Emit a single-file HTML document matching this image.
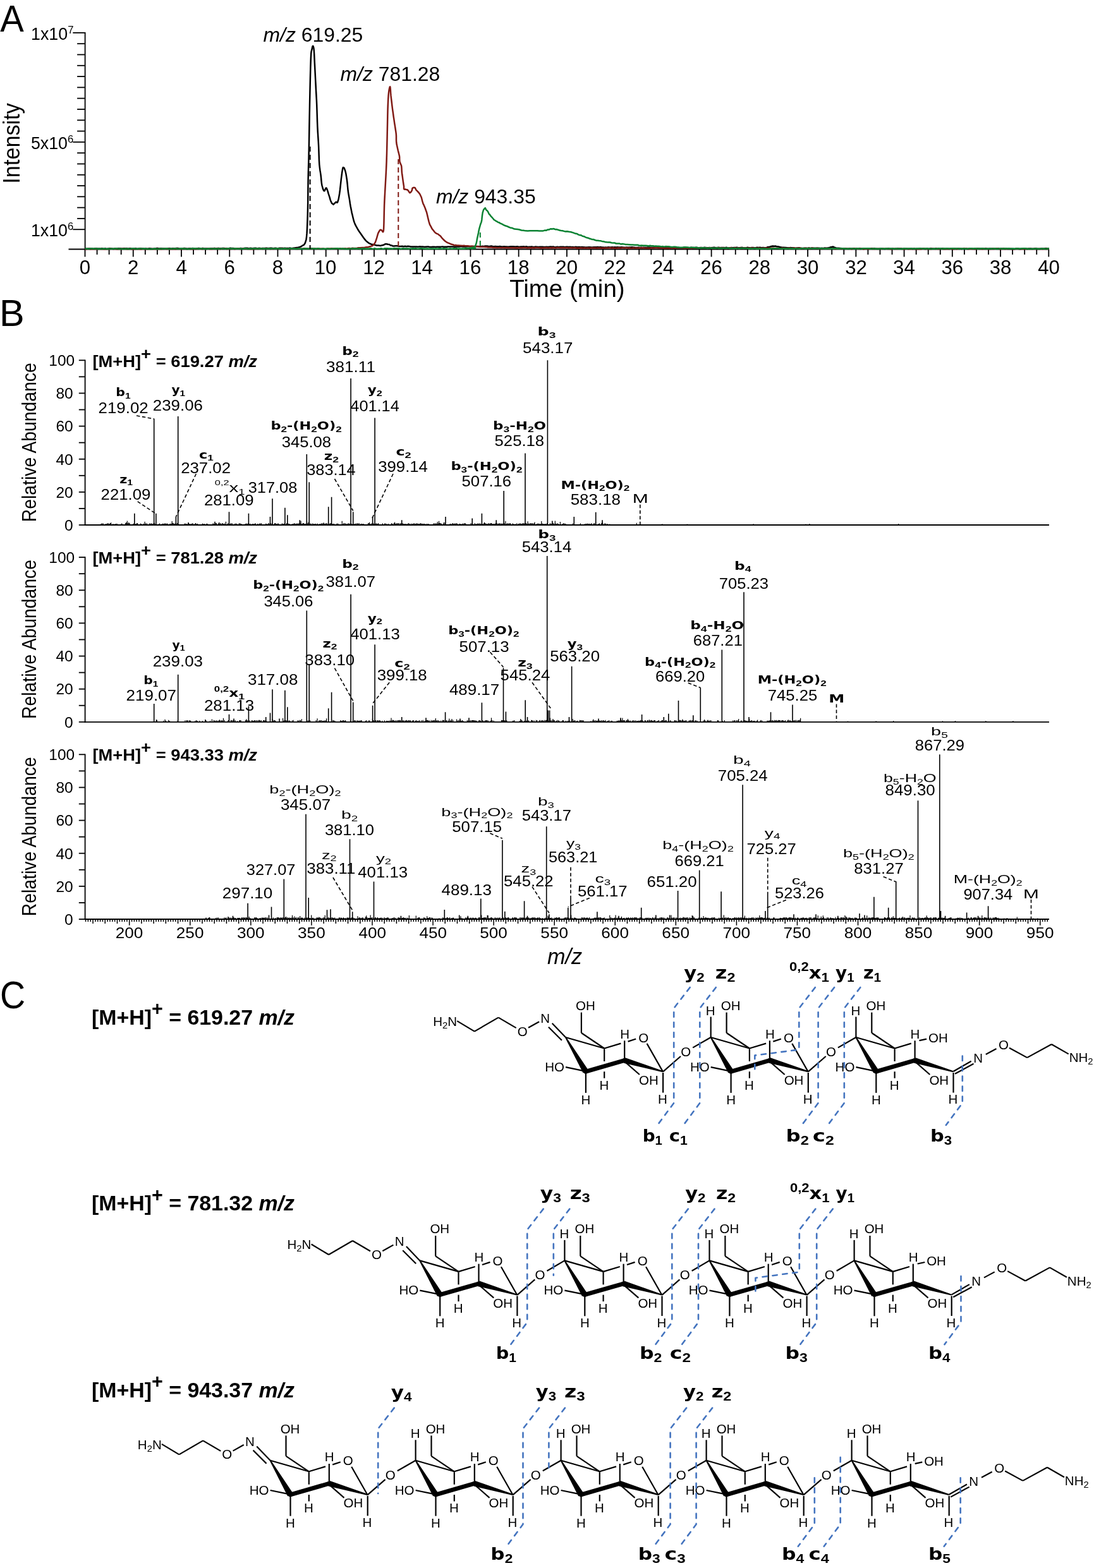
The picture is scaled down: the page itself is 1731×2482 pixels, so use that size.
<!DOCTYPE html>
<html><head><meta charset="utf-8"><title>Figure</title>
<style>html,body{margin:0;padding:0;background:#fff;overflow:hidden;} svg{display:block;} text{white-space:pre;}</style>
</head><body>
<svg width="1731" height="2482" viewBox="0 0 1731 2482">
<rect width="1731" height="2482" fill="#fff"/>
<text transform="translate(0.30,50.20) scale(0.9468,1.0000)" x="0" y="0" fill="#000"><tspan font-family="'Liberation Sans', sans-serif" font-size="59.40">A</tspan></text>
<line x1="134.60" y1="51.00" x2="134.60" y2="395.40" stroke="#000" stroke-width="1.8" />
<line x1="108.50" y1="394.50" x2="1660.00" y2="394.50" stroke="#000" stroke-width="1.8" />
<line x1="115.30" y1="51.90" x2="134.60" y2="51.90" stroke="#000" stroke-width="1.8" />
<line x1="122.10" y1="69.19" x2="134.60" y2="69.19" stroke="#000" stroke-width="1.8" />
<line x1="122.10" y1="86.49" x2="134.60" y2="86.49" stroke="#000" stroke-width="1.8" />
<line x1="122.10" y1="103.78" x2="134.60" y2="103.78" stroke="#000" stroke-width="1.8" />
<line x1="122.10" y1="121.08" x2="134.60" y2="121.08" stroke="#000" stroke-width="1.8" />
<line x1="122.10" y1="138.38" x2="134.60" y2="138.38" stroke="#000" stroke-width="1.8" />
<line x1="122.10" y1="155.67" x2="134.60" y2="155.67" stroke="#000" stroke-width="1.8" />
<line x1="122.10" y1="172.97" x2="134.60" y2="172.97" stroke="#000" stroke-width="1.8" />
<line x1="122.10" y1="190.26" x2="134.60" y2="190.26" stroke="#000" stroke-width="1.8" />
<line x1="122.10" y1="207.56" x2="134.60" y2="207.56" stroke="#000" stroke-width="1.8" />
<line x1="115.30" y1="224.85" x2="134.60" y2="224.85" stroke="#000" stroke-width="1.8" />
<line x1="122.10" y1="242.15" x2="134.60" y2="242.15" stroke="#000" stroke-width="1.8" />
<line x1="122.10" y1="259.44" x2="134.60" y2="259.44" stroke="#000" stroke-width="1.8" />
<line x1="122.10" y1="276.74" x2="134.60" y2="276.74" stroke="#000" stroke-width="1.8" />
<line x1="122.10" y1="294.03" x2="134.60" y2="294.03" stroke="#000" stroke-width="1.8" />
<line x1="122.10" y1="311.32" x2="134.60" y2="311.32" stroke="#000" stroke-width="1.8" />
<line x1="122.10" y1="328.62" x2="134.60" y2="328.62" stroke="#000" stroke-width="1.8" />
<line x1="122.10" y1="345.92" x2="134.60" y2="345.92" stroke="#000" stroke-width="1.8" />
<line x1="115.30" y1="363.21" x2="134.60" y2="363.21" stroke="#000" stroke-width="1.8" />
<text x="49.05" y="63.10" fill="#000"><tspan font-family="'Liberation Sans', sans-serif" font-size="26.80">1x10</tspan><tspan font-family="'Liberation Sans', sans-serif" font-size="16.70" dy="-10.51">7</tspan></text>
<text x="48.89" y="236.20" fill="#000"><tspan font-family="'Liberation Sans', sans-serif" font-size="26.80">5x10</tspan><tspan font-family="'Liberation Sans', sans-serif" font-size="16.70" dy="-10.51">6</tspan></text>
<text x="48.89" y="374.40" fill="#000"><tspan font-family="'Liberation Sans', sans-serif" font-size="26.80">1x10</tspan><tspan font-family="'Liberation Sans', sans-serif" font-size="16.70" dy="-10.51">6</tspan></text>
<line x1="134.50" y1="394.50" x2="134.50" y2="406.50" stroke="#000" stroke-width="1.8" />
<line x1="153.56" y1="394.50" x2="153.56" y2="403.00" stroke="#000" stroke-width="1.8" />
<line x1="172.62" y1="394.50" x2="172.62" y2="403.00" stroke="#000" stroke-width="1.8" />
<line x1="191.68" y1="394.50" x2="191.68" y2="403.00" stroke="#000" stroke-width="1.8" />
<line x1="210.74" y1="394.50" x2="210.74" y2="406.50" stroke="#000" stroke-width="1.8" />
<line x1="229.80" y1="394.50" x2="229.80" y2="403.00" stroke="#000" stroke-width="1.8" />
<line x1="248.86" y1="394.50" x2="248.86" y2="403.00" stroke="#000" stroke-width="1.8" />
<line x1="267.92" y1="394.50" x2="267.92" y2="403.00" stroke="#000" stroke-width="1.8" />
<line x1="286.98" y1="394.50" x2="286.98" y2="406.50" stroke="#000" stroke-width="1.8" />
<line x1="306.04" y1="394.50" x2="306.04" y2="403.00" stroke="#000" stroke-width="1.8" />
<line x1="325.10" y1="394.50" x2="325.10" y2="403.00" stroke="#000" stroke-width="1.8" />
<line x1="344.16" y1="394.50" x2="344.16" y2="403.00" stroke="#000" stroke-width="1.8" />
<line x1="363.22" y1="394.50" x2="363.22" y2="406.50" stroke="#000" stroke-width="1.8" />
<line x1="382.28" y1="394.50" x2="382.28" y2="403.00" stroke="#000" stroke-width="1.8" />
<line x1="401.34" y1="394.50" x2="401.34" y2="403.00" stroke="#000" stroke-width="1.8" />
<line x1="420.40" y1="394.50" x2="420.40" y2="403.00" stroke="#000" stroke-width="1.8" />
<line x1="439.46" y1="394.50" x2="439.46" y2="406.50" stroke="#000" stroke-width="1.8" />
<line x1="458.52" y1="394.50" x2="458.52" y2="403.00" stroke="#000" stroke-width="1.8" />
<line x1="477.58" y1="394.50" x2="477.58" y2="403.00" stroke="#000" stroke-width="1.8" />
<line x1="496.64" y1="394.50" x2="496.64" y2="403.00" stroke="#000" stroke-width="1.8" />
<line x1="515.70" y1="394.50" x2="515.70" y2="406.50" stroke="#000" stroke-width="1.8" />
<line x1="534.76" y1="394.50" x2="534.76" y2="403.00" stroke="#000" stroke-width="1.8" />
<line x1="553.82" y1="394.50" x2="553.82" y2="403.00" stroke="#000" stroke-width="1.8" />
<line x1="572.88" y1="394.50" x2="572.88" y2="403.00" stroke="#000" stroke-width="1.8" />
<line x1="591.94" y1="394.50" x2="591.94" y2="406.50" stroke="#000" stroke-width="1.8" />
<line x1="611.00" y1="394.50" x2="611.00" y2="403.00" stroke="#000" stroke-width="1.8" />
<line x1="630.06" y1="394.50" x2="630.06" y2="403.00" stroke="#000" stroke-width="1.8" />
<line x1="649.12" y1="394.50" x2="649.12" y2="403.00" stroke="#000" stroke-width="1.8" />
<line x1="668.18" y1="394.50" x2="668.18" y2="406.50" stroke="#000" stroke-width="1.8" />
<line x1="687.24" y1="394.50" x2="687.24" y2="403.00" stroke="#000" stroke-width="1.8" />
<line x1="706.30" y1="394.50" x2="706.30" y2="403.00" stroke="#000" stroke-width="1.8" />
<line x1="725.36" y1="394.50" x2="725.36" y2="403.00" stroke="#000" stroke-width="1.8" />
<line x1="744.42" y1="394.50" x2="744.42" y2="406.50" stroke="#000" stroke-width="1.8" />
<line x1="763.48" y1="394.50" x2="763.48" y2="403.00" stroke="#000" stroke-width="1.8" />
<line x1="782.54" y1="394.50" x2="782.54" y2="403.00" stroke="#000" stroke-width="1.8" />
<line x1="801.60" y1="394.50" x2="801.60" y2="403.00" stroke="#000" stroke-width="1.8" />
<line x1="820.66" y1="394.50" x2="820.66" y2="406.50" stroke="#000" stroke-width="1.8" />
<line x1="839.72" y1="394.50" x2="839.72" y2="403.00" stroke="#000" stroke-width="1.8" />
<line x1="858.78" y1="394.50" x2="858.78" y2="403.00" stroke="#000" stroke-width="1.8" />
<line x1="877.84" y1="394.50" x2="877.84" y2="403.00" stroke="#000" stroke-width="1.8" />
<line x1="896.90" y1="394.50" x2="896.90" y2="406.50" stroke="#000" stroke-width="1.8" />
<line x1="915.96" y1="394.50" x2="915.96" y2="403.00" stroke="#000" stroke-width="1.8" />
<line x1="935.02" y1="394.50" x2="935.02" y2="403.00" stroke="#000" stroke-width="1.8" />
<line x1="954.08" y1="394.50" x2="954.08" y2="403.00" stroke="#000" stroke-width="1.8" />
<line x1="973.14" y1="394.50" x2="973.14" y2="406.50" stroke="#000" stroke-width="1.8" />
<line x1="992.20" y1="394.50" x2="992.20" y2="403.00" stroke="#000" stroke-width="1.8" />
<line x1="1011.26" y1="394.50" x2="1011.26" y2="403.00" stroke="#000" stroke-width="1.8" />
<line x1="1030.32" y1="394.50" x2="1030.32" y2="403.00" stroke="#000" stroke-width="1.8" />
<line x1="1049.38" y1="394.50" x2="1049.38" y2="406.50" stroke="#000" stroke-width="1.8" />
<line x1="1068.44" y1="394.50" x2="1068.44" y2="403.00" stroke="#000" stroke-width="1.8" />
<line x1="1087.50" y1="394.50" x2="1087.50" y2="403.00" stroke="#000" stroke-width="1.8" />
<line x1="1106.56" y1="394.50" x2="1106.56" y2="403.00" stroke="#000" stroke-width="1.8" />
<line x1="1125.62" y1="394.50" x2="1125.62" y2="406.50" stroke="#000" stroke-width="1.8" />
<line x1="1144.68" y1="394.50" x2="1144.68" y2="403.00" stroke="#000" stroke-width="1.8" />
<line x1="1163.74" y1="394.50" x2="1163.74" y2="403.00" stroke="#000" stroke-width="1.8" />
<line x1="1182.80" y1="394.50" x2="1182.80" y2="403.00" stroke="#000" stroke-width="1.8" />
<line x1="1201.86" y1="394.50" x2="1201.86" y2="406.50" stroke="#000" stroke-width="1.8" />
<line x1="1220.92" y1="394.50" x2="1220.92" y2="403.00" stroke="#000" stroke-width="1.8" />
<line x1="1239.98" y1="394.50" x2="1239.98" y2="403.00" stroke="#000" stroke-width="1.8" />
<line x1="1259.04" y1="394.50" x2="1259.04" y2="403.00" stroke="#000" stroke-width="1.8" />
<line x1="1278.10" y1="394.50" x2="1278.10" y2="406.50" stroke="#000" stroke-width="1.8" />
<line x1="1297.16" y1="394.50" x2="1297.16" y2="403.00" stroke="#000" stroke-width="1.8" />
<line x1="1316.22" y1="394.50" x2="1316.22" y2="403.00" stroke="#000" stroke-width="1.8" />
<line x1="1335.28" y1="394.50" x2="1335.28" y2="403.00" stroke="#000" stroke-width="1.8" />
<line x1="1354.34" y1="394.50" x2="1354.34" y2="406.50" stroke="#000" stroke-width="1.8" />
<line x1="1373.40" y1="394.50" x2="1373.40" y2="403.00" stroke="#000" stroke-width="1.8" />
<line x1="1392.46" y1="394.50" x2="1392.46" y2="403.00" stroke="#000" stroke-width="1.8" />
<line x1="1411.52" y1="394.50" x2="1411.52" y2="403.00" stroke="#000" stroke-width="1.8" />
<line x1="1430.58" y1="394.50" x2="1430.58" y2="406.50" stroke="#000" stroke-width="1.8" />
<line x1="1449.64" y1="394.50" x2="1449.64" y2="403.00" stroke="#000" stroke-width="1.8" />
<line x1="1468.70" y1="394.50" x2="1468.70" y2="403.00" stroke="#000" stroke-width="1.8" />
<line x1="1487.76" y1="394.50" x2="1487.76" y2="403.00" stroke="#000" stroke-width="1.8" />
<line x1="1506.82" y1="394.50" x2="1506.82" y2="406.50" stroke="#000" stroke-width="1.8" />
<line x1="1525.88" y1="394.50" x2="1525.88" y2="403.00" stroke="#000" stroke-width="1.8" />
<line x1="1544.94" y1="394.50" x2="1544.94" y2="403.00" stroke="#000" stroke-width="1.8" />
<line x1="1564.00" y1="394.50" x2="1564.00" y2="403.00" stroke="#000" stroke-width="1.8" />
<line x1="1583.06" y1="394.50" x2="1583.06" y2="406.50" stroke="#000" stroke-width="1.8" />
<line x1="1602.12" y1="394.50" x2="1602.12" y2="403.00" stroke="#000" stroke-width="1.8" />
<line x1="1621.18" y1="394.50" x2="1621.18" y2="403.00" stroke="#000" stroke-width="1.8" />
<line x1="1640.24" y1="394.50" x2="1640.24" y2="403.00" stroke="#000" stroke-width="1.8" />
<line x1="1659.30" y1="394.50" x2="1659.30" y2="406.50" stroke="#000" stroke-width="1.8" />
<text x="125.76" y="434.00" fill="#000"><tspan font-family="'Liberation Sans', sans-serif" font-size="31.20">0</tspan></text>
<text x="202.08" y="434.00" fill="#000"><tspan font-family="'Liberation Sans', sans-serif" font-size="31.20">2</tspan></text>
<text x="278.48" y="434.00" fill="#000"><tspan font-family="'Liberation Sans', sans-serif" font-size="31.20">4</tspan></text>
<text x="354.41" y="434.00" fill="#000"><tspan font-family="'Liberation Sans', sans-serif" font-size="31.20">6</tspan></text>
<text x="430.72" y="434.00" fill="#000"><tspan font-family="'Liberation Sans', sans-serif" font-size="31.20">8</tspan></text>
<text x="497.76" y="434.00" fill="#000"><tspan font-family="'Liberation Sans', sans-serif" font-size="31.20">10</tspan></text>
<text x="574.23" y="434.00" fill="#000"><tspan font-family="'Liberation Sans', sans-serif" font-size="31.20">12</tspan></text>
<text x="650.16" y="434.00" fill="#000"><tspan font-family="'Liberation Sans', sans-serif" font-size="31.20">14</tspan></text>
<text x="726.56" y="434.00" fill="#000"><tspan font-family="'Liberation Sans', sans-serif" font-size="31.20">16</tspan></text>
<text x="802.80" y="434.00" fill="#000"><tspan font-family="'Liberation Sans', sans-serif" font-size="31.20">18</tspan></text>
<text x="879.35" y="434.00" fill="#000"><tspan font-family="'Liberation Sans', sans-serif" font-size="31.20">20</tspan></text>
<text x="955.82" y="434.00" fill="#000"><tspan font-family="'Liberation Sans', sans-serif" font-size="31.20">22</tspan></text>
<text x="1031.75" y="434.00" fill="#000"><tspan font-family="'Liberation Sans', sans-serif" font-size="31.20">24</tspan></text>
<text x="1108.15" y="434.00" fill="#000"><tspan font-family="'Liberation Sans', sans-serif" font-size="31.20">26</tspan></text>
<text x="1184.39" y="434.00" fill="#000"><tspan font-family="'Liberation Sans', sans-serif" font-size="31.20">28</tspan></text>
<text x="1260.71" y="434.00" fill="#000"><tspan font-family="'Liberation Sans', sans-serif" font-size="31.20">30</tspan></text>
<text x="1337.18" y="434.00" fill="#000"><tspan font-family="'Liberation Sans', sans-serif" font-size="31.20">32</tspan></text>
<text x="1413.11" y="434.00" fill="#000"><tspan font-family="'Liberation Sans', sans-serif" font-size="31.20">34</tspan></text>
<text x="1489.50" y="434.00" fill="#000"><tspan font-family="'Liberation Sans', sans-serif" font-size="31.20">36</tspan></text>
<text x="1565.74" y="434.00" fill="#000"><tspan font-family="'Liberation Sans', sans-serif" font-size="31.20">38</tspan></text>
<text x="1642.22" y="434.00" fill="#000"><tspan font-family="'Liberation Sans', sans-serif" font-size="31.20">40</tspan></text>
<text x="806.13" y="469.70" fill="#000"><tspan font-family="'Liberation Sans', sans-serif" font-size="38.50">Time (min)</tspan></text>
<text transform="translate(31.00,287.60) rotate(-90) scale(0.9409,1.0000)" x="-3.28" y="0" fill="#000"><tspan font-family="'Liberation Sans', sans-serif" font-size="36.40">Intensity</tspan></text>
<path d="M134.60,393.34 L136.62,393.84 L138.64,393.78 L140.66,393.42 L142.68,393.58 L144.71,393.55 L146.73,393.68 L148.75,393.78 L150.77,393.29 L152.79,393.24 L154.81,393.80 L156.83,393.51 L158.85,393.74 L160.87,393.20 L162.89,393.51 L164.92,393.70 L166.99,393.35 L169.07,393.85 L171.15,393.82 L173.23,393.20 L175.30,393.20 L177.38,393.55 L179.46,393.83 L181.54,393.43 L183.62,393.31 L185.69,393.45 L187.77,393.18 L189.85,393.31 L191.93,393.45 L194.01,393.49 L196.08,393.30 L198.16,393.30 L200.24,393.29 L202.32,393.45 L204.39,393.33 L206.47,393.14 L208.55,393.71 L210.55,393.50 L212.55,393.56 L214.55,393.24 L216.55,393.80 L218.55,393.70 L220.55,393.18 L222.55,393.33 L224.55,393.59 L226.55,393.58 L228.55,393.74 L230.55,393.37 L232.55,393.66 L234.56,393.54 L236.56,393.28 L238.56,393.48 L240.56,393.68 L242.56,393.65 L244.56,393.41 L246.56,393.46 L248.56,393.07 L250.56,393.21 L252.56,393.60 L254.56,393.33 L256.56,393.15 L258.63,393.41 L260.70,393.52 L262.77,393.49 L264.83,393.28 L266.90,393.32 L268.97,393.36 L271.04,393.55 L273.11,393.37 L275.18,393.27 L277.25,393.34 L279.31,393.01 L281.38,393.02 L283.45,393.47 L285.52,393.67 L287.59,393.39 L289.66,393.25 L291.73,393.08 L293.79,393.31 L295.86,393.65 L297.93,393.49 L300.00,393.33 L302.08,393.55 L304.15,393.11 L306.23,393.30 L308.31,393.60 L310.38,393.34 L312.46,393.25 L314.54,393.11 L316.61,393.30 L318.69,393.59 L320.77,392.92 L322.84,393.46 L324.92,393.48 L327.00,393.52 L329.07,393.42 L331.15,393.46 L333.23,393.26 L335.30,393.28 L337.38,393.18 L339.46,392.92 L341.52,393.49 L343.59,393.27 L345.66,393.01 L347.72,393.22 L349.79,393.20 L351.85,393.11 L353.92,393.10 L355.99,393.23 L358.05,393.29 L360.12,393.28 L362.18,393.17 L364.25,392.86 L366.32,393.00 L368.38,392.96 L370.45,393.24 L372.51,393.43 L374.58,393.38 L376.65,393.38 L378.71,393.39 L380.77,392.99 L382.82,393.40 L384.87,393.28 L386.92,392.86 L388.98,392.81 L391.03,392.80 L393.08,393.32 L395.14,392.96 L397.19,392.86 L399.24,393.21 L401.29,393.01 L403.35,392.82 L405.40,392.87 L407.45,393.13 L409.51,392.87 L411.56,392.94 L413.61,393.24 L415.64,393.06 L417.67,392.96 L419.70,393.06 L421.73,392.73 L423.76,392.98 L425.79,393.00 L427.82,392.83 L429.85,392.76 L431.88,393.31 L433.91,393.03 L435.94,392.81 L437.97,393.08 L440.00,393.22 L442.13,392.65 L444.27,392.63 L446.40,392.70 L448.54,393.09 L450.67,392.68 L452.80,393.05 L454.94,393.01 L457.04,392.88 L459.15,392.61 L461.25,393.10 L463.44,392.81 L466.00,392.41 L469.34,391.96 L471.31,391.97 L472.63,391.45 L474.00,391.15 L475.48,390.48 L476.75,390.15 L477.89,389.09 L479.00,388.46 L480.11,388.15 L481.16,387.28 L482.13,385.72 L483.00,384.25 L483.75,381.65 L484.41,379.56 L484.98,375.76 L485.50,369.94 L485.97,361.67 L486.37,351.35 L486.71,340.81 L487.00,329.08 L487.20,318.55 L487.32,307.17 L487.43,295.23 L487.60,283.27 L487.86,272.64 L488.16,261.88 L488.49,250.08 L488.80,236.51 L489.09,220.48 L489.36,202.72 L489.66,184.07 L490.00,166.02 L490.41,146.41 L490.87,125.70 L491.34,106.84 L491.80,93.02 L492.23,84.72 L492.65,81.21 L493.07,79.55 L493.50,78.26 L493.95,76.03 L494.41,73.74 L494.87,72.88 L495.30,72.78 L495.70,73.69 L496.07,74.64 L496.44,76.43 L496.80,79.80 L497.15,85.28 L497.48,91.97 L497.82,99.50 L498.20,106.89 L498.64,115.81 L499.11,125.05 L499.58,134.18 L500.00,142.74 L500.34,148.65 L500.64,154.31 L500.91,159.18 L501.20,165.67 L501.49,174.32 L501.77,182.98 L502.06,192.69 L502.40,201.27 L502.80,209.20 L503.25,216.18 L503.70,223.28 L504.10,230.45 L504.41,238.48 L504.66,246.11 L504.93,253.80 L505.30,260.27 L505.81,265.03 L506.41,269.71 L507.03,273.35 L507.60,277.28 L508.05,281.45 L508.43,286.07 L508.84,289.83 L509.40,293.23 L510.15,295.99 L511.04,299.04 L511.98,301.39 L512.90,302.31 L513.78,301.86 L514.66,299.66 L515.56,297.67 L516.50,297.44 L517.50,299.68 L518.56,302.58 L519.61,306.44 L520.60,309.37 L521.52,312.14 L522.39,315.42 L523.24,318.11 L524.10,319.66 L524.97,321.66 L525.84,322.35 L526.72,323.01 L527.60,323.77 L528.51,322.71 L529.44,321.79 L530.35,321.13 L531.20,319.94 L531.97,319.79 L532.69,320.36 L533.38,320.65 L534.10,320.17 L534.83,317.77 L535.56,315.63 L536.31,311.62 L537.10,307.33 L537.97,300.69 L538.89,292.11 L539.80,283.96 L540.60,277.58 L541.24,272.66 L541.78,269.46 L542.30,266.50 L542.90,264.96 L543.60,265.28 L544.36,265.56 L545.14,267.36 L545.90,269.36 L546.66,272.01 L547.42,275.29 L548.15,279.78 L548.80,283.83 L549.32,288.09 L549.74,292.08 L550.14,296.74 L550.60,301.28 L551.15,305.37 L551.75,308.66 L552.35,312.16 L552.90,315.41 L553.36,318.19 L553.77,321.25 L554.19,323.90 L554.70,326.82 L555.31,329.87 L555.99,333.27 L556.73,337.06 L557.50,339.96 L558.29,343.44 L559.11,346.82 L560.00,350.30 L561.00,352.92 L562.05,355.39 L563.16,357.60 L564.43,359.80 L566.00,362.74 L568.00,365.99 L570.34,369.19 L572.76,372.78 L575.00,376.03 L576.98,378.62 L578.84,380.87 L580.66,382.54 L582.50,383.96 L584.27,385.28 L585.97,385.93 L587.81,386.82 L590.00,387.00 L592.74,387.58 L595.86,388.49 L599.06,388.60 L602.00,389.00 L604.62,388.31 L607.08,387.69 L609.43,386.34 L611.70,386.20 L613.93,386.74 L616.08,387.00 L618.12,388.48 L620.00,388.57 L621.24,389.30 L622.02,389.61 L623.29,389.59 L626.00,389.37 L628.30,389.31 L630.59,389.69 L633.55,390.06 L636.50,389.71 L638.72,390.19 L640.94,389.72 L643.16,390.32 L645.44,389.76 L647.72,390.02 L650.00,390.48 L652.28,390.47 L654.56,390.60 L656.84,390.61 L659.23,390.61 L661.61,390.63 L664.00,390.33 L666.55,390.56 L669.10,390.42 L671.66,390.86 L673.74,390.85 L675.83,390.58 L677.91,390.47 L680.00,391.12 L682.27,391.02 L684.53,390.84 L686.80,390.84 L689.06,391.07 L691.48,390.78 L693.91,390.73 L696.33,390.68 L698.75,390.62 L700.81,390.44 L702.88,390.86 L704.94,390.68 L707.00,390.78 L709.06,390.40 L711.25,390.59 L713.44,390.41 L715.62,390.38 L717.81,390.45 L720.00,390.83 L722.04,390.50 L724.09,390.47 L726.13,390.58 L728.18,390.29 L730.22,390.10 L732.27,390.43 L734.49,390.37 L736.72,390.43 L738.95,390.24 L741.17,390.37 L743.40,390.36 L745.62,389.97 L747.80,390.11 L749.97,390.06 L752.15,389.85 L754.32,389.94 L756.50,390.00 L758.67,390.21 L760.94,390.19 L763.20,389.72 L765.47,389.95 L767.73,389.51 L770.00,389.50 L772.42,389.82 L774.84,390.08 L777.27,389.59 L779.57,390.08 L781.88,390.22 L783.93,389.88 L785.99,390.21 L788.05,390.37 L790.44,390.07 L792.83,390.34 L795.22,390.40 L797.61,390.33 L800.00,390.55 L802.01,390.59 L804.02,390.65 L806.02,390.40 L808.03,390.14 L810.04,390.21 L812.05,390.20 L814.05,390.46 L816.06,390.61 L818.07,390.13 L820.08,390.59 L822.21,390.63 L824.34,390.39 L826.46,390.52 L828.59,390.29 L830.72,390.70 L832.85,390.23 L834.98,390.91 L837.11,390.80 L839.24,390.69 L841.37,390.45 L843.50,390.92 L845.62,390.97 L847.76,390.41 L849.89,390.87 L852.03,390.93 L854.16,390.81 L856.29,390.85 L858.43,390.69 L860.56,391.04 L862.69,391.09 L864.83,390.69 L866.96,391.00 L869.09,390.75 L871.23,390.58 L873.36,390.71 L875.41,390.58 L877.46,391.14 L879.51,391.19 L881.56,390.61 L883.61,390.96 L885.66,390.84 L887.70,390.65 L889.75,390.79 L891.80,390.77 L893.85,391.13 L895.90,390.63 L897.95,390.77 L900.00,390.96 L902.08,390.68 L904.17,391.12 L906.25,391.11 L908.33,391.29 L910.42,390.86 L912.50,390.93 L914.58,391.12 L916.67,390.95 L918.75,391.18 L920.83,390.96 L922.92,391.28 L925.00,391.37 L927.08,391.39 L929.17,391.52 L931.25,391.23 L933.33,391.21 L935.42,391.48 L937.50,391.43 L939.58,391.30 L941.67,391.18 L943.75,391.13 L945.83,391.02 L947.92,391.52 L950.00,391.05 L952.08,391.50 L954.17,391.38 L956.25,391.68 L958.33,391.55 L960.42,391.71 L962.50,391.14 L964.58,391.41 L966.67,391.47 L968.75,391.30 L970.83,391.44 L972.92,391.35 L975.00,391.49 L977.08,391.13 L979.17,391.45 L981.25,391.46 L983.33,391.37 L985.42,391.45 L987.50,391.73 L989.58,391.67 L991.67,391.55 L993.75,391.67 L995.83,391.49 L997.92,391.38 L1000.00,391.25 L1002.08,391.45 L1004.17,391.69 L1006.25,391.90 L1008.33,391.87 L1010.42,391.66 L1012.50,392.00 L1014.58,391.65 L1016.67,391.92 L1018.75,391.63 L1020.83,391.87 L1022.92,392.05 L1025.00,391.59 L1027.08,391.50 L1029.17,391.83 L1031.25,391.77 L1033.33,391.66 L1035.42,391.42 L1037.50,391.70 L1039.58,391.74 L1041.67,391.73 L1043.75,392.06 L1045.83,391.88 L1047.92,391.99 L1050.00,392.12 L1052.08,392.02 L1054.17,391.85 L1056.25,392.03 L1058.33,391.97 L1060.42,391.98 L1062.50,391.98 L1064.58,391.83 L1066.67,391.99 L1068.75,392.00 L1070.83,392.22 L1072.92,392.12 L1075.00,392.18 L1077.08,392.13 L1079.17,392.16 L1081.25,392.02 L1083.33,391.85 L1085.42,391.80 L1087.50,392.11 L1089.58,392.23 L1091.67,392.01 L1093.75,391.74 L1095.83,392.22 L1097.92,391.98 L1100.00,391.98 L1102.08,391.69 L1104.15,392.01 L1106.23,392.18 L1108.31,391.96 L1110.38,391.92 L1112.46,392.13 L1114.53,391.69 L1116.61,392.03 L1118.69,392.34 L1120.76,392.17 L1122.84,391.97 L1124.92,392.18 L1126.99,392.12 L1129.02,391.85 L1131.04,391.85 L1133.06,392.32 L1135.08,391.89 L1137.11,391.76 L1139.13,392.29 L1141.15,392.08 L1143.18,391.97 L1145.20,392.07 L1147.22,392.23 L1149.24,391.84 L1151.27,392.18 L1153.29,392.22 L1155.31,392.30 L1157.45,391.91 L1159.59,392.15 L1161.73,391.89 L1163.87,392.11 L1166.01,391.84 L1168.14,392.27 L1170.28,392.33 L1172.42,391.95 L1174.56,391.87 L1176.70,392.39 L1178.84,392.21 L1180.98,392.31 L1183.09,391.73 L1185.20,392.33 L1187.32,392.13 L1189.43,391.91 L1191.55,391.98 L1193.66,392.20 L1195.77,392.21 L1197.89,391.79 L1200.00,392.09 L1202.46,391.74 L1204.92,392.27 L1207.38,391.87 L1209.84,392.17 L1213.12,391.87 L1213.59,391.56 L1215.00,391.03 L1217.85,390.78 L1220.31,389.94 L1222.62,389.45 L1225.00,389.65 L1227.38,389.60 L1229.69,390.34 L1232.15,390.55 L1235.00,391.35 L1237.46,391.71 L1239.69,391.75 L1243.32,391.89 L1245.55,392.17 L1247.77,392.32 L1250.00,392.12 L1252.39,392.22 L1254.79,392.18 L1257.18,392.60 L1259.58,392.85 L1261.97,392.42 L1264.22,392.32 L1266.48,392.82 L1268.73,392.92 L1270.99,393.05 L1273.24,392.84 L1275.50,392.67 L1277.75,393.05 L1279.99,392.56 L1282.22,392.97 L1284.46,392.57 L1286.70,392.79 L1288.93,392.87 L1291.17,392.80 L1293.41,392.67 L1295.72,392.69 L1298.04,393.09 L1300.36,392.81 L1302.68,392.88 L1305.00,392.60 L1307.93,392.72 L1310.87,392.21 L1313.31,391.65 L1314.35,391.19 L1316.00,390.95 L1318.36,390.56 L1320.50,391.73 L1322.89,392.50 L1326.00,392.67 L1329.27,393.01 L1332.69,393.34 L1335.10,393.63 L1337.51,393.33 L1340.01,393.70 L1342.50,393.65 L1345.00,393.26 L1347.14,393.81 L1349.28,393.21 L1351.41,393.32 L1353.42,393.69 L1355.43,393.28 L1357.44,393.51 L1359.70,393.34 L1361.96,393.57 L1364.21,393.83 L1366.47,393.88 L1368.73,393.27 L1370.99,393.29 L1373.06,393.83 L1375.14,393.28 L1377.21,393.44 L1379.28,393.33 L1381.35,393.31 L1383.42,393.27 L1385.50,393.69 L1387.57,393.77 L1389.64,393.73 L1391.71,393.84 L1393.78,393.71 L1395.86,393.52 L1397.93,393.69 L1400.00,393.93 L1402.02,393.70 L1404.05,393.42 L1406.07,393.29 L1408.10,393.91 L1410.12,393.66 L1412.15,393.50 L1414.17,393.68 L1416.19,393.64 L1418.22,393.62 L1420.24,393.30 L1422.27,393.50 L1424.29,393.54 L1426.32,393.39 L1428.34,393.87 L1430.36,393.55 L1432.39,393.72 L1434.41,393.75 L1436.44,393.77 L1438.46,393.76 L1440.49,393.78 L1442.51,393.43 L1444.53,393.94 L1446.56,393.36 L1448.58,393.90 L1450.61,393.85 L1452.63,393.85 L1454.66,393.29 L1456.68,393.32 L1458.70,393.83 L1460.72,393.59 L1462.74,393.52 L1464.76,393.95 L1466.78,393.29 L1468.80,393.63 L1470.82,393.57 L1472.84,393.35 L1474.86,393.53 L1476.88,393.75 L1478.90,393.87 L1480.92,393.27 L1482.94,393.62 L1484.96,393.32 L1486.98,393.82 L1489.00,393.32 L1491.02,393.28 L1493.04,393.53 L1495.06,393.77 L1497.08,393.48 L1499.10,393.35 L1501.12,393.81 L1503.14,393.82 L1505.16,393.86 L1507.18,393.47 L1509.20,393.55 L1511.22,393.43 L1513.24,393.65 L1515.26,393.49 L1517.28,393.49 L1519.30,393.80 L1521.32,393.93 L1523.34,393.67 L1525.36,393.33 L1527.38,393.71 L1529.40,393.57 L1531.42,393.95 L1533.44,393.76 L1535.47,393.84 L1537.49,393.75 L1539.52,393.63 L1541.55,393.88 L1543.58,393.84 L1545.61,393.46 L1547.63,393.37 L1549.66,393.51 L1551.69,393.62 L1553.72,393.32 L1555.75,393.50 L1557.77,393.66 L1559.80,393.29 L1561.83,393.83 L1563.86,393.71 L1565.89,393.47 L1567.91,393.46 L1569.94,393.50 L1571.97,393.48 L1574.00,393.78 L1576.03,393.60 L1578.06,393.62 L1580.08,393.36 L1582.11,393.89 L1584.14,393.48 L1586.17,393.48 L1588.20,393.30 L1590.22,393.94 L1592.25,393.59 L1594.28,393.89 L1596.31,393.90 L1598.34,393.93 L1600.36,393.82 L1602.39,393.90 L1604.42,393.90 L1606.45,393.81 L1608.48,393.35 L1610.54,393.62 L1612.60,393.66 L1614.66,393.95 L1616.72,393.80 L1618.78,393.74 L1620.84,393.77 L1622.90,393.50 L1624.96,393.91 L1627.03,393.70 L1629.09,393.53 L1631.15,393.58 L1633.21,393.94 L1635.27,393.62 L1637.33,393.37 L1639.39,393.35 L1641.45,393.73 L1643.51,393.64 L1645.57,393.89 L1647.63,393.38 L1649.70,393.54 L1651.76,393.76 L1653.82,393.29 L1655.88,393.32 L1657.94,393.63 L1660.00,393.60" fill="none" stroke="#000" stroke-width="2.5" stroke-linejoin="round" />
<path d="M134.60,394.52 L136.63,394.51 L138.65,393.89 L140.68,393.90 L142.70,394.43 L144.73,394.36 L146.75,394.31 L148.78,394.05 L150.80,394.26 L152.83,394.26 L154.85,394.24 L156.88,393.94 L158.90,394.13 L160.93,394.10 L162.95,394.33 L164.98,394.52 L167.00,394.48 L169.03,394.20 L171.05,394.13 L173.08,394.00 L175.10,393.84 L177.13,393.83 L179.15,394.13 L181.18,394.03 L183.20,394.07 L185.23,394.43 L187.26,394.17 L189.30,394.19 L191.34,393.96 L193.37,393.81 L195.41,394.02 L197.45,393.88 L199.49,394.14 L201.52,394.48 L203.56,394.26 L205.60,393.91 L207.63,394.41 L209.67,394.34 L211.71,394.29 L213.74,394.41 L215.78,394.31 L217.82,394.32 L219.85,394.02 L221.89,394.45 L223.93,394.44 L225.96,393.87 L228.00,394.29 L230.04,394.26 L232.07,394.08 L234.11,394.13 L236.15,394.10 L238.18,394.40 L240.22,394.10 L242.26,394.33 L244.29,393.99 L246.33,394.36 L248.37,394.37 L250.40,394.06 L252.44,394.13 L254.48,394.38 L256.51,394.24 L258.55,394.07 L260.59,393.88 L262.64,393.95 L264.68,394.21 L266.73,393.84 L268.77,394.36 L270.82,393.91 L272.86,394.35 L274.91,393.93 L276.95,394.38 L279.00,394.20 L281.04,394.06 L283.09,394.07 L285.13,394.16 L287.18,394.11 L289.22,393.92 L291.26,393.84 L293.31,394.05 L295.35,394.34 L297.40,394.12 L299.44,393.74 L301.49,394.26 L303.53,394.19 L305.58,394.32 L307.62,393.81 L309.67,394.20 L311.71,393.71 L313.76,394.13 L315.80,393.86 L317.84,393.82 L319.89,394.28 L321.93,393.74 L323.98,394.03 L326.02,394.26 L328.07,393.83 L330.11,393.80 L332.16,394.27 L334.20,393.94 L336.25,394.15 L338.30,393.67 L340.36,393.89 L342.42,393.76 L344.47,394.10 L346.53,393.69 L348.59,394.30 L350.64,393.64 L352.70,394.13 L354.76,393.63 L356.81,393.79 L358.87,394.18 L360.93,393.72 L362.98,393.73 L365.04,394.09 L367.10,393.87 L369.15,393.63 L371.21,394.29 L373.26,393.70 L375.32,393.61 L377.38,393.83 L379.43,394.01 L381.49,394.10 L383.55,393.65 L385.60,393.81 L387.66,393.59 L389.72,393.88 L391.77,394.10 L393.83,394.08 L395.89,394.19 L397.94,394.08 L400.00,394.15 L402.02,394.04 L404.04,393.87 L406.07,393.69 L408.09,393.99 L410.11,393.75 L412.13,393.59 L414.16,393.83 L416.18,394.13 L418.20,393.60 L420.22,393.91 L422.25,393.78 L424.27,393.86 L426.29,393.59 L428.31,394.16 L430.33,393.66 L432.36,393.90 L434.38,393.77 L436.40,393.48 L438.42,393.85 L440.45,393.56 L442.47,393.49 L444.49,393.47 L446.51,393.56 L448.54,393.51 L450.57,393.88 L452.59,393.78 L454.62,394.11 L456.65,394.07 L458.67,394.11 L460.70,393.57 L462.73,393.71 L464.76,393.57 L466.78,393.80 L468.81,393.82 L470.84,393.93 L472.86,393.86 L474.89,393.54 L476.92,393.65 L478.94,393.72 L480.97,393.35 L483.00,393.36 L485.02,393.62 L487.09,393.40 L489.16,393.82 L491.22,393.47 L493.29,393.37 L495.36,393.41 L497.42,393.44 L499.49,393.42 L501.56,393.63 L503.62,393.58 L505.69,393.46 L507.76,393.68 L509.82,393.38 L511.89,393.85 L513.96,393.88 L516.02,393.71 L518.20,393.49 L520.38,393.53 L522.56,393.57 L524.74,393.18 L526.92,393.42 L529.10,393.49 L531.28,393.23 L533.46,393.16 L535.64,393.64 L537.82,393.32 L540.00,393.41 L542.08,393.67 L544.16,393.43 L546.24,393.18 L548.33,393.64 L550.41,393.19 L552.49,392.92 L554.57,393.36 L557.44,392.85 L560.31,392.90 L562.15,393.07 L565.00,392.72 L567.31,392.14 L569.62,392.33 L573.56,392.06 L576.98,391.84 L580.00,391.30 L582.56,391.18 L584.62,390.41 L586.38,390.05 L588.00,389.41 L589.51,388.94 L590.81,387.33 L591.96,386.61 L593.00,384.78 L593.90,383.30 L594.66,381.14 L595.33,379.06 L596.00,377.18 L596.66,374.84 L597.28,372.52 L597.89,370.49 L598.50,368.71 L599.12,367.78 L599.75,366.38 L600.38,365.58 L601.00,364.63 L601.62,363.68 L602.25,363.89 L602.88,363.98 L603.50,364.16 L604.16,364.74 L604.83,365.81 L605.47,366.84 L606.00,367.21 L606.40,366.45 L606.70,365.89 L606.95,363.94 L607.20,360.32 L607.44,353.22 L607.64,343.98 L607.85,333.99 L608.10,324.86 L608.38,318.13 L608.67,312.62 L609.00,306.51 L609.40,299.15 L609.91,289.90 L610.50,279.40 L611.09,267.67 L611.60,255.92 L612.00,242.55 L612.34,228.91 L612.63,215.80 L612.90,203.15 L613.12,193.10 L613.30,183.78 L613.48,175.67 L613.70,168.88 L613.97,162.34 L614.26,156.34 L614.60,151.00 L615.00,146.86 L615.51,142.98 L616.10,140.00 L616.69,137.83 L617.20,137.16 L617.56,138.84 L617.83,141.90 L618.10,146.54 L618.50,151.41 L619.05,156.17 L619.69,161.22 L620.38,167.28 L621.10,173.05 L621.85,178.28 L622.65,184.35 L623.45,189.53 L624.20,194.84 L624.94,199.39 L625.67,204.29 L626.32,208.35 L626.80,212.15 L627.00,215.43 L627.00,218.88 L627.00,221.70 L627.20,225.27 L627.70,228.82 L628.39,231.75 L629.13,235.25 L629.80,238.19 L630.42,240.63 L631.03,243.02 L631.58,245.21 L632.00,247.14 L632.20,249.20 L632.22,251.79 L632.27,253.54 L632.50,255.87 L633.04,257.58 L633.78,259.23 L634.53,260.92 L635.10,262.41 L635.40,264.97 L635.55,267.34 L635.67,270.24 L635.90,273.33 L636.29,276.30 L636.77,279.36 L637.26,283.13 L637.70,286.35 L638.08,289.06 L638.44,291.21 L638.75,293.36 L639.00,294.56 L639.07,296.67 L639.01,297.70 L639.04,298.54 L639.40,299.48 L640.27,299.91 L641.49,299.53 L642.76,300.12 L643.80,300.29 L644.50,300.22 L645.01,300.96 L645.47,301.29 L646.00,301.58 L646.61,302.93 L647.25,303.62 L647.91,304.95 L648.60,305.25 L649.36,304.76 L650.18,304.08 L650.96,302.87 L651.60,301.59 L651.99,301.02 L652.22,299.16 L652.46,297.98 L652.90,297.49 L653.65,297.24 L654.59,296.84 L655.56,296.90 L656.40,296.99 L657.01,297.82 L657.50,298.64 L657.99,299.77 L658.60,301.00 L659.40,301.56 L660.33,302.44 L661.26,303.73 L662.10,304.17 L662.82,305.40 L663.48,306.23 L664.10,306.83 L664.70,308.02 L665.28,309.24 L665.83,310.54 L666.37,311.40 L666.90,312.96 L667.44,314.98 L667.97,317.16 L668.50,319.11 L669.00,320.66 L669.41,322.14 L669.77,323.13 L670.19,323.50 L670.80,325.03 L671.66,326.99 L672.70,329.52 L673.84,332.78 L675.00,335.87 L676.14,340.46 L677.29,345.43 L678.56,350.58 L680.00,355.29 L681.70,358.36 L683.59,362.10 L685.57,364.52 L687.50,367.10 L689.38,368.88 L691.25,369.86 L693.12,370.63 L695.00,372.24 L696.88,373.57 L698.75,376.09 L700.62,378.06 L702.50,380.02 L704.38,381.76 L706.25,383.04 L708.12,384.07 L710.00,384.87 L711.88,385.69 L713.75,386.58 L715.62,387.02 L717.50,387.54 L719.20,388.35 L720.78,387.93 L722.60,388.55 L725.00,388.42 L728.22,388.65 L732.03,388.88 L734.05,388.84 L736.07,389.24 L740.00,389.27 L743.56,389.64 L747.00,389.67 L750.69,390.25 L752.84,390.38 L755.00,390.16 L757.61,390.47 L760.21,390.85 L763.14,390.64 L766.06,390.69 L768.09,390.93 L770.11,391.03 L772.13,391.52 L775.07,391.46 L778.00,391.60 L781.74,392.06 L784.19,391.73 L786.61,392.15 L789.04,392.04 L791.23,391.89 L793.42,392.19 L795.62,391.87 L797.81,392.25 L800.00,392.30 L802.17,392.01 L804.34,392.15 L806.51,392.35 L808.67,392.21 L810.84,392.23 L813.01,392.32 L815.18,392.38 L817.35,392.26 L819.52,392.43 L821.65,391.96 L823.78,392.20 L825.92,392.24 L828.05,392.04 L830.19,392.07 L832.32,391.92 L834.45,392.48 L836.59,392.07 L838.72,392.16 L840.86,392.46 L842.99,391.98 L845.12,392.53 L847.13,391.95 L849.13,391.89 L851.14,392.12 L853.14,392.14 L855.14,392.54 L857.15,392.52 L859.15,392.44 L861.15,392.22 L863.16,392.30 L865.16,392.10 L867.16,392.52 L869.17,392.22 L871.17,392.15 L873.17,392.41 L875.24,392.07 L877.30,392.20 L879.36,392.63 L881.43,392.06 L883.49,392.10 L885.55,392.15 L887.62,392.18 L889.68,392.31 L891.75,392.20 L893.81,392.27 L895.87,392.21 L897.94,392.21 L900.00,392.48 L902.06,392.29 L904.12,392.32 L906.18,392.60 L908.24,392.12 L910.30,392.18 L912.36,392.68 L914.42,392.39 L916.48,392.64 L918.54,392.20 L920.60,392.47 L922.66,392.71 L924.77,392.36 L926.88,392.66 L928.98,392.56 L931.09,392.41 L933.20,392.84 L935.31,392.42 L937.42,392.48 L939.53,392.59 L941.64,392.38 L943.75,392.75 L945.77,392.58 L947.79,392.58 L949.80,392.55 L951.82,392.87 L953.84,392.87 L955.86,392.77 L957.88,392.51 L959.90,392.48 L961.91,392.56 L963.93,392.23 L965.95,392.28 L967.97,392.90 L969.97,392.30 L971.97,392.87 L973.97,392.69 L975.98,392.86 L977.98,392.27 L979.98,392.44 L981.98,392.78 L983.98,392.23 L985.99,392.30 L987.99,392.48 L989.99,392.36 L991.99,392.34 L993.99,392.71 L996.00,392.31 L998.00,392.93 L1000.00,392.70 L1002.06,392.29 L1004.12,392.88 L1006.18,392.43 L1008.24,392.60 L1010.30,392.65 L1012.36,392.36 L1014.42,392.62 L1016.48,392.31 L1018.54,392.41 L1020.60,392.91 L1022.66,392.85 L1024.72,392.64 L1026.78,392.75 L1028.84,392.89 L1030.89,392.38 L1032.95,392.63 L1035.01,392.38 L1037.07,392.37 L1039.13,392.36 L1041.19,392.44 L1043.25,392.33 L1045.31,392.45 L1047.34,392.56 L1049.36,392.73 L1051.39,392.90 L1053.41,392.93 L1055.44,392.81 L1057.47,392.66 L1059.49,392.95 L1061.52,392.42 L1063.54,392.38 L1065.57,392.88 L1067.59,392.75 L1069.62,392.46 L1071.64,392.58 L1073.67,392.53 L1075.69,392.62 L1077.72,392.62 L1079.75,392.60 L1081.77,392.88 L1083.80,392.89 L1085.82,392.72 L1087.85,392.66 L1089.87,392.53 L1091.90,392.87 L1093.92,393.02 L1095.95,392.49 L1097.97,392.83 L1100.00,392.83 L1102.03,392.80 L1104.05,392.36 L1106.08,392.73 L1108.10,392.49 L1110.13,392.48 L1112.15,392.75 L1114.18,392.80 L1116.20,392.79 L1118.23,392.87 L1120.25,392.85 L1122.28,392.69 L1124.31,392.39 L1126.33,392.90 L1128.36,392.94 L1130.38,392.95 L1132.41,392.78 L1134.43,392.39 L1136.46,392.51 L1138.48,392.45 L1140.51,392.82 L1142.53,392.76 L1144.56,392.51 L1146.59,393.05 L1148.61,393.07 L1150.64,393.01 L1152.66,392.71 L1154.69,392.59 L1156.75,392.54 L1158.81,392.97 L1160.87,392.89 L1162.93,392.59 L1164.99,393.03 L1167.05,392.80 L1169.11,392.70 L1171.16,392.70 L1173.22,392.92 L1175.28,392.73 L1177.34,392.88 L1179.40,392.51 L1181.46,392.92 L1183.52,392.62 L1185.58,393.07 L1187.64,392.58 L1189.70,392.67 L1191.76,392.81 L1193.82,392.72 L1195.88,392.81 L1197.94,393.09 L1200.00,392.59 L1202.06,393.00 L1204.12,392.95 L1206.18,393.02 L1208.24,392.78 L1210.30,392.79 L1212.36,392.72 L1214.42,392.82 L1216.48,392.67 L1218.54,392.63 L1220.61,392.83 L1222.67,392.64 L1224.73,392.84 L1226.79,392.92 L1228.85,392.74 L1230.91,392.64 L1232.97,392.95 L1235.12,393.14 L1237.27,392.70 L1239.41,392.98 L1241.56,393.02 L1243.71,393.19 L1245.86,393.05 L1248.01,392.80 L1250.16,392.73 L1252.30,393.18 L1254.45,392.81 L1256.60,392.62 L1258.75,393.23 L1260.89,392.77 L1263.03,392.86 L1265.17,392.87 L1267.31,392.84 L1269.45,393.18 L1271.59,392.92 L1273.73,393.00 L1275.88,393.00 L1278.02,393.30 L1280.16,392.74 L1282.36,393.14 L1284.57,392.84 L1286.77,392.87 L1288.98,393.20 L1291.18,393.06 L1293.39,392.85 L1295.59,393.23 L1297.80,393.48 L1300.00,393.30 L1302.03,393.23 L1304.06,393.47 L1306.09,393.58 L1308.12,393.07 L1310.16,393.20 L1312.19,393.70 L1314.84,393.77 L1317.50,393.37 L1319.81,393.76 L1322.12,393.91 L1324.44,393.75 L1326.75,393.87 L1329.06,393.78 L1331.12,393.59 L1333.19,393.58 L1335.25,393.49 L1337.31,393.92 L1339.38,393.56 L1341.44,393.91 L1343.50,393.75 L1345.56,393.79 L1347.62,394.18 L1349.69,393.78 L1351.75,393.85 L1353.81,393.79 L1355.88,393.68 L1357.94,393.70 L1360.00,393.92 L1362.04,394.12 L1364.07,393.62 L1366.11,394.22 L1368.14,394.03 L1370.18,393.60 L1372.22,394.05 L1374.25,393.84 L1376.29,393.92 L1378.33,393.63 L1380.36,393.92 L1382.40,393.93 L1384.43,394.12 L1386.47,393.98 L1388.51,394.06 L1390.54,394.09 L1392.58,393.73 L1394.61,393.59 L1396.65,393.91 L1398.69,393.67 L1400.72,393.68 L1402.76,393.81 L1404.79,393.96 L1406.83,394.02 L1408.87,394.04 L1410.90,394.25 L1412.94,393.66 L1414.98,393.98 L1417.01,393.65 L1419.05,394.06 L1421.08,393.90 L1423.12,393.70 L1425.16,393.82 L1427.17,394.06 L1429.18,393.93 L1431.20,394.26 L1433.21,393.85 L1435.22,393.84 L1437.24,394.24 L1439.25,394.02 L1441.26,393.67 L1443.28,394.15 L1445.29,393.85 L1447.30,394.26 L1449.32,394.04 L1451.33,394.16 L1453.35,394.22 L1455.36,393.95 L1457.37,394.27 L1459.39,393.62 L1461.40,393.84 L1463.41,394.18 L1465.43,393.60 L1467.44,394.07 L1469.45,394.30 L1471.47,394.10 L1473.48,394.20 L1475.49,393.65 L1477.51,393.97 L1479.52,394.02 L1481.53,393.90 L1483.55,393.89 L1485.56,394.15 L1487.57,393.71 L1489.59,393.63 L1491.60,394.01 L1493.62,394.27 L1495.63,394.17 L1497.64,394.07 L1499.66,393.80 L1501.67,394.23 L1503.68,393.62 L1505.70,393.77 L1507.71,394.15 L1509.72,394.22 L1511.74,393.88 L1513.75,394.23 L1515.77,393.67 L1517.78,394.01 L1519.80,393.64 L1521.82,393.75 L1523.83,393.72 L1525.85,393.59 L1527.87,393.87 L1529.88,393.94 L1531.90,393.78 L1533.92,394.04 L1535.93,393.62 L1537.95,393.95 L1539.97,393.95 L1541.98,393.87 L1544.00,394.22 L1546.02,393.67 L1548.03,393.88 L1550.05,393.90 L1552.07,393.84 L1554.08,394.26 L1556.10,393.98 L1558.12,393.94 L1560.13,393.89 L1562.15,393.88 L1564.17,394.24 L1566.18,394.14 L1568.20,394.03 L1570.22,393.69 L1572.23,393.99 L1574.25,393.66 L1576.27,393.82 L1578.28,393.59 L1580.30,394.07 L1582.32,394.26 L1584.34,394.02 L1586.35,393.97 L1588.37,393.75 L1590.39,393.88 L1592.40,393.89 L1594.42,393.86 L1596.44,393.76 L1598.45,393.72 L1600.47,394.09 L1602.52,394.23 L1604.57,394.14 L1606.63,394.00 L1608.68,393.58 L1610.73,393.78 L1612.79,394.15 L1614.84,394.24 L1616.89,393.95 L1618.94,393.96 L1621.00,394.04 L1623.05,393.73 L1625.10,394.06 L1627.16,393.81 L1629.21,394.15 L1631.26,393.88 L1633.31,394.02 L1635.37,393.95 L1637.42,393.93 L1639.47,393.88 L1641.52,394.22 L1643.58,394.08 L1645.63,393.85 L1647.68,393.91 L1649.74,394.18 L1651.79,394.08 L1653.84,394.01 L1655.89,394.22 L1657.95,393.63 L1660.00,393.90" fill="none" stroke="#801a14" stroke-width="2.5" stroke-linejoin="round" />
<path d="M134.60,393.56 L136.60,393.84 L138.60,393.68 L140.60,393.89 L142.60,393.91 L144.60,393.40 L146.60,393.36 L148.60,394.10 L150.60,393.58 L152.60,393.55 L154.60,394.24 L156.61,393.76 L158.61,394.09 L160.61,393.77 L162.61,393.91 L164.61,393.47 L166.61,393.91 L168.61,394.12 L170.61,393.80 L172.61,394.00 L174.61,393.94 L176.61,393.39 L178.61,394.01 L180.61,393.86 L182.61,393.60 L184.61,393.36 L186.61,394.11 L188.61,393.75 L190.61,393.97 L192.61,394.11 L194.61,393.97 L196.61,394.15 L198.61,393.68 L200.62,394.04 L202.62,393.72 L204.62,394.16 L206.62,394.11 L208.62,393.40 L210.62,393.44 L212.62,393.51 L214.62,394.18 L216.62,393.71 L218.62,393.88 L220.62,393.58 L222.62,393.77 L224.62,393.66 L226.62,393.62 L228.62,393.83 L230.62,393.83 L232.62,394.12 L234.62,393.92 L236.62,394.14 L238.62,394.07 L240.62,394.19 L242.63,393.91 L244.63,393.45 L246.63,394.07 L248.63,394.17 L250.63,394.11 L252.64,393.81 L254.64,393.94 L256.65,393.48 L258.66,394.04 L260.66,393.81 L262.67,393.55 L264.67,393.35 L266.68,394.06 L268.69,394.18 L270.69,393.37 L272.70,394.01 L274.70,393.66 L276.71,393.42 L278.71,393.55 L280.72,393.98 L282.73,394.07 L284.73,393.32 L286.74,393.83 L288.74,393.32 L290.75,393.93 L292.76,393.58 L294.76,394.07 L296.77,394.16 L298.77,393.73 L300.78,394.17 L302.78,393.55 L304.79,393.34 L306.80,393.81 L308.80,393.30 L310.81,393.45 L312.81,393.64 L314.82,393.82 L316.83,393.41 L318.83,393.31 L320.84,394.05 L322.84,393.55 L324.85,394.13 L326.85,394.07 L328.86,393.60 L330.87,393.68 L332.87,393.73 L334.88,393.84 L336.88,393.80 L338.89,393.76 L340.90,393.82 L342.90,394.10 L344.91,393.71 L346.91,393.64 L348.92,393.90 L350.93,393.47 L352.93,393.52 L354.94,394.13 L356.94,393.72 L358.95,393.74 L360.95,393.26 L362.96,393.62 L364.97,393.77 L366.97,393.26 L368.98,393.80 L370.98,393.81 L372.99,393.30 L375.00,393.81 L377.00,393.66 L379.01,393.85 L381.01,393.56 L383.02,393.88 L385.02,393.90 L387.03,393.26 L389.04,393.29 L391.04,393.84 L393.05,394.10 L395.05,393.46 L397.06,393.64 L399.07,393.77 L401.07,393.52 L403.08,393.56 L405.08,393.51 L407.09,393.56 L409.09,393.76 L411.10,393.50 L413.11,393.57 L415.11,393.92 L417.13,393.25 L419.15,393.74 L421.17,393.88 L423.19,393.50 L425.21,393.42 L427.23,393.94 L429.25,393.43 L431.26,393.39 L433.28,393.61 L435.30,393.84 L437.32,393.31 L439.34,393.50 L441.36,393.51 L443.38,393.96 L445.40,393.60 L447.42,393.98 L449.44,393.36 L451.46,393.51 L453.47,393.79 L455.49,394.00 L457.51,393.61 L459.53,393.40 L461.55,393.31 L463.57,393.68 L465.59,393.37 L467.61,393.92 L469.63,393.95 L471.65,393.36 L473.66,393.45 L475.68,393.92 L477.70,393.77 L479.72,393.92 L481.74,393.50 L483.76,393.31 L485.78,393.45 L487.80,393.90 L489.82,393.43 L491.84,393.50 L493.85,393.56 L495.87,393.56 L497.89,393.55 L499.91,394.01 L501.93,393.32 L503.95,393.18 L505.97,394.03 L507.99,393.97 L510.01,394.06 L512.03,393.57 L514.05,394.03 L516.06,394.01 L518.08,393.37 L520.10,393.84 L522.12,393.92 L524.14,393.77 L526.16,393.64 L528.18,393.43 L530.20,393.47 L532.22,393.37 L534.24,393.23 L536.25,393.69 L538.27,393.42 L540.29,393.89 L542.31,393.20 L544.33,393.97 L546.35,393.78 L548.37,393.99 L550.39,393.96 L552.41,393.96 L554.43,393.67 L556.44,393.16 L558.46,393.82 L560.48,393.31 L562.50,393.42 L564.52,393.74 L566.54,393.62 L568.56,393.52 L570.58,393.99 L572.60,393.70 L574.62,393.45 L576.64,393.37 L578.65,393.92 L580.67,393.57 L582.69,393.84 L584.71,393.45 L586.74,393.31 L588.76,393.62 L590.78,393.87 L592.80,393.29 L594.83,393.84 L596.85,393.96 L598.87,393.85 L600.90,393.87 L602.92,393.13 L604.94,393.69 L606.96,393.90 L608.99,393.16 L611.01,393.36 L613.03,393.36 L615.05,393.59 L617.08,393.49 L619.10,393.54 L621.12,393.81 L623.14,393.11 L625.17,393.16 L627.19,393.22 L629.21,393.22 L631.23,393.16 L633.26,393.98 L635.28,393.87 L637.30,393.18 L639.32,393.55 L641.35,393.38 L643.37,393.38 L645.39,393.41 L647.41,393.67 L649.44,393.62 L651.46,393.41 L653.48,393.26 L655.50,393.38 L657.53,393.19 L659.55,393.58 L661.57,393.72 L663.59,393.42 L665.62,393.15 L667.64,393.24 L669.66,393.41 L671.68,393.62 L673.71,393.77 L675.73,393.41 L677.75,393.79 L679.77,393.63 L681.80,393.45 L683.82,393.40 L685.84,393.51 L687.86,393.69 L689.89,393.44 L691.91,393.68 L693.93,393.47 L695.95,393.27 L697.98,393.53 L700.00,393.68 L702.03,393.11 L704.05,393.43 L706.08,393.42 L708.11,393.83 L710.13,393.88 L712.16,393.37 L714.18,393.83 L716.21,393.73 L718.24,393.26 L720.26,393.43 L722.29,393.12 L724.32,393.74 L726.34,393.60 L728.37,393.80 L730.40,393.71 L732.42,393.60 L734.45,393.65 L736.47,393.50 L738.50,393.08 L740.53,393.51 L742.55,392.98 L744.58,393.10 L746.61,393.67 L749.38,392.97 L752.15,392.98 L749.79,392.96 L747.44,393.65 L745.08,393.00 L742.73,392.84 L740.37,393.55 L737.68,392.83 L735.00,393.41 L737.28,393.17 L739.55,393.23 L742.31,393.14 L744.16,392.55 L746.00,392.37 L747.92,391.35 L749.50,391.70 L750.83,390.82 L752.00,389.69 L752.97,386.91 L753.72,384.56 L754.36,381.51 L755.00,377.61 L755.67,374.79 L756.31,371.87 L756.92,369.06 L757.50,365.77 L758.02,363.32 L758.50,361.24 L758.98,359.58 L759.50,357.73 L760.12,355.49 L760.81,353.66 L761.47,351.86 L762.00,349.87 L762.36,347.70 L762.59,345.00 L762.79,343.04 L763.00,341.43 L763.24,339.27 L763.47,338.16 L763.71,336.38 L764.00,335.67 L764.32,334.58 L764.66,333.43 L765.05,332.33 L765.50,331.49 L766.06,330.91 L766.71,330.51 L767.36,329.41 L767.90,329.24 L768.27,330.11 L768.53,330.87 L768.80,331.27 L769.20,331.95 L769.80,332.91 L770.54,333.19 L771.28,334.04 L771.90,334.73 L772.34,335.79 L772.68,336.25 L773.00,336.86 L773.40,337.97 L773.87,338.86 L774.36,338.90 L774.93,339.95 L775.60,340.52 L776.42,341.98 L777.35,342.97 L778.33,343.94 L779.30,345.05 L780.17,345.87 L781.00,347.21 L781.93,348.01 L783.10,348.71 L784.65,349.79 L786.48,350.66 L788.34,351.95 L790.00,352.18 L791.31,353.61 L792.43,353.73 L793.58,354.42 L795.00,354.97 L796.77,356.12 L798.75,357.01 L800.86,357.69 L803.00,358.48 L805.16,359.50 L807.38,360.40 L809.66,360.72 L812.00,361.71 L814.36,362.56 L816.75,362.72 L819.27,363.06 L822.00,363.56 L824.99,364.43 L828.19,364.78 L831.54,365.36 L835.00,365.52 L838.68,365.14 L842.56,365.20 L846.41,365.30 L850.00,365.22 L853.33,365.60 L856.50,365.59 L859.42,365.42 L862.00,364.58 L864.12,364.78 L865.88,363.84 L867.44,363.50 L869.00,363.41 L870.57,362.50 L872.06,362.21 L873.52,362.66 L875.00,362.11 L876.43,362.30 L877.81,362.79 L879.29,363.25 L881.00,363.06 L883.02,363.81 L885.25,364.44 L887.61,365.02 L890.00,365.24 L892.31,365.88 L894.62,366.42 L897.12,366.19 L900.00,366.84 L903.33,367.25 L907.00,368.37 L910.92,369.86 L912.96,370.01 L915.00,371.35 L917.16,372.14 L919.31,372.18 L921.59,373.83 L923.88,374.21 L926.19,375.45 L928.50,376.32 L930.75,376.66 L933.00,377.76 L935.12,378.33 L937.25,379.06 L939.31,379.07 L941.38,380.00 L943.47,380.63 L945.56,380.81 L947.78,381.11 L950.00,381.15 L952.39,381.91 L954.79,382.20 L957.30,382.91 L959.81,383.26 L962.37,383.52 L964.93,383.53 L967.46,384.29 L970.00,384.62 L972.46,384.53 L974.93,385.49 L977.37,385.58 L979.81,385.40 L982.30,386.40 L984.79,385.97 L987.39,386.39 L990.00,387.00 L992.72,387.11 L995.45,387.30 L998.25,387.59 L1001.06,387.62 L1003.98,387.67 L1006.90,387.74 L1008.93,387.77 L1010.97,388.47 L1013.00,388.63 L1015.16,388.56 L1017.33,388.86 L1019.49,388.64 L1021.77,388.68 L1024.04,388.90 L1026.31,389.46 L1028.62,388.83 L1030.92,389.36 L1033.23,389.24 L1035.48,389.82 L1037.74,389.56 L1040.00,389.65 L1042.21,389.82 L1044.41,390.05 L1046.62,390.37 L1048.81,390.10 L1051.00,390.65 L1053.19,390.09 L1055.35,390.33 L1057.51,390.27 L1059.66,390.38 L1061.78,391.07 L1063.89,391.12 L1066.00,390.72 L1068.01,390.80 L1070.02,391.08 L1072.02,391.45 L1074.92,391.62 L1077.81,391.66 L1080.75,391.61 L1083.70,391.30 L1085.80,391.59 L1087.90,391.46 L1090.00,391.82 L1092.21,391.92 L1094.41,391.65 L1096.62,391.76 L1098.89,392.30 L1101.16,391.68 L1103.44,392.44 L1105.89,392.57 L1108.34,392.68 L1110.79,392.23 L1112.84,392.42 L1114.89,392.49 L1116.95,392.58 L1119.00,392.93 L1121.36,392.71 L1123.73,392.40 L1126.09,392.95 L1128.45,392.65 L1130.54,392.79 L1132.62,392.93 L1134.71,392.31 L1136.79,393.04 L1138.88,392.97 L1141.02,392.85 L1143.17,392.91 L1145.32,392.88 L1147.46,392.67 L1149.61,393.00 L1151.69,392.58 L1153.77,393.02 L1155.84,393.18 L1157.92,393.02 L1160.00,393.16 L1162.34,393.54 L1164.69,393.50 L1167.03,392.85 L1169.38,393.46 L1171.59,393.33 L1173.81,392.83 L1176.03,393.13 L1178.25,393.04 L1180.62,392.91 L1183.00,393.34 L1185.38,393.71 L1187.75,393.18 L1190.00,393.68 L1192.25,393.54 L1194.50,393.05 L1196.75,393.71 L1199.00,393.49 L1201.88,393.82 L1204.76,393.66 L1206.94,393.73 L1209.18,393.39 L1211.42,393.81 L1213.67,393.93 L1215.91,393.88 L1218.15,393.50 L1220.40,393.80 L1222.48,393.55 L1224.57,393.22 L1226.65,393.16 L1228.74,393.19 L1230.82,393.31 L1232.90,393.27 L1234.99,393.58 L1237.07,393.76 L1239.16,393.62 L1241.24,393.51 L1243.33,393.72 L1245.41,393.41 L1247.49,393.56 L1249.58,393.82 L1251.66,393.50 L1253.75,393.31 L1255.83,393.96 L1257.92,393.80 L1260.00,393.48 L1262.04,393.48 L1264.07,393.63 L1266.11,393.69 L1268.15,393.35 L1270.18,393.15 L1272.22,393.34 L1274.26,393.86 L1276.29,393.28 L1278.33,393.57 L1280.37,393.33 L1282.40,393.34 L1284.44,393.31 L1286.48,393.52 L1288.51,393.31 L1290.55,393.18 L1292.59,393.25 L1294.62,393.31 L1296.66,393.60 L1298.70,393.21 L1300.73,393.18 L1302.77,393.56 L1304.81,393.52 L1306.84,393.79 L1308.88,393.20 L1310.92,393.52 L1312.95,393.52 L1314.99,393.18 L1317.03,394.03 L1319.06,393.36 L1321.10,393.24 L1323.14,393.59 L1325.17,393.31 L1327.21,393.72 L1329.25,393.47 L1331.28,393.27 L1333.32,393.21 L1335.36,393.82 L1337.39,393.41 L1339.43,393.87 L1341.47,393.58 L1343.50,394.00 L1345.54,393.43 L1347.54,393.39 L1349.55,393.40 L1351.55,393.90 L1353.56,393.73 L1355.56,393.47 L1357.57,393.25 L1359.57,393.78 L1361.58,394.04 L1363.58,393.70 L1365.59,393.17 L1367.59,393.19 L1369.59,393.25 L1371.60,393.32 L1373.60,393.20 L1375.61,393.21 L1377.61,393.75 L1379.62,393.97 L1381.62,393.34 L1383.63,394.04 L1385.63,393.59 L1387.64,393.89 L1389.64,393.99 L1391.65,394.01 L1393.65,393.19 L1395.65,393.44 L1397.66,393.71 L1399.66,394.02 L1401.67,393.24 L1403.67,393.43 L1405.68,393.93 L1407.68,393.27 L1409.69,393.51 L1411.69,393.46 L1413.70,393.78 L1415.70,394.00 L1417.71,393.32 L1419.71,393.83 L1421.72,393.82 L1423.72,393.92 L1425.72,393.66 L1427.73,393.99 L1429.73,393.49 L1431.74,393.54 L1433.74,393.37 L1435.75,393.86 L1437.75,393.60 L1439.76,393.41 L1441.76,393.32 L1443.77,393.81 L1445.77,393.71 L1447.78,393.80 L1449.78,393.51 L1451.78,393.60 L1453.79,393.30 L1455.79,393.80 L1457.80,393.18 L1459.80,393.58 L1461.81,393.85 L1463.81,393.77 L1465.82,393.25 L1467.83,393.38 L1469.83,393.92 L1471.84,393.74 L1473.84,393.95 L1475.85,393.95 L1477.86,393.57 L1479.86,393.97 L1481.87,393.82 L1483.88,393.46 L1485.88,393.49 L1487.89,393.23 L1489.89,393.52 L1491.90,394.02 L1493.91,393.25 L1495.91,393.67 L1497.92,393.26 L1499.93,393.23 L1501.93,393.74 L1503.94,393.38 L1505.95,393.20 L1507.95,393.30 L1509.96,393.74 L1511.96,393.69 L1513.97,393.17 L1515.98,393.37 L1517.98,394.03 L1519.99,393.36 L1522.00,393.66 L1524.00,393.54 L1526.01,393.86 L1528.02,393.70 L1530.02,393.87 L1532.03,393.64 L1534.03,393.33 L1536.04,393.32 L1538.05,393.23 L1540.05,393.90 L1542.06,393.26 L1544.07,393.18 L1546.07,394.03 L1548.08,393.34 L1550.08,393.96 L1552.09,393.23 L1554.10,393.58 L1556.10,393.36 L1558.11,393.90 L1560.12,393.71 L1562.12,393.73 L1564.13,393.84 L1566.14,393.94 L1568.14,393.47 L1570.15,393.70 L1572.15,393.56 L1574.16,393.25 L1576.17,393.91 L1578.17,393.69 L1580.18,393.89 L1582.23,393.34 L1584.27,393.64 L1586.32,393.57 L1588.37,393.81 L1590.41,393.22 L1592.46,393.47 L1594.51,393.59 L1596.55,393.22 L1598.60,393.65 L1600.65,393.82 L1602.69,393.53 L1604.74,393.74 L1606.79,393.70 L1608.83,393.35 L1610.88,393.47 L1612.93,394.05 L1614.97,393.45 L1617.02,393.54 L1619.07,393.23 L1621.11,393.35 L1623.16,393.30 L1625.21,393.99 L1627.25,393.81 L1629.30,393.94 L1631.35,394.04 L1633.39,393.70 L1635.44,393.99 L1637.49,393.63 L1639.53,393.53 L1641.58,394.00 L1643.63,393.96 L1645.67,394.01 L1647.72,393.59 L1649.77,393.85 L1651.81,393.52 L1653.86,394.05 L1655.91,393.98 L1657.95,393.41 L1660.00,393.60" fill="none" stroke="#0a8232" stroke-width="2.5" stroke-linejoin="round" />
<line x1="490.60" y1="232.00" x2="490.60" y2="394.00" stroke="#000" stroke-width="2.0" stroke-dasharray="8 5"/>
<line x1="630.30" y1="252.00" x2="630.30" y2="394.00" stroke="#801a14" stroke-width="2.0" stroke-dasharray="8 5"/>
<line x1="759.80" y1="368.00" x2="759.80" y2="394.00" stroke="#0a8232" stroke-width="2.0" stroke-dasharray="8 5"/>
<text transform="translate(416.52,66.00) scale(1.0158,1.0000)" x="0" y="0" fill="#000"><tspan font-family="'Liberation Sans', sans-serif" font-size="31.40" font-style="italic">m/z</tspan><tspan font-family="'Liberation Sans', sans-serif" font-size="31.40"> 619.25</tspan></text>
<text transform="translate(538.52,128.40) scale(1.0158,1.0000)" x="0" y="0" fill="#000"><tspan font-family="'Liberation Sans', sans-serif" font-size="31.40" font-style="italic">m/z</tspan><tspan font-family="'Liberation Sans', sans-serif" font-size="31.40"> 781.28</tspan></text>
<text transform="translate(689.92,322.00) scale(1.0158,1.0000)" x="0" y="0" fill="#000"><tspan font-family="'Liberation Sans', sans-serif" font-size="31.40" font-style="italic">m/z</tspan><tspan font-family="'Liberation Sans', sans-serif" font-size="31.40"> 943.35</tspan></text>
<text x="-1.05" y="516.00" fill="#000"><tspan font-family="'Liberation Sans', sans-serif" font-size="59.40">B</tspan></text>
<line x1="134.60" y1="569.40" x2="134.60" y2="831.90" stroke="#000" stroke-width="1.8" />
<line x1="133.70" y1="831.00" x2="1660.00" y2="831.00" stroke="#000" stroke-width="1.8" />
<line x1="124.80" y1="831.00" x2="134.60" y2="831.00" stroke="#000" stroke-width="1.8" />
<line x1="124.80" y1="804.93" x2="134.60" y2="804.93" stroke="#000" stroke-width="1.8" />
<line x1="124.80" y1="778.86" x2="134.60" y2="778.86" stroke="#000" stroke-width="1.8" />
<line x1="124.80" y1="752.79" x2="134.60" y2="752.79" stroke="#000" stroke-width="1.8" />
<line x1="124.80" y1="726.72" x2="134.60" y2="726.72" stroke="#000" stroke-width="1.8" />
<line x1="124.80" y1="700.65" x2="134.60" y2="700.65" stroke="#000" stroke-width="1.8" />
<line x1="124.80" y1="674.58" x2="134.60" y2="674.58" stroke="#000" stroke-width="1.8" />
<line x1="124.80" y1="648.51" x2="134.60" y2="648.51" stroke="#000" stroke-width="1.8" />
<line x1="124.80" y1="622.44" x2="134.60" y2="622.44" stroke="#000" stroke-width="1.8" />
<line x1="124.80" y1="596.37" x2="134.60" y2="596.37" stroke="#000" stroke-width="1.8" />
<line x1="124.80" y1="570.30" x2="134.60" y2="570.30" stroke="#000" stroke-width="1.8" />
<text x="102.06" y="839.80" fill="#000"><tspan font-family="'Liberation Sans', sans-serif" font-size="24.50">0</tspan></text>
<text x="88.46" y="787.66" fill="#000"><tspan font-family="'Liberation Sans', sans-serif" font-size="24.50">20</tspan></text>
<text x="88.46" y="735.52" fill="#000"><tspan font-family="'Liberation Sans', sans-serif" font-size="24.50">40</tspan></text>
<text x="88.46" y="683.38" fill="#000"><tspan font-family="'Liberation Sans', sans-serif" font-size="24.50">60</tspan></text>
<text x="88.46" y="631.24" fill="#000"><tspan font-family="'Liberation Sans', sans-serif" font-size="24.50">80</tspan></text>
<text x="77.27" y="579.10" fill="#000"><tspan font-family="'Liberation Sans', sans-serif" font-size="24.50">100</tspan></text>
<text transform="translate(56.80,699.65) rotate(-90) scale(0.9170,1.0000)" x="-137.97" y="0" fill="#000"><tspan font-family="'Liberation Sans', sans-serif" font-size="30.90">Relative Abundance</tspan></text>
<path d="M160.00,831.00V828.65M161.46,831.00V828.42M163.23,831.00V828.17M166.85,831.00V829.28M168.34,831.00V829.26M169.75,831.00V828.40M171.20,831.00V827.90M173.19,831.00V828.98M174.41,831.00V828.11M175.73,831.00V827.16M178.97,831.00V828.92M181.70,831.00V829.22M183.48,831.00V829.03M185.18,831.00V828.71M191.97,831.00V828.89M192.96,831.00V828.46M198.60,831.00V827.98M201.28,831.00V824.51M202.44,831.00V828.46M203.66,831.00V827.10M205.18,831.00V828.02M210.92,831.00V828.78M212.45,831.00V827.93M214.07,831.00V829.25M214.99,831.00V829.27M216.59,831.00V827.90M217.57,831.00V828.27M222.39,831.00V828.50M223.98,831.00V829.19M227.28,831.00V828.68M229.10,831.00V825.78M230.53,831.00V828.44M232.45,831.00V828.35M236.45,831.00V828.17M238.36,831.00V828.86M239.41,831.00V828.30M241.36,831.00V828.91M242.49,831.00V828.86M244.31,831.00V827.79M246.17,831.00V828.87M251.76,831.00V828.97M252.81,831.00V828.42M256.09,831.00V829.28M257.51,831.00V828.82M259.17,831.00V828.75M260.95,831.00V828.29M261.99,831.00V828.77M263.51,831.00V828.65M265.13,831.00V828.40M268.80,831.00V828.85M270.70,831.00V828.68M272.21,831.00V825.05M273.18,831.00V828.20M274.23,831.00V828.12M275.89,831.00V829.18M277.03,831.00V828.41M278.51,831.00V828.77M280.34,831.00V827.94M281.81,831.00V828.60M292.20,831.00V828.51M293.64,831.00V828.72M295.59,831.00V829.12M298.39,831.00V828.00M299.43,831.00V828.98M301.09,831.00V829.15M302.79,831.00V829.02M304.28,831.00V828.56M305.35,831.00V828.56M308.34,831.00V828.86M309.59,831.00V828.06M310.64,831.00V829.16M312.45,831.00V828.74M320.28,831.00V828.60M321.93,831.00V829.25M323.44,831.00V829.04M326.48,831.00V828.65M328.22,831.00V828.70M336.99,831.00V828.26M338.34,831.00V829.28M340.22,831.00V828.42M341.56,831.00V828.17M342.75,831.00V828.16M345.76,831.00V828.29M346.74,831.00V826.65M348.34,831.00V828.37M349.61,831.00V828.75M351.61,831.00V827.93M352.54,831.00V828.74M353.49,831.00V828.95M355.39,831.00V828.50M357.38,831.00V825.80M360.19,831.00V828.44M361.16,831.00V828.46M362.46,831.00V828.90M364.15,831.00V829.24M365.22,831.00V828.25M367.16,831.00V827.94M371.82,831.00V828.66M372.94,831.00V828.68M374.58,831.00V828.71M378.28,831.00V828.05M380.04,831.00V828.34M381.56,831.00V829.03M387.97,831.00V829.16M389.46,831.00V828.53M391.06,831.00V828.82M392.78,831.00V828.17M394.36,831.00V828.94M396.16,831.00V828.84M399.03,831.00V829.19M400.02,831.00V828.88M401.77,831.00V829.19M403.01,831.00V829.10M404.30,831.00V828.31M407.73,831.00V828.86M410.24,831.00V828.75M411.57,831.00V828.54M413.39,831.00V828.07M420.69,831.00V828.39M422.48,831.00V829.18M424.46,831.00V828.39M425.63,831.00V828.23M428.61,831.00V828.31M430.51,831.00V828.11M434.25,831.00V828.18M435.62,831.00V827.91M436.93,831.00V828.89M438.90,831.00V828.39M440.65,831.00V828.48M446.20,831.00V828.30M447.76,831.00V829.06M449.49,831.00V828.63M453.38,831.00V828.18M454.71,831.00V827.91M456.33,831.00V828.78M458.11,831.00V829.08M462.02,831.00V829.30M463.82,831.00V828.92M465.51,831.00V827.96M467.06,831.00V828.72M468.97,831.00V828.54M470.44,831.00V828.86M471.43,831.00V828.80M473.08,831.00V827.95M474.90,831.00V828.31M476.06,831.00V824.41M477.84,831.00V828.77M479.33,831.00V828.37M480.51,831.00V827.98M482.03,831.00V829.17M483.09,831.00V829.05M484.43,831.00V828.98M485.50,831.00V824.66M486.87,831.00V828.15M488.20,831.00V826.49M489.87,831.00V828.45M490.79,831.00V829.15M492.10,831.00V828.44M494.68,831.00V828.30M496.67,831.00V829.02M498.60,831.00V828.96M500.14,831.00V828.79M502.60,831.00V828.52M505.59,831.00V828.90M507.47,831.00V829.04M508.98,831.00V827.92M510.91,831.00V828.27M512.23,831.00V827.20M513.64,831.00V829.06M515.12,831.00V828.40M516.06,831.00V828.46M517.47,831.00V828.24M521.02,831.00V828.51M522.92,831.00V828.03M524.17,831.00V828.28M525.73,831.00V829.20M526.77,831.00V829.23M528.43,831.00V828.75M532.92,831.00V828.51M534.81,831.00V828.55M541.22,831.00V824.75M543.02,831.00V829.24M543.95,831.00V827.99M545.93,831.00V828.01M547.81,831.00V828.64M550.02,831.00V829.23M551.04,831.00V828.08M552.73,831.00V828.68M553.71,831.00V829.02M554.81,831.00V828.78M556.44,831.00V828.88M558.36,831.00V829.17M560.34,831.00V829.24M561.90,831.00V829.18M563.11,831.00V828.53M565.16,831.00V828.00M566.61,831.00V828.80M568.23,831.00V828.12M570.97,831.00V828.97M572.36,831.00V828.97M573.80,831.00V829.25M575.35,831.00V829.05M582.40,831.00V828.18M583.38,831.00V828.19M584.54,831.00V826.79M586.12,831.00V829.18M587.92,831.00V828.33M589.74,831.00V828.79M590.88,831.00V828.23M592.86,831.00V829.25M594.03,831.00V828.88M595.39,831.00V828.23M597.10,831.00V828.96M598.51,831.00V827.93M605.50,831.00V828.33M608.76,831.00V828.21M609.89,831.00V829.07M611.02,831.00V828.67M614.14,831.00V828.79M619.43,831.00V828.30M620.63,831.00V828.80M623.29,831.00V828.06M624.55,831.00V826.51M625.71,831.00V829.26M626.95,831.00V828.31M628.14,831.00V829.01M629.35,831.00V828.09M630.50,831.00V829.24M631.42,831.00V827.93M633.79,831.00V828.08M634.95,831.00V828.75M635.91,831.00V828.91M636.99,831.00V828.37M638.15,831.00V829.09M639.69,831.00V829.27M641.02,831.00V829.22M642.47,831.00V828.95M644.92,831.00V828.64M646.49,831.00V827.98M648.24,831.00V828.72M650.77,831.00V828.59M653.07,831.00V828.97M653.97,831.00V828.61M655.59,831.00V828.14M657.55,831.00V828.86M659.24,831.00V828.15M660.32,831.00V828.78M661.53,831.00V828.95M662.79,831.00V829.21M663.76,831.00V828.67M665.51,831.00V828.08M666.47,831.00V828.75M668.16,831.00V828.83M669.89,831.00V828.71M671.57,831.00V829.12M672.89,831.00V829.28M675.48,831.00V828.74M677.40,831.00V829.13M678.35,831.00V829.13M685.87,831.00V828.18M687.69,831.00V828.23M689.67,831.00V828.18M690.73,831.00V828.95M692.17,831.00V825.91M693.23,831.00V828.62M694.53,831.00V824.76M695.77,831.00V827.90M696.89,831.00V828.17M698.23,831.00V828.43M701.43,831.00V829.05M702.36,831.00V826.64M704.09,831.00V827.16M712.20,831.00V828.74M713.99,831.00V829.16M715.93,831.00V828.03M716.86,831.00V828.78M718.48,831.00V828.80M719.69,831.00V828.83M721.40,831.00V828.35M722.50,831.00V828.70M723.41,831.00V828.55M726.61,831.00V828.70M728.57,831.00V829.05M731.02,831.00V829.09M732.62,831.00V828.44M734.50,831.00V828.51M735.52,831.00V828.37M736.89,831.00V828.50M745.12,831.00V828.00M747.90,831.00V828.74M751.19,831.00V827.99M753.00,831.00V829.21M754.86,831.00V828.66M756.35,831.00V828.40M757.33,831.00V828.96M759.11,831.00V828.03M760.89,831.00V829.25M762.17,831.00V829.05M763.49,831.00V829.20M765.48,831.00V828.28M766.60,831.00V826.70M767.84,831.00V828.33M768.94,831.00V829.12M769.97,831.00V829.03M771.96,831.00V828.87M773.31,831.00V828.15M774.66,831.00V828.82M776.34,831.00V828.08M777.55,831.00V827.99M778.88,831.00V829.21M780.24,831.00V828.89M781.90,831.00V829.11M783.79,831.00V828.15M785.63,831.00V828.04M786.62,831.00V828.36M788.83,831.00V828.65M790.07,831.00V827.93M792.07,831.00V828.32M794.06,831.00V828.38M795.20,831.00V829.10M796.54,831.00V828.39M798.12,831.00V828.28M799.88,831.00V824.87M801.81,831.00V828.55M803.30,831.00V828.59M804.34,831.00V828.58M805.56,831.00V829.22M806.70,831.00V828.11M807.72,831.00V828.57M811.02,831.00V828.15M812.73,831.00V829.26M815.36,831.00V829.19M817.81,831.00V827.97M820.67,831.00V828.78M822.04,831.00V828.67M822.99,831.00V828.53M824.33,831.00V828.86M825.77,831.00V829.29M827.11,831.00V827.95M828.42,831.00V828.45M829.96,831.00V828.24M830.92,831.00V828.19M832.29,831.00V828.35M833.28,831.00V828.86M835.09,831.00V825.21M836.04,831.00V828.41M836.96,831.00V829.29M838.67,831.00V828.02M839.66,831.00V828.77M841.05,831.00V828.27M842.03,831.00V828.53M843.05,831.00V828.52M844.97,831.00V828.13M846.00,831.00V826.38M848.76,831.00V829.15M850.48,831.00V828.82M851.56,831.00V828.76M853.09,831.00V828.63M855.07,831.00V828.93M856.77,831.00V825.00M858.09,831.00V828.52M860.06,831.00V828.98M861.79,831.00V829.25M863.46,831.00V829.09M865.40,831.00V828.20M866.54,831.00V829.13M870.20,831.00V828.29M871.42,831.00V828.95M872.34,831.00V828.95M873.39,831.00V828.91M874.85,831.00V828.10M876.42,831.00V828.38M878.33,831.00V824.60M879.63,831.00V828.78M881.33,831.00V828.81M882.49,831.00V828.38M883.46,831.00V829.13M886.42,831.00V825.89M890.16,831.00V829.04M891.64,831.00V828.31M893.00,831.00V828.52M894.97,831.00V828.83M906.46,831.00V828.44M908.38,831.00V829.26M918.31,831.00V828.24M925.32,831.00V829.28M927.07,831.00V828.83M928.71,831.00V829.05M929.78,831.00V828.83M930.94,831.00V828.94M932.80,831.00V828.84M934.50,831.00V829.19M936.24,831.00V827.91M939.54,831.00V828.20M940.81,831.00V828.47M942.53,831.00V826.14M946.86,831.00V829.10M948.55,831.00V828.35M951.82,831.00V827.99M952.80,831.00V826.82M953.90,831.00V828.51M956.63,831.00V828.24M958.54,831.00V828.50M961.17,831.00V829.03" stroke="#000" stroke-width="1.2" fill="none"/>
<path d="M964.63,831.00V829.41M1007.35,831.00V827.71M1047.63,831.00V829.29M1087.32,831.00V829.49M1192.07,831.00V829.35M1275.03,831.00V829.50M1280.94,831.00V828.93M1421.60,831.00V828.98" stroke="#000" stroke-width="1.2" fill="none"/>
<path d="M212.80,831.00V812.75M243.70,831.00V662.85M246.90,831.00V812.75M278.40,831.00V817.97M281.70,831.00V658.94M362.50,831.00V810.14M393.40,831.00V812.75M427.50,831.00V817.97M431.00,831.00V789.29M450.90,831.00V803.63M454.80,831.00V815.36M474.30,831.00V823.18M485.30,831.00V718.90M489.20,831.00V763.22M519.70,831.00V802.32M524.60,831.00V786.68M555.10,831.00V598.98M558.70,831.00V810.14M589.60,831.00V817.97M593.10,831.00V661.54M635.70,831.00V823.18M705.00,831.00V817.97M747.20,831.00V820.57M762.40,831.00V812.75M785.20,831.00V823.18M797.20,831.00V777.04M831.00,831.00V717.60M866.40,831.00V570.30M873.80,831.00V824.48M908.30,831.00V817.97M942.70,831.00V810.67M953.00,831.00V823.18M200.00,831.00V827.09M298.00,831.00V827.09M340.00,831.00V825.79" stroke="#000" stroke-width="1.6" fill="none"/>
<text transform="translate(146.40,580.50) scale(1.0442,1.0000)" x="0" y="0" fill="#000"><tspan font-family="'Liberation Sans', sans-serif" font-size="26.20" font-weight="bold">[M+H]</tspan><tspan font-family="'Liberation Sans', sans-serif" font-size="26.20" font-weight="bold" dy="-11.79">+</tspan><tspan font-family="'Liberation Sans', sans-serif" font-size="26.20" font-weight="bold" dy="11.79"> = 619.27 </tspan><tspan font-family="'Liberation Sans', sans-serif" font-size="26.20" font-weight="bold" font-style="italic">m/z</tspan></text>
<text transform="translate(155.61,654.00) scale(1.0636,1.0000)" x="0" y="0" fill="#000"><tspan font-family="'Liberation Sans', sans-serif" font-size="24.30">219.02</tspan></text>
<text transform="translate(241.81,650.00) scale(1.0655,1.0000)" x="0" y="0" fill="#000"><tspan font-family="'Liberation Sans', sans-serif" font-size="24.30">239.06</tspan></text>
<text transform="translate(159.61,790.70) scale(1.0590,1.0000)" x="0" y="0" fill="#000"><tspan font-family="'Liberation Sans', sans-serif" font-size="24.30">221.09</tspan></text>
<text transform="translate(286.21,748.50) scale(1.0608,1.0000)" x="0" y="0" fill="#000"><tspan font-family="'Liberation Sans', sans-serif" font-size="24.30">237.02</tspan></text>
<text transform="translate(392.68,780.30) scale(1.0454,1.0000)" x="0" y="0" fill="#000"><tspan font-family="'Liberation Sans', sans-serif" font-size="24.30">317.08</tspan></text>
<text transform="translate(322.91,800.20) scale(1.0590,1.0000)" x="0" y="0" fill="#000"><tspan font-family="'Liberation Sans', sans-serif" font-size="24.30">281.09</tspan></text>
<text transform="translate(445.68,707.90) scale(1.0537,1.0000)" x="0" y="0" fill="#000"><tspan font-family="'Liberation Sans', sans-serif" font-size="24.30">345.08</tspan></text>
<text transform="translate(485.29,751.70) scale(1.0419,1.0000)" x="0" y="0" fill="#000"><tspan font-family="'Liberation Sans', sans-serif" font-size="24.30">383.14</tspan></text>
<text transform="translate(516.06,589.30) scale(1.0742,1.0000)" x="0" y="0" fill="#000"><tspan font-family="'Liberation Sans', sans-serif" font-size="24.30">381.11</tspan></text>
<text transform="translate(554.29,651.00) scale(1.0432,1.0000)" x="0" y="0" fill="#000"><tspan font-family="'Liberation Sans', sans-serif" font-size="24.30">401.14</tspan></text>
<text transform="translate(598.27,747.40) scale(1.0584,1.0000)" x="0" y="0" fill="#000"><tspan font-family="'Liberation Sans', sans-serif" font-size="24.30">399.14</tspan></text>
<text transform="translate(827.06,559.00) scale(1.0669,1.0000)" x="0" y="0" fill="#000"><tspan font-family="'Liberation Sans', sans-serif" font-size="24.30">543.17</tspan></text>
<text transform="translate(782.57,706.20) scale(1.0578,1.0000)" x="0" y="0" fill="#000"><tspan font-family="'Liberation Sans', sans-serif" font-size="24.30">525.18</tspan></text>
<text transform="translate(730.57,769.60) scale(1.0578,1.0000)" x="0" y="0" fill="#000"><tspan font-family="'Liberation Sans', sans-serif" font-size="24.30">507.16</tspan></text>
<text transform="translate(902.66,799.40) scale(1.0675,1.0000)" x="0" y="0" fill="#000"><tspan font-family="'Liberation Sans', sans-serif" font-size="24.30">583.18</tspan></text>
<text transform="translate(1000.70,796.20) scale(1.4493,1.0000)" x="0" y="0" fill="#000"><tspan font-family="'Liberation Sans', sans-serif" font-size="20.70">M</tspan></text>
<text transform="translate(183.26,626.90) scale(1.1394,1.0000)" x="0" y="0" fill="#000"><tspan font-family="'DejaVu Sans', sans-serif" font-size="18.00" font-weight="bold">b</tspan><tspan font-family="'Liberation Sans', sans-serif" font-size="13.68" font-weight="bold" dy="3.60">1</tspan></text>
<text transform="translate(271.50,623.10) scale(1.1168,1.0000)" x="0" y="0" fill="#000"><tspan font-family="'DejaVu Sans', sans-serif" font-size="18.00" font-weight="bold">y</tspan><tspan font-family="'Liberation Sans', sans-serif" font-size="13.68" font-weight="bold" dy="3.60">1</tspan></text>
<text transform="translate(189.17,764.70) scale(1.1527,1.0000)" x="0" y="0" fill="#000"><tspan font-family="'DejaVu Sans', sans-serif" font-size="18.00" font-weight="bold">z</tspan><tspan font-family="'Liberation Sans', sans-serif" font-size="13.68" font-weight="bold" dy="3.60">1</tspan></text>
<text transform="translate(314.90,725.70) scale(1.2441,1.0000)" x="0" y="0" fill="#000"><tspan font-family="'DejaVu Sans', sans-serif" font-size="18.00" font-weight="bold">c</tspan><tspan font-family="'Liberation Sans', sans-serif" font-size="13.68" font-weight="bold" dy="3.60">1</tspan></text>
<text transform="translate(428.49,680.30) scale(1.2456,1.0000)" x="0" y="0" fill="#000"><tspan font-family="'DejaVu Sans', sans-serif" font-size="18.00" font-weight="bold">b</tspan><tspan font-family="'Liberation Sans', sans-serif" font-size="13.68" font-weight="bold" dy="3.60">2</tspan><tspan font-family="'DejaVu Sans', sans-serif" font-size="18.00" font-weight="bold" dy="-3.60">-(H</tspan><tspan font-family="'Liberation Sans', sans-serif" font-size="13.68" font-weight="bold" dy="3.60">2</tspan><tspan font-family="'DejaVu Sans', sans-serif" font-size="18.00" font-weight="bold" dy="-3.60">O)</tspan><tspan font-family="'Liberation Sans', sans-serif" font-size="13.68" font-weight="bold" dy="3.60">2</tspan></text>
<text transform="translate(512.86,728.20) scale(1.2805,1.0000)" x="0" y="0" fill="#000"><tspan font-family="'DejaVu Sans', sans-serif" font-size="18.00" font-weight="bold">z</tspan><tspan font-family="'Liberation Sans', sans-serif" font-size="13.68" font-weight="bold" dy="3.60">2</tspan></text>
<text transform="translate(541.13,561.70) scale(1.2880,1.0000)" x="0" y="0" fill="#000"><tspan font-family="'DejaVu Sans', sans-serif" font-size="18.00" font-weight="bold">b</tspan><tspan font-family="'Liberation Sans', sans-serif" font-size="13.68" font-weight="bold" dy="3.60">2</tspan></text>
<text transform="translate(581.78,623.40) scale(1.1940,1.0000)" x="0" y="0" fill="#000"><tspan font-family="'DejaVu Sans', sans-serif" font-size="18.00" font-weight="bold">y</tspan><tspan font-family="'Liberation Sans', sans-serif" font-size="13.68" font-weight="bold" dy="3.60">2</tspan></text>
<text transform="translate(626.45,721.10) scale(1.3239,1.0000)" x="0" y="0" fill="#000"><tspan font-family="'DejaVu Sans', sans-serif" font-size="18.00" font-weight="bold">c</tspan><tspan font-family="'Liberation Sans', sans-serif" font-size="13.68" font-weight="bold" dy="3.60">2</tspan></text>
<text transform="translate(850.55,531.10) scale(1.4078,1.0000)" x="0" y="0" fill="#000"><tspan font-family="'DejaVu Sans', sans-serif" font-size="18.00" font-weight="bold">b</tspan><tspan font-family="'Liberation Sans', sans-serif" font-size="13.68" font-weight="bold" dy="3.60">3</tspan></text>
<text transform="translate(780.05,680.00) scale(1.2754,1.0000)" x="0" y="0" fill="#000"><tspan font-family="'DejaVu Sans', sans-serif" font-size="18.00" font-weight="bold">b</tspan><tspan font-family="'Liberation Sans', sans-serif" font-size="13.68" font-weight="bold" dy="3.60">3</tspan><tspan font-family="'DejaVu Sans', sans-serif" font-size="18.00" font-weight="bold" dy="-3.60">-H</tspan><tspan font-family="'Liberation Sans', sans-serif" font-size="13.68" font-weight="bold" dy="3.60">2</tspan><tspan font-family="'DejaVu Sans', sans-serif" font-size="18.00" font-weight="bold" dy="-3.60">O</tspan></text>
<text transform="translate(713.38,744.20) scale(1.2570,1.0000)" x="0" y="0" fill="#000"><tspan font-family="'DejaVu Sans', sans-serif" font-size="18.00" font-weight="bold">b</tspan><tspan font-family="'Liberation Sans', sans-serif" font-size="13.68" font-weight="bold" dy="3.60">3</tspan><tspan font-family="'DejaVu Sans', sans-serif" font-size="18.00" font-weight="bold" dy="-3.60">-(H</tspan><tspan font-family="'Liberation Sans', sans-serif" font-size="13.68" font-weight="bold" dy="3.60">2</tspan><tspan font-family="'DejaVu Sans', sans-serif" font-size="18.00" font-weight="bold" dy="-3.60">O)</tspan><tspan font-family="'Liberation Sans', sans-serif" font-size="13.68" font-weight="bold" dy="3.60">2</tspan></text>
<text transform="translate(887.38,773.80) scale(1.2459,1.0000)" x="0" y="0" fill="#000"><tspan font-family="'DejaVu Sans', sans-serif" font-size="18.00" font-weight="bold">M-(H</tspan><tspan font-family="'Liberation Sans', sans-serif" font-size="13.68" font-weight="bold" dy="3.60">2</tspan><tspan font-family="'DejaVu Sans', sans-serif" font-size="18.00" font-weight="bold" dy="-3.60">O)</tspan><tspan font-family="'Liberation Sans', sans-serif" font-size="13.68" font-weight="bold" dy="3.60">2</tspan></text>
<text transform="translate(339.85,778.50) scale(1.4426,1.0000)" x="0" y="0" fill="#000"><tspan font-family="'Liberation Sans', sans-serif" font-size="11.28" dy="-10.25">0,2</tspan><tspan font-family="'Liberation Sans', sans-serif" font-size="20.50" dy="10.25">x</tspan><tspan font-family="'Liberation Sans', sans-serif" font-size="12.71" dy="4.10">1</tspan></text>
<path d="M216.00,658.00 L243.70,663.00" fill="none" stroke="#000" stroke-width="1.6" stroke-linejoin="round" stroke-dasharray="5.5 3.5"/>
<path d="M217.70,793.90 L246.90,813.40" fill="none" stroke="#000" stroke-width="1.6" stroke-linejoin="round" stroke-dasharray="5.5 3.5"/>
<path d="M310.30,750.00 L278.40,818.00" fill="none" stroke="#000" stroke-width="1.6" stroke-linejoin="round" stroke-dasharray="5.5 3.5"/>
<path d="M529.50,758.00 L558.70,808.50" fill="none" stroke="#000" stroke-width="1.6" stroke-linejoin="round" stroke-dasharray="5.5 3.5"/>
<path d="M622.00,750.00 L589.00,820.00" fill="none" stroke="#000" stroke-width="1.6" stroke-linejoin="round" stroke-dasharray="5.5 3.5"/>
<path d="M1012.80,798.80 L1012.80,831.00" fill="none" stroke="#000" stroke-width="1.6" stroke-linejoin="round" stroke-dasharray="5.5 3.5"/>
<line x1="134.60" y1="881.20" x2="134.60" y2="1143.70" stroke="#000" stroke-width="1.8" />
<line x1="133.70" y1="1142.80" x2="1660.00" y2="1142.80" stroke="#000" stroke-width="1.8" />
<line x1="124.80" y1="1142.80" x2="134.60" y2="1142.80" stroke="#000" stroke-width="1.8" />
<line x1="124.80" y1="1116.73" x2="134.60" y2="1116.73" stroke="#000" stroke-width="1.8" />
<line x1="124.80" y1="1090.66" x2="134.60" y2="1090.66" stroke="#000" stroke-width="1.8" />
<line x1="124.80" y1="1064.59" x2="134.60" y2="1064.59" stroke="#000" stroke-width="1.8" />
<line x1="124.80" y1="1038.52" x2="134.60" y2="1038.52" stroke="#000" stroke-width="1.8" />
<line x1="124.80" y1="1012.45" x2="134.60" y2="1012.45" stroke="#000" stroke-width="1.8" />
<line x1="124.80" y1="986.38" x2="134.60" y2="986.38" stroke="#000" stroke-width="1.8" />
<line x1="124.80" y1="960.31" x2="134.60" y2="960.31" stroke="#000" stroke-width="1.8" />
<line x1="124.80" y1="934.24" x2="134.60" y2="934.24" stroke="#000" stroke-width="1.8" />
<line x1="124.80" y1="908.17" x2="134.60" y2="908.17" stroke="#000" stroke-width="1.8" />
<line x1="124.80" y1="882.10" x2="134.60" y2="882.10" stroke="#000" stroke-width="1.8" />
<text x="102.06" y="1151.60" fill="#000"><tspan font-family="'Liberation Sans', sans-serif" font-size="24.50">0</tspan></text>
<text x="88.46" y="1099.46" fill="#000"><tspan font-family="'Liberation Sans', sans-serif" font-size="24.50">20</tspan></text>
<text x="88.46" y="1047.32" fill="#000"><tspan font-family="'Liberation Sans', sans-serif" font-size="24.50">40</tspan></text>
<text x="88.46" y="995.18" fill="#000"><tspan font-family="'Liberation Sans', sans-serif" font-size="24.50">60</tspan></text>
<text x="88.46" y="943.04" fill="#000"><tspan font-family="'Liberation Sans', sans-serif" font-size="24.50">80</tspan></text>
<text x="77.27" y="890.90" fill="#000"><tspan font-family="'Liberation Sans', sans-serif" font-size="24.50">100</tspan></text>
<text transform="translate(56.80,1011.45) rotate(-90) scale(0.9170,1.0000)" x="-137.97" y="0" fill="#000"><tspan font-family="'Liberation Sans', sans-serif" font-size="30.90">Relative Abundance</tspan></text>
<path d="M247.25,1142.80V1140.48M248.39,1142.80V1140.11M258.81,1142.80V1140.85M261.02,1142.80V1138.73M262.55,1142.80V1140.70M266.65,1142.80V1139.81M268.20,1142.80V1141.02M281.18,1142.80V1140.57M292.96,1142.80V1140.02M295.49,1142.80V1139.93M296.66,1142.80V1140.34M299.22,1142.80V1140.00M300.27,1142.80V1140.86M301.67,1142.80V1140.43M308.81,1142.80V1140.68M310.77,1142.80V1139.96M312.19,1142.80V1140.98M315.82,1142.80V1140.74M320.45,1142.80V1140.97" stroke="#000" stroke-width="1.2" fill="none"/>
<path d="M325.00,1142.80V1140.43M326.14,1142.80V1140.39M332.52,1142.80V1140.77M335.39,1142.80V1138.54M338.14,1142.80V1139.80M339.54,1142.80V1140.84M340.48,1142.80V1140.81M342.45,1142.80V1140.29M344.15,1142.80V1140.82M346.07,1142.80V1140.47M347.39,1142.80V1139.37M349.08,1142.80V1140.33M350.81,1142.80V1140.23M351.90,1142.80V1140.61M353.46,1142.80V1136.84M355.22,1142.80V1139.84M360.57,1142.80V1140.87M361.54,1142.80V1139.93M362.50,1142.80V1140.86M365.46,1142.80V1139.76M366.94,1142.80V1139.93M368.71,1142.80V1140.29M370.55,1142.80V1140.02M372.38,1142.80V1140.28M375.46,1142.80V1141.06M378.47,1142.80V1140.41M379.62,1142.80V1140.11M381.12,1142.80V1140.02M388.67,1142.80V1140.10M389.85,1142.80V1138.33M391.09,1142.80V1140.33M393.04,1142.80V1140.07M395.00,1142.80V1140.32M398.28,1142.80V1140.04M399.67,1142.80V1140.48M401.14,1142.80V1141.03M402.52,1142.80V1140.09M403.92,1142.80V1140.22M405.88,1142.80V1140.10M407.76,1142.80V1140.16M409.60,1142.80V1139.82M410.93,1142.80V1139.72M411.84,1142.80V1140.90M413.34,1142.80V1140.06M416.43,1142.80V1140.15M417.61,1142.80V1139.92M418.68,1142.80V1140.71M420.00,1142.80V1140.24M421.21,1142.80V1140.84M431.03,1142.80V1137.94M431.97,1142.80V1141.09M433.47,1142.80V1139.85M434.78,1142.80V1140.36M435.73,1142.80V1140.78M447.60,1142.80V1136.83M449.17,1142.80V1140.63M450.36,1142.80V1139.85M451.34,1142.80V1140.83M452.54,1142.80V1140.15M454.16,1142.80V1140.35M455.51,1142.80V1140.99M457.32,1142.80V1140.35M458.91,1142.80V1140.87M462.39,1142.80V1140.35M464.29,1142.80V1139.79M471.17,1142.80V1140.19M472.25,1142.80V1140.81M474.25,1142.80V1139.86M475.55,1142.80V1140.34M477.35,1142.80V1138.21M485.88,1142.80V1140.37M487.76,1142.80V1140.51M489.37,1142.80V1140.75M490.74,1142.80V1140.35M500.08,1142.80V1140.08M502.07,1142.80V1137.36M504.73,1142.80V1140.42M505.69,1142.80V1140.45M507.02,1142.80V1139.89M508.75,1142.80V1139.99M510.67,1142.80V1140.99M511.91,1142.80V1140.73M513.56,1142.80V1140.40M515.24,1142.80V1140.19M516.55,1142.80V1137.25M526.87,1142.80V1139.75M528.18,1142.80V1140.62M529.91,1142.80V1140.79M538.54,1142.80V1140.28M539.53,1142.80V1140.64M540.79,1142.80V1140.89M542.38,1142.80V1140.35M543.41,1142.80V1140.12M544.90,1142.80V1140.97M546.03,1142.80V1140.17M546.94,1142.80V1140.60M554.69,1142.80V1140.85M558.36,1142.80V1140.62M559.99,1142.80V1141.03M561.21,1142.80V1140.05M562.27,1142.80V1140.48M564.79,1142.80V1140.32M566.09,1142.80V1140.64M567.20,1142.80V1141.06M568.34,1142.80V1140.78M569.95,1142.80V1140.57M571.16,1142.80V1140.43M572.42,1142.80V1140.15M578.38,1142.80V1140.73M580.15,1142.80V1139.88M583.49,1142.80V1140.18M584.86,1142.80V1140.56M589.47,1142.80V1137.46M590.49,1142.80V1140.10M591.84,1142.80V1140.61M594.70,1142.80V1139.92M597.03,1142.80V1140.00M597.94,1142.80V1140.80M598.87,1142.80V1140.32M600.70,1142.80V1140.03M601.71,1142.80V1140.80M604.76,1142.80V1140.67M608.54,1142.80V1140.24M611.51,1142.80V1140.87M613.02,1142.80V1141.06M614.26,1142.80V1141.01M616.20,1142.80V1140.59M617.77,1142.80V1140.84M619.00,1142.80V1136.49M620.07,1142.80V1140.61M621.57,1142.80V1139.42M622.69,1142.80V1139.93M624.31,1142.80V1140.66M625.89,1142.80V1140.21M627.81,1142.80V1140.36M629.71,1142.80V1140.05M631.07,1142.80V1139.89M632.68,1142.80V1139.74M633.80,1142.80V1140.32M635.77,1142.80V1140.51M637.42,1142.80V1140.50M638.34,1142.80V1140.16M640.33,1142.80V1140.41M641.88,1142.80V1140.58M643.15,1142.80V1139.76M644.31,1142.80V1140.78M646.06,1142.80V1140.16M647.05,1142.80V1139.90M648.61,1142.80V1140.45M649.56,1142.80V1140.20M652.23,1142.80V1140.85M653.25,1142.80V1140.19M654.75,1142.80V1140.08M657.57,1142.80V1140.65M658.59,1142.80V1140.03M660.46,1142.80V1141.02M662.23,1142.80V1140.72M664.01,1142.80V1140.01M667.22,1142.80V1140.04M669.43,1142.80V1139.77M672.11,1142.80V1140.90M673.61,1142.80V1140.36M675.57,1142.80V1140.05M676.63,1142.80V1139.75M678.07,1142.80V1140.81M679.16,1142.80V1140.26M682.08,1142.80V1139.72M683.99,1142.80V1140.42M685.31,1142.80V1140.18M686.24,1142.80V1140.33M687.79,1142.80V1139.83M689.33,1142.80V1137.08M690.57,1142.80V1140.86M691.51,1142.80V1140.37M693.27,1142.80V1140.01M695.05,1142.80V1140.75M697.65,1142.80V1140.43M700.34,1142.80V1139.82M701.40,1142.80V1140.18M702.55,1142.80V1139.78M705.43,1142.80V1140.68M706.75,1142.80V1139.91M709.22,1142.80V1140.53M710.83,1142.80V1137.57M712.36,1142.80V1140.47M713.84,1142.80V1140.20M714.91,1142.80V1138.01M716.85,1142.80V1139.79M722.54,1142.80V1138.52M724.24,1142.80V1140.49M725.91,1142.80V1139.73M727.70,1142.80V1140.57M728.68,1142.80V1139.90M730.19,1142.80V1140.99M731.51,1142.80V1139.99M732.82,1142.80V1141.07M739.26,1142.80V1140.09M740.24,1142.80V1141.00M741.81,1142.80V1139.64M742.80,1142.80V1140.91M744.45,1142.80V1139.91M746.44,1142.80V1140.01M747.69,1142.80V1140.00M748.69,1142.80V1140.10M749.88,1142.80V1140.20M751.25,1142.80V1140.21M752.66,1142.80V1140.61M754.34,1142.80V1140.66M757.61,1142.80V1140.33M758.99,1142.80V1139.96M760.27,1142.80V1140.82M763.53,1142.80V1140.31M764.59,1142.80V1140.70M766.88,1142.80V1140.65M768.31,1142.80V1140.03M769.69,1142.80V1140.33M770.80,1142.80V1139.88M772.58,1142.80V1140.48M775.83,1142.80V1140.81M777.47,1142.80V1136.20M778.74,1142.80V1139.96M781.26,1142.80V1140.49M793.52,1142.80V1139.74M794.90,1142.80V1139.96M795.96,1142.80V1140.31M797.80,1142.80V1139.91M799.15,1142.80V1140.60M801.85,1142.80V1140.29M811.38,1142.80V1140.69M812.58,1142.80V1140.90M813.75,1142.80V1140.09M822.20,1142.80V1140.96M823.68,1142.80V1137.89M825.10,1142.80V1139.60M826.14,1142.80V1140.46M829.47,1142.80V1140.88M831.33,1142.80V1140.27M832.33,1142.80V1140.98M834.02,1142.80V1139.78M835.19,1142.80V1140.92M836.69,1142.80V1140.34M840.63,1142.80V1139.75M841.54,1142.80V1140.26M842.60,1142.80V1140.18M844.98,1142.80V1140.25M848.23,1142.80V1139.85M849.87,1142.80V1139.96M853.10,1142.80V1140.63M854.18,1142.80V1139.82M856.09,1142.80V1140.46M857.67,1142.80V1139.95M858.60,1142.80V1140.44M860.16,1142.80V1140.46M861.93,1142.80V1139.87M863.74,1142.80V1139.93M864.69,1142.80V1139.71M865.67,1142.80V1140.60M867.84,1142.80V1141.02M868.90,1142.80V1141.04M870.40,1142.80V1136.40M871.42,1142.80V1140.55M873.19,1142.80V1139.71M874.99,1142.80V1137.93M875.90,1142.80V1139.87M877.27,1142.80V1140.08M879.98,1142.80V1140.93M881.62,1142.80V1139.73M883.58,1142.80V1140.24M884.63,1142.80V1140.72M889.39,1142.80V1140.96M890.40,1142.80V1139.92M891.47,1142.80V1140.25M895.42,1142.80V1140.79M898.21,1142.80V1140.85M899.85,1142.80V1140.91M901.20,1142.80V1140.60M904.45,1142.80V1140.35M906.25,1142.80V1138.10M907.68,1142.80V1140.82M909.06,1142.80V1140.22M909.99,1142.80V1140.21M912.69,1142.80V1140.96M913.96,1142.80V1140.82M917.22,1142.80V1139.78M918.69,1142.80V1140.12M920.28,1142.80V1139.90M921.97,1142.80V1140.29M923.00,1142.80V1140.13M935.03,1142.80V1141.02M937.90,1142.80V1140.31M938.83,1142.80V1138.58M940.30,1142.80V1140.46M942.12,1142.80V1139.97M943.90,1142.80V1140.71M945.17,1142.80V1140.87M946.88,1142.80V1140.13M948.66,1142.80V1140.43M950.34,1142.80V1140.83M951.92,1142.80V1140.10M953.92,1142.80V1140.57M954.98,1142.80V1139.94M956.49,1142.80V1141.01M958.16,1142.80V1139.72M961.37,1142.80V1141.00M962.68,1142.80V1140.92M963.77,1142.80V1140.06M966.77,1142.80V1140.85M968.47,1142.80V1140.65M976.11,1142.80V1140.78M977.72,1142.80V1140.91M978.74,1142.80V1140.13M980.46,1142.80V1140.39M981.85,1142.80V1137.64M983.33,1142.80V1140.10M984.88,1142.80V1136.56M986.08,1142.80V1140.34M987.04,1142.80V1140.26M988.20,1142.80V1139.94M990.94,1142.80V1140.05M992.24,1142.80V1140.36M993.45,1142.80V1138.12M994.56,1142.80V1140.16M995.94,1142.80V1140.74M997.78,1142.80V1140.58M1000.54,1142.80V1140.52M1002.15,1142.80V1140.01M1003.96,1142.80V1140.58M1005.84,1142.80V1140.25M1007.81,1142.80V1140.90M1009.23,1142.80V1141.04M1010.92,1142.80V1140.57M1011.90,1142.80V1140.98M1013.49,1142.80V1139.71M1014.53,1142.80V1140.42M1016.33,1142.80V1139.96M1017.31,1142.80V1141.07M1020.30,1142.80V1140.01M1021.86,1142.80V1140.37M1024.42,1142.80V1140.31M1025.53,1142.80V1139.83M1027.57,1142.80V1139.26M1029.03,1142.80V1140.17M1030.62,1142.80V1139.71M1031.57,1142.80V1140.46M1032.52,1142.80V1140.96M1034.10,1142.80V1140.41M1035.43,1142.80V1139.96M1036.48,1142.80V1140.02M1039.71,1142.80V1141.04M1041.37,1142.80V1140.86M1042.57,1142.80V1139.92M1045.77,1142.80V1140.80M1047.40,1142.80V1139.93M1048.38,1142.80V1140.04M1050.37,1142.80V1140.05M1051.86,1142.80V1140.71M1053.04,1142.80V1140.33M1054.26,1142.80V1139.98M1057.20,1142.80V1140.42M1060.12,1142.80V1140.46M1061.38,1142.80V1140.41M1067.28,1142.80V1140.07M1068.66,1142.80V1140.30M1070.44,1142.80V1140.39M1073.25,1142.80V1141.00M1075.06,1142.80V1139.74M1076.29,1142.80V1139.83M1077.23,1142.80V1140.61M1079.01,1142.80V1140.17M1079.94,1142.80V1138.61M1081.15,1142.80V1140.17M1082.99,1142.80V1140.96M1084.11,1142.80V1140.28M1085.90,1142.80V1140.09M1090.01,1142.80V1140.50M1091.46,1142.80V1140.61M1092.64,1142.80V1139.82M1094.62,1142.80V1140.18M1095.94,1142.80V1140.24M1097.31,1142.80V1140.41M1099.81,1142.80V1140.30M1101.27,1142.80V1140.25M1103.20,1142.80V1140.69M1113.01,1142.80V1140.58M1114.61,1142.80V1139.07M1115.96,1142.80V1140.56M1118.87,1142.80V1140.39M1120.15,1142.80V1139.46M1121.57,1142.80V1140.91M1123.14,1142.80V1140.27M1124.95,1142.80V1140.11M1135.41,1142.80V1140.04M1136.71,1142.80V1140.16M1143.39,1142.80V1140.97M1146.29,1142.80V1140.08M1159.66,1142.80V1140.30M1161.63,1142.80V1140.46M1162.77,1142.80V1139.90M1165.32,1142.80V1139.93M1167.32,1142.80V1140.00M1168.70,1142.80V1137.88M1172.28,1142.80V1140.49M1173.78,1142.80V1140.46M1176.47,1142.80V1139.91M1177.94,1142.80V1140.22M1179.16,1142.80V1140.13M1180.64,1142.80V1141.07M1182.04,1142.80V1140.81M1184.01,1142.80V1140.98M1185.67,1142.80V1137.95M1187.23,1142.80V1140.95M1188.30,1142.80V1140.86M1189.51,1142.80V1139.93M1191.46,1142.80V1140.93M1192.86,1142.80V1140.98M1194.37,1142.80V1140.75M1197.20,1142.80V1140.66M1198.65,1142.80V1139.39M1203.06,1142.80V1140.82M1203.97,1142.80V1139.73M1205.83,1142.80V1140.42M1213.91,1142.80V1140.57M1215.21,1142.80V1141.01M1216.75,1142.80V1140.39M1218.04,1142.80V1140.52M1219.34,1142.80V1140.01M1220.75,1142.80V1140.36M1222.51,1142.80V1140.04M1223.92,1142.80V1140.79M1225.76,1142.80V1139.83M1227.19,1142.80V1140.32M1228.75,1142.80V1139.75M1230.32,1142.80V1140.65M1231.72,1142.80V1139.75M1233.06,1142.80V1140.02M1234.08,1142.80V1139.90M1236.21,1142.80V1140.20M1237.86,1142.80V1139.90M1239.06,1142.80V1139.97M1240.83,1142.80V1140.99M1242.53,1142.80V1139.97M1246.27,1142.80V1140.27M1247.25,1142.80V1139.31M1249.08,1142.80V1140.24M1250.40,1142.80V1140.14M1252.05,1142.80V1140.92M1253.98,1142.80V1141.10M1255.23,1142.80V1140.86M1256.45,1142.80V1140.21M1258.05,1142.80V1139.76M1259.92,1142.80V1139.71M1262.25,1142.80V1140.23M1263.43,1142.80V1140.16M1264.94,1142.80V1139.43M1266.62,1142.80V1136.69" stroke="#000" stroke-width="1.2" fill="none"/>
<path d="M1341.51,1142.80V1141.40M1386.15,1142.80V1141.35M1413.70,1142.80V1141.11M1491.46,1142.80V1141.24M1511.40,1142.80V1141.06M1559.87,1142.80V1141.02M1602.91,1142.80V1140.95" stroke="#000" stroke-width="1.2" fill="none"/>
<path d="M243.70,1142.80V1114.12M247.60,1142.80V1138.89M281.70,1142.80V1067.72M324.90,1142.80V1138.89M362.50,1142.80V1130.81M370.00,1142.80V1137.59M393.40,1142.80V1117.77M420.70,1142.80V1134.98M427.50,1142.80V1128.46M431.00,1142.80V1091.18M442.00,1142.80V1137.59M450.90,1142.80V1092.75M454.80,1142.80V1119.34M485.30,1142.80V966.57M489.20,1142.80V1051.55M519.70,1142.80V1121.16M524.60,1142.80V1095.87M555.10,1142.80V940.76M558.70,1142.80V1111.52M589.60,1142.80V1116.73M593.10,1142.80V1020.27M635.70,1142.80V1134.98M674.00,1142.80V1136.28M704.60,1142.80V1127.16M728.00,1142.80V1137.59M742.00,1142.80V1136.28M762.40,1142.80V1112.30M796.50,1142.80V1057.29M800.40,1142.80V1126.38M831.20,1142.80V1108.13M834.50,1142.80V1134.98M865.70,1142.80V880.01M867.30,1142.80V1124.55M869.60,1142.80V1124.55M900.50,1142.80V1134.98M904.60,1142.80V1054.68M947.00,1142.80V1137.59M982.00,1142.80V1136.28M1015.60,1142.80V1131.07M1050.30,1142.80V1134.98M1057.80,1142.80V1129.76M1073.50,1142.80V1108.91M1096.80,1142.80V1132.37M1108.30,1142.80V1088.57M1142.30,1142.80V1028.61M1177.00,1142.80V937.37M1185.00,1142.80V1134.98M1219.50,1142.80V1127.16M1254.00,1142.80V1115.43M1266.00,1142.80V1140.19" stroke="#000" stroke-width="1.6" fill="none"/>
<text transform="translate(146.40,892.00) scale(1.0442,1.0000)" x="0" y="0" fill="#000"><tspan font-family="'Liberation Sans', sans-serif" font-size="26.20" font-weight="bold">[M+H]</tspan><tspan font-family="'Liberation Sans', sans-serif" font-size="26.20" font-weight="bold" dy="-11.79">+</tspan><tspan font-family="'Liberation Sans', sans-serif" font-size="26.20" font-weight="bold" dy="11.79"> = 781.28 </tspan><tspan font-family="'Liberation Sans', sans-serif" font-size="26.20" font-weight="bold" font-style="italic">m/z</tspan></text>
<text transform="translate(199.50,1108.60) scale(1.0705,1.0000)" x="0" y="0" fill="#000"><tspan font-family="'Liberation Sans', sans-serif" font-size="24.30">219.07</tspan></text>
<text transform="translate(241.70,1055.00) scale(1.0669,1.0000)" x="0" y="0" fill="#000"><tspan font-family="'Liberation Sans', sans-serif" font-size="24.30">239.03</tspan></text>
<text transform="translate(322.90,1125.20) scale(1.0669,1.0000)" x="0" y="0" fill="#000"><tspan font-family="'Liberation Sans', sans-serif" font-size="24.30">281.13</tspan></text>
<text transform="translate(391.96,1084.20) scale(1.0689,1.0000)" x="0" y="0" fill="#000"><tspan font-family="'Liberation Sans', sans-serif" font-size="24.30">317.08</tspan></text>
<text transform="translate(417.38,960.20) scale(1.0495,1.0000)" x="0" y="0" fill="#000"><tspan font-family="'Liberation Sans', sans-serif" font-size="24.30">345.06</tspan></text>
<text transform="translate(515.47,929.30) scale(1.0572,1.0000)" x="0" y="0" fill="#000"><tspan font-family="'Liberation Sans', sans-serif" font-size="24.30">381.07</tspan></text>
<text transform="translate(554.29,1012.10) scale(1.0562,1.0000)" x="0" y="0" fill="#000"><tspan font-family="'Liberation Sans', sans-serif" font-size="24.30">401.13</tspan></text>
<text transform="translate(482.37,1052.70) scale(1.0602,1.0000)" x="0" y="0" fill="#000"><tspan font-family="'Liberation Sans', sans-serif" font-size="24.30">383.10</tspan></text>
<text transform="translate(596.67,1077.00) scale(1.0633,1.0000)" x="0" y="0" fill="#000"><tspan font-family="'Liberation Sans', sans-serif" font-size="24.30">399.18</tspan></text>
<text transform="translate(825.67,874.10) scale(1.0598,1.0000)" x="0" y="0" fill="#000"><tspan font-family="'Liberation Sans', sans-serif" font-size="24.30">543.14</tspan></text>
<text transform="translate(726.57,1031.60) scale(1.0633,1.0000)" x="0" y="0" fill="#000"><tspan font-family="'Liberation Sans', sans-serif" font-size="24.30">507.13</tspan></text>
<text transform="translate(710.88,1099.80) scale(1.0680,1.0000)" x="0" y="0" fill="#000"><tspan font-family="'Liberation Sans', sans-serif" font-size="24.30">489.17</tspan></text>
<text transform="translate(791.57,1077.10) scale(1.0598,1.0000)" x="0" y="0" fill="#000"><tspan font-family="'Liberation Sans', sans-serif" font-size="24.30">545.24</tspan></text>
<text transform="translate(870.17,1046.90) scale(1.0615,1.0000)" x="0" y="0" fill="#000"><tspan font-family="'Liberation Sans', sans-serif" font-size="24.30">563.20</tspan></text>
<text transform="translate(1037.02,1078.70) scale(1.0513,1.0000)" x="0" y="0" fill="#000"><tspan font-family="'Liberation Sans', sans-serif" font-size="24.30">669.20</tspan></text>
<text transform="translate(1096.72,1021.90) scale(1.0521,1.0000)" x="0" y="0" fill="#000"><tspan font-family="'Liberation Sans', sans-serif" font-size="24.30">687.21</tspan></text>
<text transform="translate(1137.72,931.60) scale(1.0531,1.0000)" x="0" y="0" fill="#000"><tspan font-family="'Liberation Sans', sans-serif" font-size="24.30">705.23</tspan></text>
<text transform="translate(1214.72,1108.90) scale(1.0572,1.0000)" x="0" y="0" fill="#000"><tspan font-family="'Liberation Sans', sans-serif" font-size="24.30">745.25</tspan></text>
<text transform="translate(227.27,1083.00) scale(1.1287,1.0000)" x="0" y="0" fill="#000"><tspan font-family="'DejaVu Sans', sans-serif" font-size="18.00" font-weight="bold">b</tspan><tspan font-family="'Liberation Sans', sans-serif" font-size="13.68" font-weight="bold" dy="3.60">1</tspan></text>
<text transform="translate(272.62,1026.70) scale(1.0420,1.0000)" x="0" y="0" fill="#000"><tspan font-family="'DejaVu Sans', sans-serif" font-size="18.00" font-weight="bold">y</tspan><tspan font-family="'Liberation Sans', sans-serif" font-size="13.68" font-weight="bold" dy="3.60">1</tspan></text>
<text transform="translate(338.83,1103.00) scale(1.2954,1.0000)" x="0" y="0" fill="#000"><tspan font-family="'Liberation Sans', sans-serif" font-size="12.96" font-weight="bold" dy="-7.56">0,2</tspan><tspan font-family="'DejaVu Sans', sans-serif" font-size="18.00" font-weight="bold" dy="7.56">x</tspan><tspan font-family="'Liberation Sans', sans-serif" font-size="13.68" font-weight="bold" dy="3.60">1</tspan></text>
<text transform="translate(400.30,931.90) scale(1.2445,1.0000)" x="0" y="0" fill="#000"><tspan font-family="'DejaVu Sans', sans-serif" font-size="18.00" font-weight="bold">b</tspan><tspan font-family="'Liberation Sans', sans-serif" font-size="13.68" font-weight="bold" dy="3.60">2</tspan><tspan font-family="'DejaVu Sans', sans-serif" font-size="18.00" font-weight="bold" dy="-3.60">-(H</tspan><tspan font-family="'Liberation Sans', sans-serif" font-size="13.68" font-weight="bold" dy="3.60">2</tspan><tspan font-family="'DejaVu Sans', sans-serif" font-size="18.00" font-weight="bold" dy="-3.60">O)</tspan><tspan font-family="'Liberation Sans', sans-serif" font-size="13.68" font-weight="bold" dy="3.60">2</tspan></text>
<text transform="translate(541.13,898.50) scale(1.2880,1.0000)" x="0" y="0" fill="#000"><tspan font-family="'DejaVu Sans', sans-serif" font-size="18.00" font-weight="bold">b</tspan><tspan font-family="'Liberation Sans', sans-serif" font-size="13.68" font-weight="bold" dy="3.60">2</tspan></text>
<text transform="translate(581.68,984.50) scale(1.1994,1.0000)" x="0" y="0" fill="#000"><tspan font-family="'DejaVu Sans', sans-serif" font-size="18.00" font-weight="bold">y</tspan><tspan font-family="'Liberation Sans', sans-serif" font-size="13.68" font-weight="bold" dy="3.60">2</tspan></text>
<text transform="translate(510.58,1024.50) scale(1.2626,1.0000)" x="0" y="0" fill="#000"><tspan font-family="'DejaVu Sans', sans-serif" font-size="18.00" font-weight="bold">z</tspan><tspan font-family="'Liberation Sans', sans-serif" font-size="13.68" font-weight="bold" dy="3.60">2</tspan></text>
<text transform="translate(624.34,1056.00) scale(1.3356,1.0000)" x="0" y="0" fill="#000"><tspan font-family="'DejaVu Sans', sans-serif" font-size="18.00" font-weight="bold">c</tspan><tspan font-family="'Liberation Sans', sans-serif" font-size="13.68" font-weight="bold" dy="3.60">2</tspan></text>
<text transform="translate(851.20,852.00) scale(1.3753,1.0000)" x="0" y="0" fill="#000"><tspan font-family="'DejaVu Sans', sans-serif" font-size="18.00" font-weight="bold">b</tspan><tspan font-family="'Liberation Sans', sans-serif" font-size="13.68" font-weight="bold" dy="3.60">3</tspan></text>
<text transform="translate(709.19,1004.00) scale(1.2479,1.0000)" x="0" y="0" fill="#000"><tspan font-family="'DejaVu Sans', sans-serif" font-size="18.00" font-weight="bold">b</tspan><tspan font-family="'Liberation Sans', sans-serif" font-size="13.68" font-weight="bold" dy="3.60">3</tspan><tspan font-family="'DejaVu Sans', sans-serif" font-size="18.00" font-weight="bold" dy="-3.60">-(H</tspan><tspan font-family="'Liberation Sans', sans-serif" font-size="13.68" font-weight="bold" dy="3.60">2</tspan><tspan font-family="'DejaVu Sans', sans-serif" font-size="18.00" font-weight="bold" dy="-3.60">O)</tspan><tspan font-family="'Liberation Sans', sans-serif" font-size="13.68" font-weight="bold" dy="3.60">2</tspan></text>
<text transform="translate(819.15,1055.00) scale(1.2992,1.0000)" x="0" y="0" fill="#000"><tspan font-family="'DejaVu Sans', sans-serif" font-size="18.00" font-weight="bold">z</tspan><tspan font-family="'Liberation Sans', sans-serif" font-size="13.68" font-weight="bold" dy="3.60">3</tspan></text>
<text transform="translate(897.76,1025.10) scale(1.2596,1.0000)" x="0" y="0" fill="#000"><tspan font-family="'DejaVu Sans', sans-serif" font-size="18.00" font-weight="bold">y</tspan><tspan font-family="'Liberation Sans', sans-serif" font-size="13.68" font-weight="bold" dy="3.60">3</tspan></text>
<text transform="translate(1020.09,1053.70) scale(1.2456,1.0000)" x="0" y="0" fill="#000"><tspan font-family="'DejaVu Sans', sans-serif" font-size="18.00" font-weight="bold">b</tspan><tspan font-family="'Liberation Sans', sans-serif" font-size="13.68" font-weight="bold" dy="3.60">4</tspan><tspan font-family="'DejaVu Sans', sans-serif" font-size="18.00" font-weight="bold" dy="-3.60">-(H</tspan><tspan font-family="'Liberation Sans', sans-serif" font-size="13.68" font-weight="bold" dy="3.60">2</tspan><tspan font-family="'DejaVu Sans', sans-serif" font-size="18.00" font-weight="bold" dy="-3.60">O)</tspan><tspan font-family="'Liberation Sans', sans-serif" font-size="13.68" font-weight="bold" dy="3.60">2</tspan></text>
<text transform="translate(1092.23,995.90) scale(1.2880,1.0000)" x="0" y="0" fill="#000"><tspan font-family="'DejaVu Sans', sans-serif" font-size="18.00" font-weight="bold">b</tspan><tspan font-family="'Liberation Sans', sans-serif" font-size="13.68" font-weight="bold" dy="3.60">4</tspan><tspan font-family="'DejaVu Sans', sans-serif" font-size="18.00" font-weight="bold" dy="-3.60">-H</tspan><tspan font-family="'Liberation Sans', sans-serif" font-size="13.68" font-weight="bold" dy="3.60">2</tspan><tspan font-family="'DejaVu Sans', sans-serif" font-size="18.00" font-weight="bold" dy="-3.60">O</tspan></text>
<text transform="translate(1162.02,901.70) scale(1.2924,1.0000)" x="0" y="0" fill="#000"><tspan font-family="'DejaVu Sans', sans-serif" font-size="18.00" font-weight="bold">b</tspan><tspan font-family="'Liberation Sans', sans-serif" font-size="13.68" font-weight="bold" dy="3.60">4</tspan></text>
<text transform="translate(1198.68,1082.00) scale(1.2471,1.0000)" x="0" y="0" fill="#000"><tspan font-family="'DejaVu Sans', sans-serif" font-size="18.00" font-weight="bold">M-(H</tspan><tspan font-family="'Liberation Sans', sans-serif" font-size="13.68" font-weight="bold" dy="3.60">2</tspan><tspan font-family="'DejaVu Sans', sans-serif" font-size="18.00" font-weight="bold" dy="-3.60">O)</tspan><tspan font-family="'Liberation Sans', sans-serif" font-size="13.68" font-weight="bold" dy="3.60">2</tspan></text>
<text transform="translate(1311.14,1112.20) scale(1.3974,1.0000)" x="0" y="0" fill="#000"><tspan font-family="'DejaVu Sans', sans-serif" font-size="18.00" font-weight="bold">M</tspan></text>
<path d="M529.50,1057.60 L558.70,1109.60" fill="none" stroke="#000" stroke-width="1.6" stroke-linejoin="round" stroke-dasharray="5.5 3.5"/>
<path d="M616.20,1080.30 L588.90,1114.40" fill="none" stroke="#000" stroke-width="1.6" stroke-linejoin="round" stroke-dasharray="5.5 3.5"/>
<path d="M775.50,1032.30 L796.50,1056.00" fill="none" stroke="#000" stroke-width="1.6" stroke-linejoin="round" stroke-dasharray="5.5 3.5"/>
<path d="M842.00,1080.30 L871.20,1121.00" fill="none" stroke="#000" stroke-width="1.6" stroke-linejoin="round" stroke-dasharray="5.5 3.5"/>
<path d="M1088.80,1081.00 L1108.30,1088.50" fill="none" stroke="#000" stroke-width="1.6" stroke-linejoin="round" stroke-dasharray="5.5 3.5"/>
<path d="M1323.50,1114.50 L1323.50,1142.80" fill="none" stroke="#000" stroke-width="1.6" stroke-linejoin="round" stroke-dasharray="5.5 3.5"/>
<line x1="134.60" y1="1193.40" x2="134.60" y2="1455.90" stroke="#000" stroke-width="1.8" />
<line x1="133.70" y1="1455.00" x2="1660.00" y2="1455.00" stroke="#000" stroke-width="1.8" />
<line x1="124.80" y1="1455.00" x2="134.60" y2="1455.00" stroke="#000" stroke-width="1.8" />
<line x1="124.80" y1="1428.93" x2="134.60" y2="1428.93" stroke="#000" stroke-width="1.8" />
<line x1="124.80" y1="1402.86" x2="134.60" y2="1402.86" stroke="#000" stroke-width="1.8" />
<line x1="124.80" y1="1376.79" x2="134.60" y2="1376.79" stroke="#000" stroke-width="1.8" />
<line x1="124.80" y1="1350.72" x2="134.60" y2="1350.72" stroke="#000" stroke-width="1.8" />
<line x1="124.80" y1="1324.65" x2="134.60" y2="1324.65" stroke="#000" stroke-width="1.8" />
<line x1="124.80" y1="1298.58" x2="134.60" y2="1298.58" stroke="#000" stroke-width="1.8" />
<line x1="124.80" y1="1272.51" x2="134.60" y2="1272.51" stroke="#000" stroke-width="1.8" />
<line x1="124.80" y1="1246.44" x2="134.60" y2="1246.44" stroke="#000" stroke-width="1.8" />
<line x1="124.80" y1="1220.37" x2="134.60" y2="1220.37" stroke="#000" stroke-width="1.8" />
<line x1="124.80" y1="1194.30" x2="134.60" y2="1194.30" stroke="#000" stroke-width="1.8" />
<text x="102.06" y="1463.80" fill="#000"><tspan font-family="'Liberation Sans', sans-serif" font-size="24.50">0</tspan></text>
<text x="88.46" y="1411.66" fill="#000"><tspan font-family="'Liberation Sans', sans-serif" font-size="24.50">20</tspan></text>
<text x="88.46" y="1359.52" fill="#000"><tspan font-family="'Liberation Sans', sans-serif" font-size="24.50">40</tspan></text>
<text x="88.46" y="1307.38" fill="#000"><tspan font-family="'Liberation Sans', sans-serif" font-size="24.50">60</tspan></text>
<text x="88.46" y="1255.24" fill="#000"><tspan font-family="'Liberation Sans', sans-serif" font-size="24.50">80</tspan></text>
<text x="77.27" y="1203.10" fill="#000"><tspan font-family="'Liberation Sans', sans-serif" font-size="24.50">100</tspan></text>
<text transform="translate(56.80,1323.65) rotate(-90) scale(0.9170,1.0000)" x="-137.97" y="0" fill="#000"><tspan font-family="'Liberation Sans', sans-serif" font-size="30.90">Relative Abundance</tspan></text>
<path d="M329.67,1455.00V1453.14M330.83,1455.00V1452.37M331.88,1455.00V1451.91M341.52,1455.00V1452.79M343.47,1455.00V1452.53M345.42,1455.00V1452.13M354.82,1455.00V1452.18M356.52,1455.00V1453.24M357.79,1455.00V1452.13M361.52,1455.00V1452.54M363.16,1455.00V1452.46M364.82,1455.00V1452.39M366.82,1455.00V1452.68M368.58,1455.00V1451.92M369.61,1455.00V1452.10M371.04,1455.00V1452.78M372.61,1455.00V1453.11M376.05,1455.00V1452.81M376.97,1455.00V1453.24M378.00,1455.00V1453.01M379.12,1455.00V1452.66M382.12,1455.00V1452.30M383.54,1455.00V1452.26M385.47,1455.00V1452.11M386.50,1455.00V1452.87M387.87,1455.00V1452.21M389.58,1455.00V1452.05M390.76,1455.00V1452.74M392.56,1455.00V1452.82M394.23,1455.00V1451.02M395.82,1455.00V1452.91M402.81,1455.00V1451.90M404.13,1455.00V1452.49M405.47,1455.00V1452.11M406.97,1455.00V1453.04M411.16,1455.00V1452.99M412.51,1455.00V1453.23M414.46,1455.00V1452.18M415.43,1455.00V1453.10M416.38,1455.00V1452.55M417.77,1455.00V1452.68M419.20,1455.00V1452.14M420.90,1455.00V1452.10M423.11,1455.00V1452.34M432.32,1455.00V1452.27M435.59,1455.00V1453.11M438.17,1455.00V1451.96M439.53,1455.00V1452.36M440.81,1455.00V1452.03M441.90,1455.00V1452.93M443.66,1455.00V1452.18M445.15,1455.00V1452.62M446.12,1455.00V1452.53M447.87,1455.00V1452.11M449.74,1455.00V1452.93M451.24,1455.00V1452.10M453.22,1455.00V1453.09M455.18,1455.00V1452.08M456.24,1455.00V1453.11M458.10,1455.00V1452.15M459.37,1455.00V1453.11M461.22,1455.00V1452.47M462.50,1455.00V1448.74M464.10,1455.00V1452.16M465.93,1455.00V1450.44M467.16,1455.00V1453.21M468.50,1455.00V1451.64M471.24,1455.00V1452.08M472.80,1455.00V1452.30M474.67,1455.00V1449.93M476.59,1455.00V1452.39M477.60,1455.00V1452.82M478.68,1455.00V1452.40M481.72,1455.00V1452.51M483.70,1455.00V1452.17M485.65,1455.00V1452.48M487.30,1455.00V1452.23M488.23,1455.00V1451.98M489.44,1455.00V1453.08M491.00,1455.00V1453.12M492.62,1455.00V1448.59M494.29,1455.00V1452.74M495.70,1455.00V1452.65M501.03,1455.00V1452.62M502.26,1455.00V1452.24M503.58,1455.00V1453.09M504.61,1455.00V1451.43M505.93,1455.00V1452.23M507.73,1455.00V1452.69M510.86,1455.00V1452.57M512.67,1455.00V1451.91M514.24,1455.00V1448.67M517.42,1455.00V1452.95M518.70,1455.00V1452.75M519.99,1455.00V1452.03M521.79,1455.00V1453.02M523.08,1455.00V1453.27M524.95,1455.00V1452.08M526.63,1455.00V1452.42M527.99,1455.00V1453.10M529.77,1455.00V1452.30M536.42,1455.00V1452.23M537.60,1455.00V1452.42M539.40,1455.00V1452.51M540.38,1455.00V1452.78M542.33,1455.00V1453.30M543.32,1455.00V1452.31M544.74,1455.00V1453.15M546.55,1455.00V1453.03M548.99,1455.00V1452.53M550.15,1455.00V1452.58M551.33,1455.00V1452.84M553.03,1455.00V1452.29M554.64,1455.00V1453.27M556.23,1455.00V1452.28M557.75,1455.00V1452.46M558.87,1455.00V1452.59M560.78,1455.00V1453.15M565.96,1455.00V1450.16M567.93,1455.00V1452.79M569.08,1455.00V1452.00M570.81,1455.00V1452.92M572.75,1455.00V1452.55M574.20,1455.00V1452.24M578.43,1455.00V1451.25M579.72,1455.00V1449.28M580.74,1455.00V1452.00M582.60,1455.00V1453.05M584.01,1455.00V1453.11M585.07,1455.00V1453.11M586.12,1455.00V1448.51M587.43,1455.00V1452.81M588.90,1455.00V1451.98M591.41,1455.00V1452.04M593.38,1455.00V1452.48M594.34,1455.00V1452.04M596.30,1455.00V1453.05M597.44,1455.00V1452.06M599.22,1455.00V1452.97M600.96,1455.00V1453.04M602.20,1455.00V1452.82M603.17,1455.00V1452.57M605.01,1455.00V1452.79M607.99,1455.00V1452.02M609.84,1455.00V1453.01M611.64,1455.00V1452.97M612.97,1455.00V1451.91M614.46,1455.00V1452.47M620.30,1455.00V1453.11M622.00,1455.00V1452.73M623.57,1455.00V1451.90M625.43,1455.00V1452.73M630.01,1455.00V1452.10M631.37,1455.00V1452.50M632.73,1455.00V1452.70M634.73,1455.00V1452.77M636.40,1455.00V1452.98M637.53,1455.00V1452.65M638.47,1455.00V1452.00M640.04,1455.00V1453.09M641.23,1455.00V1452.81M643.94,1455.00V1452.42M645.63,1455.00V1453.15M647.38,1455.00V1449.08M658.28,1455.00V1449.43M660.96,1455.00V1452.83M662.23,1455.00V1452.16M663.60,1455.00V1452.03M670.72,1455.00V1451.99M671.67,1455.00V1453.03M672.72,1455.00V1452.70M675.68,1455.00V1450.26M676.69,1455.00V1453.07M678.14,1455.00V1453.03M679.37,1455.00V1452.07M680.82,1455.00V1452.12M683.28,1455.00V1452.13M684.27,1455.00V1453.14M694.85,1455.00V1453.14M700.55,1455.00V1452.35M702.21,1455.00V1452.83M703.47,1455.00V1452.64M705.38,1455.00V1453.10M707.22,1455.00V1452.23M708.21,1455.00V1451.90M709.96,1455.00V1452.91M711.76,1455.00V1452.11M714.64,1455.00V1452.90M716.36,1455.00V1452.83M717.42,1455.00V1452.62M726.75,1455.00V1452.73M727.99,1455.00V1453.14M728.96,1455.00V1450.13M730.89,1455.00V1453.02M736.51,1455.00V1452.25M738.30,1455.00V1452.83M739.50,1455.00V1451.90M741.19,1455.00V1452.39M743.17,1455.00V1453.30M744.29,1455.00V1452.39M746.11,1455.00V1452.65M747.87,1455.00V1452.38M749.33,1455.00V1452.68M751.22,1455.00V1453.04M752.58,1455.00V1452.43M754.13,1455.00V1453.20M757.42,1455.00V1452.35M758.56,1455.00V1451.97M760.40,1455.00V1452.05M761.84,1455.00V1448.53M763.15,1455.00V1453.08M764.27,1455.00V1452.92M765.26,1455.00V1452.30M766.66,1455.00V1452.24M767.88,1455.00V1452.15M769.27,1455.00V1452.30M771.18,1455.00V1448.70M772.13,1455.00V1448.88M773.78,1455.00V1452.88M775.57,1455.00V1453.17M776.91,1455.00V1451.95M778.17,1455.00V1452.25M779.88,1455.00V1453.19M782.87,1455.00V1452.34M784.72,1455.00V1452.54M786.13,1455.00V1453.24M787.82,1455.00V1452.14M789.60,1455.00V1453.12M790.99,1455.00V1451.98M794.04,1455.00V1452.88M795.74,1455.00V1452.12M796.74,1455.00V1452.76M798.63,1455.00V1452.51M799.99,1455.00V1452.00M801.23,1455.00V1453.06M803.07,1455.00V1452.54M803.98,1455.00V1452.22M805.03,1455.00V1452.13M810.81,1455.00V1452.08M811.92,1455.00V1453.01M813.79,1455.00V1452.07M815.24,1455.00V1452.00M816.25,1455.00V1452.96M817.15,1455.00V1452.29M822.73,1455.00V1452.06M824.62,1455.00V1452.36M826.19,1455.00V1452.55M827.63,1455.00V1452.26M829.20,1455.00V1452.83M831.02,1455.00V1452.74M833.02,1455.00V1451.94M834.10,1455.00V1452.36M835.24,1455.00V1452.46M836.69,1455.00V1452.22M838.58,1455.00V1453.26M840.43,1455.00V1452.72M842.03,1455.00V1452.49M843.23,1455.00V1451.94M844.79,1455.00V1452.42M846.25,1455.00V1452.01M847.58,1455.00V1453.24M849.13,1455.00V1453.21M850.24,1455.00V1452.44M851.51,1455.00V1452.45M853.38,1455.00V1452.10M855.01,1455.00V1453.00M858.29,1455.00V1453.12M862.17,1455.00V1453.25M863.98,1455.00V1452.22M865.15,1455.00V1453.23M867.03,1455.00V1449.44M868.07,1455.00V1451.98M870.04,1455.00V1453.11M871.28,1455.00V1452.88M872.97,1455.00V1452.17M877.86,1455.00V1452.46M879.13,1455.00V1452.98M880.39,1455.00V1452.06M881.75,1455.00V1452.53M883.10,1455.00V1452.96M884.11,1455.00V1452.05M885.18,1455.00V1451.98M892.70,1455.00V1452.81M894.35,1455.00V1452.20M895.44,1455.00V1452.47M897.11,1455.00V1451.94M900.06,1455.00V1452.60M902.55,1455.00V1451.97M903.70,1455.00V1448.45M905.44,1455.00V1452.65M908.30,1455.00V1452.49M909.78,1455.00V1452.48M911.24,1455.00V1452.90M920.57,1455.00V1451.95M922.08,1455.00V1452.42M923.84,1455.00V1452.24M925.24,1455.00V1452.18M927.06,1455.00V1452.94M928.09,1455.00V1452.83M929.20,1455.00V1452.28M930.69,1455.00V1453.15M932.50,1455.00V1452.10M938.65,1455.00V1453.15M940.64,1455.00V1452.52M941.87,1455.00V1452.76M943.17,1455.00V1452.38M944.75,1455.00V1452.47M946.31,1455.00V1452.95M947.28,1455.00V1451.97M948.97,1455.00V1452.07M950.52,1455.00V1451.94M951.71,1455.00V1453.21M953.58,1455.00V1453.22M954.74,1455.00V1452.89M956.28,1455.00V1452.37M964.77,1455.00V1448.77M966.56,1455.00V1452.02M968.33,1455.00V1453.20M969.30,1455.00V1453.21M971.19,1455.00V1452.91M972.77,1455.00V1452.43M974.07,1455.00V1448.40M975.76,1455.00V1452.87M977.62,1455.00V1452.58M979.16,1455.00V1452.58M980.73,1455.00V1452.93M982.40,1455.00V1452.68M983.48,1455.00V1450.72M985.04,1455.00V1453.29M986.73,1455.00V1452.98M988.08,1455.00V1452.85M990.85,1455.00V1452.51M991.90,1455.00V1452.72M992.93,1455.00V1453.12M994.35,1455.00V1452.12M995.64,1455.00V1452.92M997.63,1455.00V1452.24M999.05,1455.00V1453.02M1000.54,1455.00V1452.21M1002.26,1455.00V1452.68M1003.97,1455.00V1452.08M1005.08,1455.00V1452.15M1006.67,1455.00V1451.99M1008.18,1455.00V1452.65M1010.99,1455.00V1452.66M1012.96,1455.00V1452.03M1014.40,1455.00V1452.07M1015.83,1455.00V1452.49M1021.09,1455.00V1452.66M1022.93,1455.00V1452.72M1024.18,1455.00V1452.81M1026.03,1455.00V1452.62M1027.93,1455.00V1452.86M1029.76,1455.00V1452.99M1032.42,1455.00V1451.94M1034.01,1455.00V1452.65M1036.21,1455.00V1452.19M1037.77,1455.00V1452.20M1040.13,1455.00V1453.21M1042.48,1455.00V1453.25M1044.31,1455.00V1452.35M1046.19,1455.00V1452.07M1047.28,1455.00V1452.22M1049.06,1455.00V1452.23M1050.93,1455.00V1452.60M1055.81,1455.00V1451.98M1057.03,1455.00V1452.64M1058.99,1455.00V1452.97M1061.90,1455.00V1448.55M1063.46,1455.00V1452.62M1065.35,1455.00V1452.39M1066.76,1455.00V1451.99M1069.66,1455.00V1452.29M1071.48,1455.00V1452.73M1074.60,1455.00V1453.24M1076.30,1455.00V1452.38M1077.94,1455.00V1453.15M1079.36,1455.00V1452.89M1081.01,1455.00V1451.49M1082.27,1455.00V1452.37M1084.01,1455.00V1452.35M1085.01,1455.00V1452.89M1086.48,1455.00V1451.89M1088.38,1455.00V1452.00M1091.39,1455.00V1452.01M1093.15,1455.00V1452.94M1094.05,1455.00V1453.14M1095.15,1455.00V1448.90M1097.02,1455.00V1451.96M1098.64,1455.00V1452.19M1105.67,1455.00V1452.60M1106.58,1455.00V1452.77M1107.69,1455.00V1452.91M1109.59,1455.00V1452.16M1110.87,1455.00V1453.20M1111.81,1455.00V1453.23M1113.06,1455.00V1449.88M1114.29,1455.00V1453.20M1115.69,1455.00V1452.39M1117.01,1455.00V1451.93M1118.03,1455.00V1453.00M1119.49,1455.00V1452.85M1120.95,1455.00V1452.81M1122.48,1455.00V1453.17M1124.29,1455.00V1453.03M1125.94,1455.00V1452.72M1126.94,1455.00V1452.02M1128.56,1455.00V1452.83M1129.48,1455.00V1452.37M1130.88,1455.00V1452.07M1137.59,1455.00V1452.42M1139.56,1455.00V1453.29M1140.57,1455.00V1452.94M1142.20,1455.00V1452.64M1143.33,1455.00V1452.49M1145.29,1455.00V1448.45M1146.55,1455.00V1452.68M1148.16,1455.00V1451.95M1150.06,1455.00V1452.39M1151.31,1455.00V1452.96M1152.39,1455.00V1451.93M1154.21,1455.00V1452.91M1155.67,1455.00V1453.05M1159.22,1455.00V1452.98M1161.00,1455.00V1453.06M1162.37,1455.00V1451.95M1163.53,1455.00V1452.57M1165.36,1455.00V1452.29M1166.64,1455.00V1452.86M1168.47,1455.00V1452.12M1169.75,1455.00V1452.75M1171.34,1455.00V1452.26M1173.07,1455.00V1451.95M1174.29,1455.00V1453.23M1176.06,1455.00V1453.02M1177.40,1455.00V1452.49M1178.44,1455.00V1449.38M1180.07,1455.00V1453.28M1181.06,1455.00V1452.78M1183.01,1455.00V1453.30M1184.93,1455.00V1452.45M1186.90,1455.00V1452.93M1188.28,1455.00V1453.23M1189.54,1455.00V1452.35M1190.99,1455.00V1452.24M1192.83,1455.00V1452.22M1195.97,1455.00V1452.23M1197.45,1455.00V1452.95M1199.12,1455.00V1452.06M1200.68,1455.00V1453.08M1201.81,1455.00V1449.11M1203.00,1455.00V1452.18M1204.36,1455.00V1452.27M1205.44,1455.00V1452.11M1206.62,1455.00V1452.52M1208.30,1455.00V1452.63M1209.57,1455.00V1453.24M1211.04,1455.00V1452.07M1213.65,1455.00V1452.59M1215.61,1455.00V1453.28M1217.14,1455.00V1452.52M1223.77,1455.00V1452.37M1225.08,1455.00V1452.16M1234.25,1455.00V1452.73M1235.21,1455.00V1452.91M1236.39,1455.00V1453.22M1238.16,1455.00V1452.98M1239.12,1455.00V1452.46M1240.55,1455.00V1452.03M1241.51,1455.00V1452.39M1243.26,1455.00V1452.10M1244.20,1455.00V1452.19M1245.12,1455.00V1452.73M1247.05,1455.00V1452.82M1248.53,1455.00V1452.36M1249.72,1455.00V1452.15M1250.92,1455.00V1451.99M1252.88,1455.00V1452.26M1254.19,1455.00V1452.88M1255.90,1455.00V1452.92M1256.88,1455.00V1453.17M1258.72,1455.00V1452.61M1261.63,1455.00V1452.39M1262.94,1455.00V1452.41M1267.30,1455.00V1452.70M1268.49,1455.00V1453.20M1269.89,1455.00V1452.47M1270.95,1455.00V1452.26M1271.97,1455.00V1452.69M1273.91,1455.00V1452.96M1275.34,1455.00V1452.70M1276.93,1455.00V1452.78M1279.91,1455.00V1452.25M1281.61,1455.00V1451.98M1283.35,1455.00V1452.06M1286.73,1455.00V1452.39M1288.37,1455.00V1452.27M1289.27,1455.00V1452.15M1290.90,1455.00V1452.49M1292.57,1455.00V1453.23M1294.22,1455.00V1449.33M1297.47,1455.00V1453.23M1299.27,1455.00V1450.69M1300.94,1455.00V1452.98M1302.31,1455.00V1449.32M1303.47,1455.00V1451.94M1308.77,1455.00V1451.95M1310.77,1455.00V1452.30M1314.04,1455.00V1451.96M1315.16,1455.00V1452.93M1317.09,1455.00V1452.98M1318.82,1455.00V1453.29M1321.91,1455.00V1451.74M1324.81,1455.00V1452.63M1326.38,1455.00V1452.75M1327.36,1455.00V1453.12M1330.20,1455.00V1452.35M1331.35,1455.00V1452.35M1332.68,1455.00V1452.21M1334.46,1455.00V1452.09M1335.71,1455.00V1453.25M1336.87,1455.00V1449.05M1338.61,1455.00V1450.76M1340.04,1455.00V1451.96M1342.91,1455.00V1452.29M1344.22,1455.00V1452.48M1345.48,1455.00V1452.81M1347.23,1455.00V1453.11M1349.06,1455.00V1452.67M1352.60,1455.00V1452.29M1354.02,1455.00V1452.63M1355.20,1455.00V1452.87M1364.05,1455.00V1452.80M1365.37,1455.00V1452.15M1368.25,1455.00V1453.27M1369.95,1455.00V1452.80M1371.70,1455.00V1449.36M1373.69,1455.00V1452.77M1375.28,1455.00V1452.34M1376.36,1455.00V1453.00M1377.90,1455.00V1452.57M1379.45,1455.00V1452.19M1380.86,1455.00V1452.01M1381.91,1455.00V1452.25M1383.47,1455.00V1453.13M1384.66,1455.00V1452.86M1386.03,1455.00V1452.86M1387.55,1455.00V1452.06M1388.65,1455.00V1452.83M1389.80,1455.00V1452.36M1399.56,1455.00V1451.94M1400.47,1455.00V1452.15M1401.69,1455.00V1453.30M1403.42,1455.00V1453.29M1404.68,1455.00V1452.05M1405.81,1455.00V1452.54M1407.69,1455.00V1452.26M1410.63,1455.00V1452.35M1411.68,1455.00V1452.55M1413.27,1455.00V1450.27M1414.27,1455.00V1453.12M1415.37,1455.00V1452.87M1416.35,1455.00V1453.26M1417.30,1455.00V1452.81M1419.03,1455.00V1453.11M1422.18,1455.00V1453.08M1423.54,1455.00V1452.39M1426.30,1455.00V1452.44M1427.43,1455.00V1452.79M1428.38,1455.00V1450.95M1430.27,1455.00V1452.27M1431.67,1455.00V1452.28M1433.66,1455.00V1453.19M1434.87,1455.00V1453.15M1436.24,1455.00V1452.74M1437.51,1455.00V1452.84M1438.78,1455.00V1452.88M1440.00,1455.00V1448.95M1443.36,1455.00V1451.91M1444.32,1455.00V1453.10M1445.70,1455.00V1452.39M1447.33,1455.00V1452.56M1453.02,1455.00V1452.44M1455.01,1455.00V1451.91M1456.63,1455.00V1453.21M1458.29,1455.00V1452.92M1459.27,1455.00V1452.64M1460.91,1455.00V1453.10M1462.54,1455.00V1452.72M1463.71,1455.00V1452.53M1464.86,1455.00V1452.27M1466.19,1455.00V1449.17M1467.61,1455.00V1452.02M1469.06,1455.00V1452.93M1470.17,1455.00V1453.20M1471.76,1455.00V1452.36M1473.30,1455.00V1452.28M1476.41,1455.00V1452.38M1477.32,1455.00V1452.19M1479.08,1455.00V1452.08M1480.08,1455.00V1452.15M1481.37,1455.00V1452.24M1484.78,1455.00V1452.80M1485.84,1455.00V1452.85M1487.72,1455.00V1452.65M1489.05,1455.00V1452.85M1490.80,1455.00V1452.19M1492.36,1455.00V1453.03M1493.81,1455.00V1452.76M1495.09,1455.00V1452.62M1500.93,1455.00V1452.97M1502.65,1455.00V1452.71M1503.65,1455.00V1452.60M1504.97,1455.00V1452.02M1512.84,1455.00V1453.18M1514.67,1455.00V1453.29M1515.68,1455.00V1452.38M1517.01,1455.00V1453.08M1518.77,1455.00V1452.18M1520.75,1455.00V1452.77M1522.54,1455.00V1453.06M1531.26,1455.00V1452.91M1532.81,1455.00V1452.39M1536.13,1455.00V1451.93M1537.23,1455.00V1452.28M1539.92,1455.00V1453.10M1541.10,1455.00V1452.06M1542.62,1455.00V1452.33M1544.06,1455.00V1451.92M1545.93,1455.00V1452.63M1547.71,1455.00V1451.41M1548.89,1455.00V1452.80M1550.04,1455.00V1452.16M1551.93,1455.00V1452.84M1553.81,1455.00V1449.07M1555.16,1455.00V1453.11M1557.34,1455.00V1451.93M1558.51,1455.00V1452.20M1559.91,1455.00V1452.23M1561.30,1455.00V1452.78M1563.17,1455.00V1452.54M1564.92,1455.00V1452.36M1567.58,1455.00V1452.32M1571.16,1455.00V1452.29M1572.80,1455.00V1452.65M1574.24,1455.00V1452.01M1575.65,1455.00V1451.83M1576.74,1455.00V1452.17M1578.07,1455.00V1453.00M1580.05,1455.00V1452.64" stroke="#000" stroke-width="1.2" fill="none"/>
<path d="M1588.62,1455.00V1453.54M1593.37,1455.00V1453.04M1609.33,1455.00V1451.58M1634.77,1455.00V1453.51M1641.71,1455.00V1453.47" stroke="#000" stroke-width="1.2" fill="none"/>
<path d="M326.00,1455.00V1452.39M361.00,1455.00V1451.09M368.50,1455.00V1449.79M392.10,1455.00V1429.71M425.50,1455.00V1448.48M429.50,1455.00V1435.45M449.30,1455.00V1391.39M452.50,1455.00V1451.09M484.00,1455.00V1288.67M488.20,1455.00V1421.11M517.50,1455.00V1440.14M523.00,1455.00V1439.36M553.50,1455.00V1328.30M557.70,1455.00V1443.27M591.50,1455.00V1395.56M634.40,1455.00V1449.79M703.30,1455.00V1439.88M726.70,1455.00V1448.48M740.30,1455.00V1449.79M760.80,1455.00V1422.41M794.90,1455.00V1329.86M798.80,1455.00V1442.75M829.60,1455.00V1426.32M834.50,1455.00V1449.79M864.70,1455.00V1308.23M868.90,1455.00V1447.18M898.80,1455.00V1436.75M903.00,1455.00V1419.02M944.90,1455.00V1443.27M979.00,1455.00V1449.79M1014.70,1455.00V1436.75M1037.80,1455.00V1448.48M1059.60,1455.00V1448.48M1072.60,1455.00V1409.90M1096.30,1455.00V1449.79M1106.70,1455.00V1377.57M1141.10,1455.00V1411.20M1175.10,1455.00V1242.27M1211.00,1455.00V1441.96M1214.70,1455.00V1413.29M1256.00,1455.00V1447.18M1291.00,1455.00V1447.18M1325.80,1455.00V1449.79M1360.00,1455.00V1445.88M1368.00,1455.00V1448.48M1382.90,1455.00V1419.81M1405.70,1455.00V1436.75M1417.70,1455.00V1395.04M1452.50,1455.00V1267.30M1486.80,1455.00V1194.30M1488.50,1455.00V1441.96M1495.60,1455.00V1449.79M1529.60,1455.00V1444.57M1547.60,1455.00V1449.79M1563.60,1455.00V1434.14" stroke="#000" stroke-width="1.6" fill="none"/>
<text transform="translate(146.40,1203.80) scale(1.0442,1.0000)" x="0" y="0" fill="#000"><tspan font-family="'Liberation Sans', sans-serif" font-size="26.20" font-weight="bold">[M+H]</tspan><tspan font-family="'Liberation Sans', sans-serif" font-size="26.20" font-weight="bold" dy="-11.79">+</tspan><tspan font-family="'Liberation Sans', sans-serif" font-size="26.20" font-weight="bold" dy="11.79"> = 943.33 </tspan><tspan font-family="'Liberation Sans', sans-serif" font-size="26.20" font-weight="bold" font-style="italic">m/z</tspan></text>
<text transform="translate(443.96,1281.80) scale(1.0669,1.0000)" x="0" y="0" fill="#000"><tspan font-family="'Liberation Sans', sans-serif" font-size="24.30">345.07</tspan></text>
<text transform="translate(513.88,1321.70) scale(1.0519,1.0000)" x="0" y="0" fill="#000"><tspan font-family="'Liberation Sans', sans-serif" font-size="24.30">381.10</tspan></text>
<text transform="translate(485.27,1382.50) scale(1.0643,1.0000)" x="0" y="0" fill="#000"><tspan font-family="'Liberation Sans', sans-serif" font-size="24.30">383.11</tspan></text>
<text transform="translate(566.28,1389.00) scale(1.0604,1.0000)" x="0" y="0" fill="#000"><tspan font-family="'Liberation Sans', sans-serif" font-size="24.30">401.13</tspan></text>
<text transform="translate(389.78,1384.70) scale(1.0447,1.0000)" x="0" y="0" fill="#000"><tspan font-family="'Liberation Sans', sans-serif" font-size="24.30">327.07</tspan></text>
<text transform="translate(351.80,1422.40) scale(1.0693,1.0000)" x="0" y="0" fill="#000"><tspan font-family="'Liberation Sans', sans-serif" font-size="24.30">297.10</tspan></text>
<text transform="translate(715.27,1316.50) scale(1.0619,1.0000)" x="0" y="0" fill="#000"><tspan font-family="'Liberation Sans', sans-serif" font-size="24.30">507.15</tspan></text>
<text transform="translate(825.68,1299.00) scale(1.0531,1.0000)" x="0" y="0" fill="#000"><tspan font-family="'Liberation Sans', sans-serif" font-size="24.30">543.17</tspan></text>
<text transform="translate(698.48,1416.60) scale(1.0700,1.0000)" x="0" y="0" fill="#000"><tspan font-family="'Liberation Sans', sans-serif" font-size="24.30">489.13</tspan></text>
<text transform="translate(797.07,1403.00) scale(1.0572,1.0000)" x="0" y="0" fill="#000"><tspan font-family="'Liberation Sans', sans-serif" font-size="24.30">545.22</tspan></text>
<text transform="translate(867.89,1364.60) scale(1.0430,1.0000)" x="0" y="0" fill="#000"><tspan font-family="'Liberation Sans', sans-serif" font-size="24.30">563.21</tspan></text>
<text transform="translate(913.97,1419.20) scale(1.0586,1.0000)" x="0" y="0" fill="#000"><tspan font-family="'Liberation Sans', sans-serif" font-size="24.30">561.17</tspan></text>
<text transform="translate(1023.51,1403.60) scale(1.0651,1.0000)" x="0" y="0" fill="#000"><tspan font-family="'Liberation Sans', sans-serif" font-size="24.30">651.20</tspan></text>
<text transform="translate(1067.52,1370.60) scale(1.0534,1.0000)" x="0" y="0" fill="#000"><tspan font-family="'Liberation Sans', sans-serif" font-size="24.30">669.21</tspan></text>
<text transform="translate(1135.81,1235.90) scale(1.0606,1.0000)" x="0" y="0" fill="#000"><tspan font-family="'Liberation Sans', sans-serif" font-size="24.30">705.24</tspan></text>
<text transform="translate(1181.42,1351.80) scale(1.0552,1.0000)" x="0" y="0" fill="#000"><tspan font-family="'Liberation Sans', sans-serif" font-size="24.30">725.27</tspan></text>
<text transform="translate(1225.98,1421.80) scale(1.0495,1.0000)" x="0" y="0" fill="#000"><tspan font-family="'Liberation Sans', sans-serif" font-size="24.30">523.26</tspan></text>
<text transform="translate(1351.35,1382.60) scale(1.0548,1.0000)" x="0" y="0" fill="#000"><tspan font-family="'Liberation Sans', sans-serif" font-size="24.30">831.27</tspan></text>
<text transform="translate(1400.53,1259.10) scale(1.0661,1.0000)" x="0" y="0" fill="#000"><tspan font-family="'Liberation Sans', sans-serif" font-size="24.30">849.30</tspan></text>
<text transform="translate(1447.65,1188.10) scale(1.0558,1.0000)" x="0" y="0" fill="#000"><tspan font-family="'Liberation Sans', sans-serif" font-size="24.30">867.29</tspan></text>
<text transform="translate(1524.46,1423.80) scale(1.0464,1.0000)" x="0" y="0" fill="#000"><tspan font-family="'Liberation Sans', sans-serif" font-size="24.30">907.34</tspan></text>
<text transform="translate(426.33,1255.80) scale(1.4720,1.0000)" x="0" y="0" fill="#000"><tspan font-family="'Liberation Sans', sans-serif" font-size="18.50">b</tspan><tspan font-family="'Liberation Sans', sans-serif" font-size="12.21" dy="3.70">2</tspan><tspan font-family="'Liberation Sans', sans-serif" font-size="18.50" dy="-3.70">-(H</tspan><tspan font-family="'Liberation Sans', sans-serif" font-size="12.21" dy="3.70">2</tspan><tspan font-family="'Liberation Sans', sans-serif" font-size="18.50" dy="-3.70">O)</tspan><tspan font-family="'Liberation Sans', sans-serif" font-size="12.21" dy="3.70">2</tspan></text>
<text transform="translate(539.96,1296.40) scale(1.5342,1.0000)" x="0" y="0" fill="#000"><tspan font-family="'Liberation Sans', sans-serif" font-size="18.50">b</tspan><tspan font-family="'Liberation Sans', sans-serif" font-size="12.21" dy="3.70">2</tspan></text>
<text transform="translate(508.91,1359.70) scale(1.4786,1.0000)" x="0" y="0" fill="#000"><tspan font-family="'Liberation Sans', sans-serif" font-size="18.50">z</tspan><tspan font-family="'Liberation Sans', sans-serif" font-size="12.21" dy="3.70">2</tspan></text>
<text transform="translate(594.96,1364.60) scale(1.5010,1.0000)" x="0" y="0" fill="#000"><tspan font-family="'Liberation Sans', sans-serif" font-size="18.50">y</tspan><tspan font-family="'Liberation Sans', sans-serif" font-size="12.21" dy="3.70">2</tspan></text>
<text transform="translate(698.23,1291.50) scale(1.4720,1.0000)" x="0" y="0" fill="#000"><tspan font-family="'Liberation Sans', sans-serif" font-size="18.50">b</tspan><tspan font-family="'Liberation Sans', sans-serif" font-size="12.21" dy="3.70">3</tspan><tspan font-family="'Liberation Sans', sans-serif" font-size="18.50" dy="-3.70">-(H</tspan><tspan font-family="'Liberation Sans', sans-serif" font-size="12.21" dy="3.70">2</tspan><tspan font-family="'Liberation Sans', sans-serif" font-size="18.50" dy="-3.70">O)</tspan><tspan font-family="'Liberation Sans', sans-serif" font-size="12.21" dy="3.70">2</tspan></text>
<text transform="translate(850.88,1275.30) scale(1.5155,1.0000)" x="0" y="0" fill="#000"><tspan font-family="'Liberation Sans', sans-serif" font-size="18.50">b</tspan><tspan font-family="'Liberation Sans', sans-serif" font-size="12.21" dy="3.70">3</tspan></text>
<text transform="translate(824.61,1380.90) scale(1.4732,1.0000)" x="0" y="0" fill="#000"><tspan font-family="'Liberation Sans', sans-serif" font-size="18.50">z</tspan><tspan font-family="'Liberation Sans', sans-serif" font-size="12.21" dy="3.70">3</tspan></text>
<text transform="translate(896.07,1340.90) scale(1.4308,1.0000)" x="0" y="0" fill="#000"><tspan font-family="'Liberation Sans', sans-serif" font-size="18.50">y</tspan><tspan font-family="'Liberation Sans', sans-serif" font-size="12.21" dy="3.70">3</tspan></text>
<text transform="translate(941.46,1397.10) scale(1.5407,1.0000)" x="0" y="0" fill="#000"><tspan font-family="'Liberation Sans', sans-serif" font-size="18.50">c</tspan><tspan font-family="'Liberation Sans', sans-serif" font-size="12.21" dy="3.70">3</tspan></text>
<text transform="translate(1048.24,1343.90) scale(1.4640,1.0000)" x="0" y="0" fill="#000"><tspan font-family="'Liberation Sans', sans-serif" font-size="18.50">b</tspan><tspan font-family="'Liberation Sans', sans-serif" font-size="12.21" dy="3.70">4</tspan><tspan font-family="'Liberation Sans', sans-serif" font-size="18.50" dy="-3.70">-(H</tspan><tspan font-family="'Liberation Sans', sans-serif" font-size="12.21" dy="3.70">2</tspan><tspan font-family="'Liberation Sans', sans-serif" font-size="18.50" dy="-3.70">O)</tspan><tspan font-family="'Liberation Sans', sans-serif" font-size="12.21" dy="3.70">2</tspan></text>
<text transform="translate(1159.94,1208.80) scale(1.6261,1.0000)" x="0" y="0" fill="#000"><tspan font-family="'Liberation Sans', sans-serif" font-size="18.50">b</tspan><tspan font-family="'Liberation Sans', sans-serif" font-size="12.21" dy="3.70">4</tspan></text>
<text transform="translate(1209.76,1324.70) scale(1.5352,1.0000)" x="0" y="0" fill="#000"><tspan font-family="'Liberation Sans', sans-serif" font-size="18.50">y</tspan><tspan font-family="'Liberation Sans', sans-serif" font-size="12.21" dy="3.70">4</tspan></text>
<text transform="translate(1252.71,1399.80) scale(1.4745,1.0000)" x="0" y="0" fill="#000"><tspan font-family="'Liberation Sans', sans-serif" font-size="18.50">c</tspan><tspan font-family="'Liberation Sans', sans-serif" font-size="12.21" dy="3.70">4</tspan></text>
<text transform="translate(1334.04,1357.00) scale(1.4640,1.0000)" x="0" y="0" fill="#000"><tspan font-family="'Liberation Sans', sans-serif" font-size="18.50">b</tspan><tspan font-family="'Liberation Sans', sans-serif" font-size="12.21" dy="3.70">5</tspan><tspan font-family="'Liberation Sans', sans-serif" font-size="18.50" dy="-3.70">-(H</tspan><tspan font-family="'Liberation Sans', sans-serif" font-size="12.21" dy="3.70">2</tspan><tspan font-family="'Liberation Sans', sans-serif" font-size="18.50" dy="-3.70">O)</tspan><tspan font-family="'Liberation Sans', sans-serif" font-size="12.21" dy="3.70">2</tspan></text>
<text transform="translate(1397.96,1237.90) scale(1.4490,1.0000)" x="0" y="0" fill="#000"><tspan font-family="'Liberation Sans', sans-serif" font-size="18.50">b</tspan><tspan font-family="'Liberation Sans', sans-serif" font-size="12.21" dy="3.70">5</tspan><tspan font-family="'Liberation Sans', sans-serif" font-size="18.50" dy="-3.70">-H</tspan><tspan font-family="'Liberation Sans', sans-serif" font-size="12.21" dy="3.70">2</tspan><tspan font-family="'Liberation Sans', sans-serif" font-size="18.50" dy="-3.70">O</tspan></text>
<text transform="translate(1473.12,1163.80) scale(1.5610,1.0000)" x="0" y="0" fill="#000"><tspan font-family="'Liberation Sans', sans-serif" font-size="18.50">b</tspan><tspan font-family="'Liberation Sans', sans-serif" font-size="12.21" dy="3.70">5</tspan></text>
<text transform="translate(1508.66,1397.80) scale(1.4483,1.0000)" x="0" y="0" fill="#000"><tspan font-family="'Liberation Sans', sans-serif" font-size="18.50">M-(H</tspan><tspan font-family="'Liberation Sans', sans-serif" font-size="12.21" dy="3.70">2</tspan><tspan font-family="'Liberation Sans', sans-serif" font-size="18.50" dy="-3.70">O)</tspan><tspan font-family="'Liberation Sans', sans-serif" font-size="12.21" dy="3.70">2</tspan></text>
<text transform="translate(1619.11,1421.80) scale(1.4421,1.0000)" x="0" y="0" fill="#000"><tspan font-family="'Liberation Sans', sans-serif" font-size="20.70">M</tspan></text>
<path d="M526.90,1389.00 L557.70,1441.00" fill="none" stroke="#000" stroke-width="1.6" stroke-linejoin="round" stroke-dasharray="5.5 3.5"/>
<path d="M775.40,1319.10 L794.90,1327.30" fill="none" stroke="#000" stroke-width="1.6" stroke-linejoin="round" stroke-dasharray="5.5 3.5"/>
<path d="M842.00,1403.60 L868.90,1445.20" fill="none" stroke="#000" stroke-width="1.6" stroke-linejoin="round" stroke-dasharray="5.5 3.5"/>
<path d="M903.00,1372.70 L903.00,1418.90" fill="none" stroke="#000" stroke-width="1.6" stroke-linejoin="round" stroke-dasharray="5.5 3.5"/>
<path d="M932.90,1421.40 L898.80,1435.40" fill="none" stroke="#000" stroke-width="1.6" stroke-linejoin="round" stroke-dasharray="5.5 3.5"/>
<path d="M1214.70,1357.80 L1214.70,1413.80" fill="none" stroke="#000" stroke-width="1.6" stroke-linejoin="round" stroke-dasharray="5.5 3.5"/>
<path d="M1243.80,1424.60 L1211.00,1437.80" fill="none" stroke="#000" stroke-width="1.6" stroke-linejoin="round" stroke-dasharray="5.5 3.5"/>
<path d="M1397.70,1387.80 L1417.70,1395.80" fill="none" stroke="#000" stroke-width="1.6" stroke-linejoin="round" stroke-dasharray="5.5 3.5"/>
<path d="M1631.50,1423.80 L1631.50,1455.00" fill="none" stroke="#000" stroke-width="1.6" stroke-linejoin="round" stroke-dasharray="5.5 3.5"/>
<path d="M135.53,1455.00V1458.90M139.37,1455.00V1458.90M143.22,1455.00V1458.90M147.06,1455.00V1462.10M150.90,1455.00V1458.90M154.74,1455.00V1458.90M158.59,1455.00V1458.90M162.43,1455.00V1458.90M166.27,1455.00V1462.10M170.11,1455.00V1458.90M173.96,1455.00V1458.90M177.80,1455.00V1458.90M181.64,1455.00V1458.90M185.49,1455.00V1462.10M189.33,1455.00V1458.90M193.17,1455.00V1458.90M197.01,1455.00V1458.90M200.86,1455.00V1458.90M204.70,1455.00V1464.70M208.54,1455.00V1458.90M212.39,1455.00V1458.90M216.23,1455.00V1458.90M220.07,1455.00V1458.90M223.91,1455.00V1462.10M227.76,1455.00V1458.90M231.60,1455.00V1458.90M235.44,1455.00V1458.90M239.29,1455.00V1458.90M243.13,1455.00V1462.10M246.97,1455.00V1458.90M250.81,1455.00V1458.90M254.66,1455.00V1458.90M258.50,1455.00V1458.90M262.34,1455.00V1462.10M266.18,1455.00V1458.90M270.03,1455.00V1458.90M273.87,1455.00V1458.90M277.71,1455.00V1458.90M281.56,1455.00V1462.10M285.40,1455.00V1458.90M289.24,1455.00V1458.90M293.08,1455.00V1458.90M296.93,1455.00V1458.90M300.77,1455.00V1464.70M304.61,1455.00V1458.90M308.46,1455.00V1458.90M312.30,1455.00V1458.90M316.14,1455.00V1458.90M319.98,1455.00V1462.10M323.83,1455.00V1458.90M327.67,1455.00V1458.90M331.51,1455.00V1458.90M335.36,1455.00V1458.90M339.20,1455.00V1462.10M343.04,1455.00V1458.90M346.88,1455.00V1458.90M350.73,1455.00V1458.90M354.57,1455.00V1458.90M358.41,1455.00V1462.10M362.25,1455.00V1458.90M366.10,1455.00V1458.90M369.94,1455.00V1458.90M373.78,1455.00V1458.90M377.63,1455.00V1462.10M381.47,1455.00V1458.90M385.31,1455.00V1458.90M389.15,1455.00V1458.90M393.00,1455.00V1458.90M396.84,1455.00V1464.70M400.68,1455.00V1458.90M404.53,1455.00V1458.90M408.37,1455.00V1458.90M412.21,1455.00V1458.90M416.05,1455.00V1462.10M419.90,1455.00V1458.90M423.74,1455.00V1458.90M427.58,1455.00V1458.90M431.43,1455.00V1458.90M435.27,1455.00V1462.10M439.11,1455.00V1458.90M442.95,1455.00V1458.90M446.80,1455.00V1458.90M450.64,1455.00V1458.90M454.48,1455.00V1462.10M458.32,1455.00V1458.90M462.17,1455.00V1458.90M466.01,1455.00V1458.90M469.85,1455.00V1458.90M473.70,1455.00V1462.10M477.54,1455.00V1458.90M481.38,1455.00V1458.90M485.22,1455.00V1458.90M489.07,1455.00V1458.90M492.91,1455.00V1464.70M496.75,1455.00V1458.90M500.60,1455.00V1458.90M504.44,1455.00V1458.90M508.28,1455.00V1458.90M512.12,1455.00V1462.10M515.97,1455.00V1458.90M519.81,1455.00V1458.90M523.65,1455.00V1458.90M527.50,1455.00V1458.90M531.34,1455.00V1462.10M535.18,1455.00V1458.90M539.02,1455.00V1458.90M542.87,1455.00V1458.90M546.71,1455.00V1458.90M550.55,1455.00V1462.10M554.39,1455.00V1458.90M558.24,1455.00V1458.90M562.08,1455.00V1458.90M565.92,1455.00V1458.90M569.77,1455.00V1462.10M573.61,1455.00V1458.90M577.45,1455.00V1458.90M581.29,1455.00V1458.90M585.14,1455.00V1458.90M588.98,1455.00V1464.70M592.82,1455.00V1458.90M596.67,1455.00V1458.90M600.51,1455.00V1458.90M604.35,1455.00V1458.90M608.19,1455.00V1462.10M612.04,1455.00V1458.90M615.88,1455.00V1458.90M619.72,1455.00V1458.90M623.57,1455.00V1458.90M627.41,1455.00V1462.10M631.25,1455.00V1458.90M635.09,1455.00V1458.90M638.94,1455.00V1458.90M642.78,1455.00V1458.90M646.62,1455.00V1462.10M650.46,1455.00V1458.90M654.31,1455.00V1458.90M658.15,1455.00V1458.90M661.99,1455.00V1458.90M665.84,1455.00V1462.10M669.68,1455.00V1458.90M673.52,1455.00V1458.90M677.36,1455.00V1458.90M681.21,1455.00V1458.90M685.05,1455.00V1464.70M688.89,1455.00V1458.90M692.74,1455.00V1458.90M696.58,1455.00V1458.90M700.42,1455.00V1458.90M704.26,1455.00V1462.10M708.11,1455.00V1458.90M711.95,1455.00V1458.90M715.79,1455.00V1458.90M719.64,1455.00V1458.90M723.48,1455.00V1462.10M727.32,1455.00V1458.90M731.16,1455.00V1458.90M735.01,1455.00V1458.90M738.85,1455.00V1458.90M742.69,1455.00V1462.10M746.53,1455.00V1458.90M750.38,1455.00V1458.90M754.22,1455.00V1458.90M758.06,1455.00V1458.90M761.91,1455.00V1462.10M765.75,1455.00V1458.90M769.59,1455.00V1458.90M773.43,1455.00V1458.90M777.28,1455.00V1458.90M781.12,1455.00V1464.70M784.96,1455.00V1458.90M788.81,1455.00V1458.90M792.65,1455.00V1458.90M796.49,1455.00V1458.90M800.33,1455.00V1462.10M804.18,1455.00V1458.90M808.02,1455.00V1458.90M811.86,1455.00V1458.90M815.71,1455.00V1458.90M819.55,1455.00V1462.10M823.39,1455.00V1458.90M827.23,1455.00V1458.90M831.08,1455.00V1458.90M834.92,1455.00V1458.90M838.76,1455.00V1462.10M842.60,1455.00V1458.90M846.45,1455.00V1458.90M850.29,1455.00V1458.90M854.13,1455.00V1458.90M857.98,1455.00V1462.10M861.82,1455.00V1458.90M865.66,1455.00V1458.90M869.50,1455.00V1458.90M873.35,1455.00V1458.90M877.19,1455.00V1464.70M881.03,1455.00V1458.90M884.88,1455.00V1458.90M888.72,1455.00V1458.90M892.56,1455.00V1458.90M896.40,1455.00V1462.10M900.25,1455.00V1458.90M904.09,1455.00V1458.90M907.93,1455.00V1458.90M911.78,1455.00V1458.90M915.62,1455.00V1462.10M919.46,1455.00V1458.90M923.30,1455.00V1458.90M927.15,1455.00V1458.90M930.99,1455.00V1458.90M934.83,1455.00V1462.10M938.67,1455.00V1458.90M942.52,1455.00V1458.90M946.36,1455.00V1458.90M950.20,1455.00V1458.90M954.05,1455.00V1462.10M957.89,1455.00V1458.90M961.73,1455.00V1458.90M965.57,1455.00V1458.90M969.42,1455.00V1458.90M973.26,1455.00V1464.70M977.10,1455.00V1458.90M980.95,1455.00V1458.90M984.79,1455.00V1458.90M988.63,1455.00V1458.90M992.47,1455.00V1462.10M996.32,1455.00V1458.90M1000.16,1455.00V1458.90M1004.00,1455.00V1458.90M1007.85,1455.00V1458.90M1011.69,1455.00V1462.10M1015.53,1455.00V1458.90M1019.37,1455.00V1458.90M1023.22,1455.00V1458.90M1027.06,1455.00V1458.90M1030.90,1455.00V1462.10M1034.74,1455.00V1458.90M1038.59,1455.00V1458.90M1042.43,1455.00V1458.90M1046.27,1455.00V1458.90M1050.12,1455.00V1462.10M1053.96,1455.00V1458.90M1057.80,1455.00V1458.90M1061.64,1455.00V1458.90M1065.49,1455.00V1458.90M1069.33,1455.00V1464.70M1073.17,1455.00V1458.90M1077.02,1455.00V1458.90M1080.86,1455.00V1458.90M1084.70,1455.00V1458.90M1088.54,1455.00V1462.10M1092.39,1455.00V1458.90M1096.23,1455.00V1458.90M1100.07,1455.00V1458.90M1103.92,1455.00V1458.90M1107.76,1455.00V1462.10M1111.60,1455.00V1458.90M1115.44,1455.00V1458.90M1119.29,1455.00V1458.90M1123.13,1455.00V1458.90M1126.97,1455.00V1462.10M1130.81,1455.00V1458.90M1134.66,1455.00V1458.90M1138.50,1455.00V1458.90M1142.34,1455.00V1458.90M1146.19,1455.00V1462.10M1150.03,1455.00V1458.90M1153.87,1455.00V1458.90M1157.71,1455.00V1458.90M1161.56,1455.00V1458.90M1165.40,1455.00V1464.70M1169.24,1455.00V1458.90M1173.09,1455.00V1458.90M1176.93,1455.00V1458.90M1180.77,1455.00V1458.90M1184.61,1455.00V1462.10M1188.46,1455.00V1458.90M1192.30,1455.00V1458.90M1196.14,1455.00V1458.90M1199.99,1455.00V1458.90M1203.83,1455.00V1462.10M1207.67,1455.00V1458.90M1211.51,1455.00V1458.90M1215.36,1455.00V1458.90M1219.20,1455.00V1458.90M1223.04,1455.00V1462.10M1226.88,1455.00V1458.90M1230.73,1455.00V1458.90M1234.57,1455.00V1458.90M1238.41,1455.00V1458.90M1242.26,1455.00V1462.10M1246.10,1455.00V1458.90M1249.94,1455.00V1458.90M1253.78,1455.00V1458.90M1257.63,1455.00V1458.90M1261.47,1455.00V1464.70M1265.31,1455.00V1458.90M1269.16,1455.00V1458.90M1273.00,1455.00V1458.90M1276.84,1455.00V1458.90M1280.68,1455.00V1462.10M1284.53,1455.00V1458.90M1288.37,1455.00V1458.90M1292.21,1455.00V1458.90M1296.06,1455.00V1458.90M1299.90,1455.00V1462.10M1303.74,1455.00V1458.90M1307.58,1455.00V1458.90M1311.43,1455.00V1458.90M1315.27,1455.00V1458.90M1319.11,1455.00V1462.10M1322.95,1455.00V1458.90M1326.80,1455.00V1458.90M1330.64,1455.00V1458.90M1334.48,1455.00V1458.90M1338.33,1455.00V1462.10M1342.17,1455.00V1458.90M1346.01,1455.00V1458.90M1349.85,1455.00V1458.90M1353.70,1455.00V1458.90M1357.54,1455.00V1464.70M1361.38,1455.00V1458.90M1365.23,1455.00V1458.90M1369.07,1455.00V1458.90M1372.91,1455.00V1458.90M1376.75,1455.00V1462.10M1380.60,1455.00V1458.90M1384.44,1455.00V1458.90M1388.28,1455.00V1458.90M1392.13,1455.00V1458.90M1395.97,1455.00V1462.10M1399.81,1455.00V1458.90M1403.65,1455.00V1458.90M1407.50,1455.00V1458.90M1411.34,1455.00V1458.90M1415.18,1455.00V1462.10M1419.02,1455.00V1458.90M1422.87,1455.00V1458.90M1426.71,1455.00V1458.90M1430.55,1455.00V1458.90M1434.40,1455.00V1462.10M1438.24,1455.00V1458.90M1442.08,1455.00V1458.90M1445.92,1455.00V1458.90M1449.77,1455.00V1458.90M1453.61,1455.00V1464.70M1457.45,1455.00V1458.90M1461.30,1455.00V1458.90M1465.14,1455.00V1458.90M1468.98,1455.00V1458.90M1472.82,1455.00V1462.10M1476.67,1455.00V1458.90M1480.51,1455.00V1458.90M1484.35,1455.00V1458.90M1488.20,1455.00V1458.90M1492.04,1455.00V1462.10M1495.88,1455.00V1458.90M1499.72,1455.00V1458.90M1503.57,1455.00V1458.90M1507.41,1455.00V1458.90M1511.25,1455.00V1462.10M1515.09,1455.00V1458.90M1518.94,1455.00V1458.90M1522.78,1455.00V1458.90M1526.62,1455.00V1458.90M1530.47,1455.00V1462.10M1534.31,1455.00V1458.90M1538.15,1455.00V1458.90M1541.99,1455.00V1458.90M1545.84,1455.00V1458.90M1549.68,1455.00V1464.70M1553.52,1455.00V1458.90M1557.37,1455.00V1458.90M1561.21,1455.00V1458.90M1565.05,1455.00V1458.90M1568.89,1455.00V1462.10M1572.74,1455.00V1458.90M1576.58,1455.00V1458.90M1580.42,1455.00V1458.90M1584.27,1455.00V1458.90M1588.11,1455.00V1462.10M1591.95,1455.00V1458.90M1595.79,1455.00V1458.90M1599.64,1455.00V1458.90M1603.48,1455.00V1458.90M1607.32,1455.00V1462.10M1611.16,1455.00V1458.90M1615.01,1455.00V1458.90M1618.85,1455.00V1458.90M1622.69,1455.00V1458.90M1626.54,1455.00V1462.10M1630.38,1455.00V1458.90M1634.22,1455.00V1458.90M1638.06,1455.00V1458.90M1641.91,1455.00V1458.90M1645.75,1455.00V1464.70M1649.59,1455.00V1458.90M1653.44,1455.00V1458.90M1657.28,1455.00V1458.90" stroke="#000" stroke-width="1.5" fill="none"/>
<text transform="translate(182.73,1484.70) scale(1.0900,1.0000)" x="0" y="0" fill="#000"><tspan font-family="'Liberation Sans', sans-serif" font-size="24.00">200</tspan></text>
<text transform="translate(278.80,1484.70) scale(1.0900,1.0000)" x="0" y="0" fill="#000"><tspan font-family="'Liberation Sans', sans-serif" font-size="24.00">250</tspan></text>
<text transform="translate(375.00,1484.70) scale(1.0900,1.0000)" x="0" y="0" fill="#000"><tspan font-family="'Liberation Sans', sans-serif" font-size="24.00">300</tspan></text>
<text transform="translate(471.07,1484.70) scale(1.0900,1.0000)" x="0" y="0" fill="#000"><tspan font-family="'Liberation Sans', sans-serif" font-size="24.00">350</tspan></text>
<text transform="translate(567.40,1484.70) scale(1.0900,1.0000)" x="0" y="0" fill="#000"><tspan font-family="'Liberation Sans', sans-serif" font-size="24.00">400</tspan></text>
<text transform="translate(663.47,1484.70) scale(1.0900,1.0000)" x="0" y="0" fill="#000"><tspan font-family="'Liberation Sans', sans-serif" font-size="24.00">450</tspan></text>
<text transform="translate(759.28,1484.70) scale(1.0900,1.0000)" x="0" y="0" fill="#000"><tspan font-family="'Liberation Sans', sans-serif" font-size="24.00">500</tspan></text>
<text transform="translate(855.35,1484.70) scale(1.0900,1.0000)" x="0" y="0" fill="#000"><tspan font-family="'Liberation Sans', sans-serif" font-size="24.00">550</tspan></text>
<text transform="translate(951.29,1484.70) scale(1.0900,1.0000)" x="0" y="0" fill="#000"><tspan font-family="'Liberation Sans', sans-serif" font-size="24.00">600</tspan></text>
<text transform="translate(1047.36,1484.70) scale(1.0900,1.0000)" x="0" y="0" fill="#000"><tspan font-family="'Liberation Sans', sans-serif" font-size="24.00">650</tspan></text>
<text transform="translate(1143.43,1484.70) scale(1.0900,1.0000)" x="0" y="0" fill="#000"><tspan font-family="'Liberation Sans', sans-serif" font-size="24.00">700</tspan></text>
<text transform="translate(1239.50,1484.70) scale(1.0900,1.0000)" x="0" y="0" fill="#000"><tspan font-family="'Liberation Sans', sans-serif" font-size="24.00">750</tspan></text>
<text transform="translate(1335.63,1484.70) scale(1.0900,1.0000)" x="0" y="0" fill="#000"><tspan font-family="'Liberation Sans', sans-serif" font-size="24.00">800</tspan></text>
<text transform="translate(1431.70,1484.70) scale(1.0900,1.0000)" x="0" y="0" fill="#000"><tspan font-family="'Liberation Sans', sans-serif" font-size="24.00">850</tspan></text>
<text transform="translate(1527.77,1484.70) scale(1.0900,1.0000)" x="0" y="0" fill="#000"><tspan font-family="'Liberation Sans', sans-serif" font-size="24.00">900</tspan></text>
<text transform="translate(1623.84,1484.70) scale(1.0900,1.0000)" x="0" y="0" fill="#000"><tspan font-family="'Liberation Sans', sans-serif" font-size="24.00">950</tspan></text>
<text transform="translate(866.09,1526.00) scale(0.9849,1.0000)" x="0" y="0" fill="#000"><tspan font-family="'Liberation Sans', sans-serif" font-size="34.70" font-style="italic">m/z</tspan></text>
<text transform="translate(0.02,1596.40) scale(0.9189,1.0000)" x="0" y="0" fill="#000"><tspan font-family="'Liberation Sans', sans-serif" font-size="60.50">C</tspan></text>
<text transform="translate(144.94,1621.60) scale(0.9965,1.0000)" x="0" y="0" fill="#000"><tspan font-family="'Liberation Sans', sans-serif" font-size="34.00" font-weight="bold">[M+H]</tspan><tspan font-family="'Liberation Sans', sans-serif" font-size="30.60" font-weight="bold" dy="-14.62">+</tspan><tspan font-family="'Liberation Sans', sans-serif" font-size="34.00" font-weight="bold" dy="14.62"> = 619.27 </tspan><tspan font-family="'Liberation Sans', sans-serif" font-size="34.00" font-weight="bold" font-style="italic">m/z</tspan></text>
<line x1="895.00" y1="1642.00" x2="956.20" y2="1659.50" stroke="#000" stroke-width="2.2" stroke-linecap="butt"/>
<line x1="956.20" y1="1659.50" x2="919.90" y2="1635.00" stroke="#000" stroke-width="2.2" stroke-linecap="butt"/>
<line x1="919.90" y1="1635.00" x2="919.90" y2="1602.60" stroke="#000" stroke-width="2.2" stroke-linecap="butt"/>
<text x="911.08" y="1599.00" fill="#000"><tspan font-family="'Liberation Sans', sans-serif" font-size="20.50">OH</tspan></text>
<line x1="956.20" y1="1659.50" x2="982.40" y2="1651.60" stroke="#000" stroke-width="2.2" stroke-linecap="butt"/>
<line x1="956.20" y1="1660.30" x2="956.20" y2="1680.00" stroke="#000" stroke-width="2.2" stroke-linecap="butt"/>
<line x1="956.20" y1="1696.20" x2="956.20" y2="1706.70" stroke="#000" stroke-width="2.2" stroke-linecap="butt"/>
<text x="948.42" y="1724.60" fill="#000"><tspan font-family="'Liberation Sans', sans-serif" font-size="20.50">H</tspan></text>
<line x1="988.20" y1="1647.20" x2="988.20" y2="1678.00" stroke="#000" stroke-width="2.2" stroke-linecap="butt"/>
<text x="981.22" y="1643.50" fill="#000"><tspan font-family="'Liberation Sans', sans-serif" font-size="20.50">H</tspan></text>
<polygon points="894.14,1642.50 922.60,1698.60 930.80,1693.80 895.86,1641.50" fill="#000"/>
<polygon points="927.64,1699.47 989.04,1681.77 987.16,1675.23 925.76,1692.93" fill="#000"/>
<circle cx="926.70" cy="1696.20" r="3.4" fill="#000"/>
<circle cx="988.10" cy="1678.50" r="3.4" fill="#000"/>
<polygon points="1049.28,1695.24 989.36,1674.18 986.84,1682.82 1048.72,1697.16" fill="#000"/>
<line x1="895.00" y1="1689.20" x2="924.70" y2="1695.30" stroke="#000" stroke-width="2.2" stroke-linecap="butt"/>
<text x="862.17" y="1695.80" fill="#000"><tspan font-family="'Liberation Sans', sans-serif" font-size="20.50">HO</tspan></text>
<line x1="926.90" y1="1698.80" x2="926.90" y2="1729.90" stroke="#000" stroke-width="2.2" stroke-linecap="butt"/>
<text x="919.52" y="1748.00" fill="#000"><tspan font-family="'Liberation Sans', sans-serif" font-size="20.50">H</tspan></text>
<line x1="988.90" y1="1680.90" x2="1011.90" y2="1701.00" stroke="#000" stroke-width="2.2" stroke-linecap="butt"/>
<text x="1010.98" y="1716.50" fill="#000"><tspan font-family="'Liberation Sans', sans-serif" font-size="20.50">OH</tspan></text>
<line x1="1049.10" y1="1698.00" x2="1049.10" y2="1729.60" stroke="#000" stroke-width="2.2" stroke-linecap="butt"/>
<text x="1041.02" y="1747.40" fill="#000"><tspan font-family="'Liberation Sans', sans-serif" font-size="20.50">H</tspan></text>
<line x1="873.60" y1="1619.70" x2="895.00" y2="1642.00" stroke="#000" stroke-width="2.2" stroke-linecap="butt"/>
<line x1="867.90" y1="1625.80" x2="888.90" y2="1646.80" stroke="#000" stroke-width="2.2" stroke-linecap="butt"/>
<text x="855.36" y="1618.90" fill="#000"><tspan font-family="'Liberation Sans', sans-serif" font-size="20.50">N</tspan></text>
<line x1="836.00" y1="1626.80" x2="853.10" y2="1617.20" stroke="#000" stroke-width="2.2" stroke-linecap="butt"/>
<text x="818.76" y="1639.50" fill="#000"><tspan font-family="'Liberation Sans', sans-serif" font-size="20.50">O</tspan></text>
<line x1="788.60" y1="1610.60" x2="816.70" y2="1627.10" stroke="#000" stroke-width="2.2" stroke-linecap="butt"/>
<line x1="750.80" y1="1632.60" x2="788.60" y2="1610.60" stroke="#000" stroke-width="2.2" stroke-linecap="butt"/>
<line x1="723.30" y1="1616.10" x2="750.80" y2="1632.60" stroke="#000" stroke-width="2.2" stroke-linecap="butt"/>
<text x="685.26" y="1623.70" fill="#000"><tspan font-family="'Liberation Sans', sans-serif" font-size="20.50">H</tspan><tspan font-family="'Liberation Sans', sans-serif" font-size="14.76" dy="4.10">2</tspan><tspan font-family="'Liberation Sans', sans-serif" font-size="20.50" dy="-4.10">N</tspan></text>
<line x1="993.60" y1="1648.60" x2="1006.20" y2="1644.50" stroke="#000" stroke-width="2.2" stroke-linecap="butt"/>
<text x="1010.26" y="1649.50" fill="#000"><tspan font-family="'Liberation Sans', sans-serif" font-size="20.50">O</tspan></text>
<line x1="1023.60" y1="1651.90" x2="1048.90" y2="1696.40" stroke="#000" stroke-width="2.2" stroke-linecap="butt"/>
<line x1="1049.10" y1="1696.40" x2="1077.00" y2="1672.00" stroke="#000" stroke-width="2.2" stroke-linecap="butt"/>
<text x="1077.26" y="1672.00" fill="#000"><tspan font-family="'Liberation Sans', sans-serif" font-size="20.50">O</tspan></text>
<line x1="1096.20" y1="1658.40" x2="1124.70" y2="1642.00" stroke="#000" stroke-width="2.2" stroke-linecap="butt"/>
<line x1="1124.70" y1="1642.00" x2="1185.90" y2="1659.50" stroke="#000" stroke-width="2.2" stroke-linecap="butt"/>
<line x1="1185.90" y1="1659.50" x2="1149.60" y2="1635.00" stroke="#000" stroke-width="2.2" stroke-linecap="butt"/>
<line x1="1149.60" y1="1635.00" x2="1149.60" y2="1602.60" stroke="#000" stroke-width="2.2" stroke-linecap="butt"/>
<text x="1140.78" y="1599.00" fill="#000"><tspan font-family="'Liberation Sans', sans-serif" font-size="20.50">OH</tspan></text>
<line x1="1185.90" y1="1659.50" x2="1212.10" y2="1651.60" stroke="#000" stroke-width="2.2" stroke-linecap="butt"/>
<line x1="1185.90" y1="1660.30" x2="1185.90" y2="1680.00" stroke="#000" stroke-width="2.2" stroke-linecap="butt"/>
<line x1="1185.90" y1="1696.20" x2="1185.90" y2="1706.70" stroke="#000" stroke-width="2.2" stroke-linecap="butt"/>
<text x="1178.12" y="1724.60" fill="#000"><tspan font-family="'Liberation Sans', sans-serif" font-size="20.50">H</tspan></text>
<line x1="1217.90" y1="1647.20" x2="1217.90" y2="1678.00" stroke="#000" stroke-width="2.2" stroke-linecap="butt"/>
<text x="1210.92" y="1643.50" fill="#000"><tspan font-family="'Liberation Sans', sans-serif" font-size="20.50">H</tspan></text>
<polygon points="1123.84,1642.50 1152.30,1698.60 1160.50,1693.80 1125.56,1641.50" fill="#000"/>
<polygon points="1157.34,1699.47 1218.74,1681.77 1216.86,1675.23 1155.46,1692.93" fill="#000"/>
<circle cx="1156.40" cy="1696.20" r="3.4" fill="#000"/>
<circle cx="1217.80" cy="1678.50" r="3.4" fill="#000"/>
<polygon points="1278.98,1695.24 1219.06,1674.18 1216.54,1682.82 1278.42,1697.16" fill="#000"/>
<line x1="1124.70" y1="1689.20" x2="1154.40" y2="1695.30" stroke="#000" stroke-width="2.2" stroke-linecap="butt"/>
<text x="1091.88" y="1695.80" fill="#000"><tspan font-family="'Liberation Sans', sans-serif" font-size="20.50">HO</tspan></text>
<line x1="1156.60" y1="1698.80" x2="1156.60" y2="1729.90" stroke="#000" stroke-width="2.2" stroke-linecap="butt"/>
<text x="1149.22" y="1748.00" fill="#000"><tspan font-family="'Liberation Sans', sans-serif" font-size="20.50">H</tspan></text>
<line x1="1218.60" y1="1680.90" x2="1241.60" y2="1701.00" stroke="#000" stroke-width="2.2" stroke-linecap="butt"/>
<text x="1240.68" y="1716.50" fill="#000"><tspan font-family="'Liberation Sans', sans-serif" font-size="20.50">OH</tspan></text>
<line x1="1278.80" y1="1698.00" x2="1278.80" y2="1729.60" stroke="#000" stroke-width="2.2" stroke-linecap="butt"/>
<text x="1270.72" y="1747.40" fill="#000"><tspan font-family="'Liberation Sans', sans-serif" font-size="20.50">H</tspan></text>
<line x1="1124.70" y1="1642.00" x2="1124.70" y2="1609.50" stroke="#000" stroke-width="2.2" stroke-linecap="butt"/>
<text x="1116.82" y="1606.50" fill="#000"><tspan font-family="'Liberation Sans', sans-serif" font-size="20.50">H</tspan></text>
<line x1="1223.30" y1="1648.60" x2="1235.90" y2="1644.50" stroke="#000" stroke-width="2.2" stroke-linecap="butt"/>
<text x="1239.96" y="1649.50" fill="#000"><tspan font-family="'Liberation Sans', sans-serif" font-size="20.50">O</tspan></text>
<line x1="1253.30" y1="1651.90" x2="1278.60" y2="1696.40" stroke="#000" stroke-width="2.2" stroke-linecap="butt"/>
<line x1="1278.80" y1="1696.40" x2="1306.70" y2="1672.00" stroke="#000" stroke-width="2.2" stroke-linecap="butt"/>
<text x="1306.96" y="1672.00" fill="#000"><tspan font-family="'Liberation Sans', sans-serif" font-size="20.50">O</tspan></text>
<line x1="1325.90" y1="1658.40" x2="1354.40" y2="1642.00" stroke="#000" stroke-width="2.2" stroke-linecap="butt"/>
<line x1="1354.40" y1="1642.00" x2="1415.60" y2="1659.50" stroke="#000" stroke-width="2.2" stroke-linecap="butt"/>
<line x1="1415.60" y1="1659.50" x2="1379.30" y2="1635.00" stroke="#000" stroke-width="2.2" stroke-linecap="butt"/>
<line x1="1379.30" y1="1635.00" x2="1379.30" y2="1602.60" stroke="#000" stroke-width="2.2" stroke-linecap="butt"/>
<text x="1370.48" y="1599.00" fill="#000"><tspan font-family="'Liberation Sans', sans-serif" font-size="20.50">OH</tspan></text>
<line x1="1415.60" y1="1659.50" x2="1441.80" y2="1651.60" stroke="#000" stroke-width="2.2" stroke-linecap="butt"/>
<line x1="1415.60" y1="1660.30" x2="1415.60" y2="1680.00" stroke="#000" stroke-width="2.2" stroke-linecap="butt"/>
<line x1="1415.60" y1="1696.20" x2="1415.60" y2="1706.70" stroke="#000" stroke-width="2.2" stroke-linecap="butt"/>
<text x="1407.82" y="1724.60" fill="#000"><tspan font-family="'Liberation Sans', sans-serif" font-size="20.50">H</tspan></text>
<line x1="1447.60" y1="1647.20" x2="1447.60" y2="1678.00" stroke="#000" stroke-width="2.2" stroke-linecap="butt"/>
<text x="1440.62" y="1643.50" fill="#000"><tspan font-family="'Liberation Sans', sans-serif" font-size="20.50">H</tspan></text>
<polygon points="1353.54,1642.50 1382.00,1698.60 1390.20,1693.80 1355.26,1641.50" fill="#000"/>
<polygon points="1387.04,1699.47 1448.44,1681.77 1446.56,1675.23 1385.16,1692.93" fill="#000"/>
<circle cx="1386.10" cy="1696.20" r="3.4" fill="#000"/>
<circle cx="1447.50" cy="1678.50" r="3.4" fill="#000"/>
<polygon points="1508.68,1695.24 1448.76,1674.18 1446.24,1682.82 1508.12,1697.16" fill="#000"/>
<line x1="1354.40" y1="1689.20" x2="1384.10" y2="1695.30" stroke="#000" stroke-width="2.2" stroke-linecap="butt"/>
<text x="1321.58" y="1695.80" fill="#000"><tspan font-family="'Liberation Sans', sans-serif" font-size="20.50">HO</tspan></text>
<line x1="1386.30" y1="1698.80" x2="1386.30" y2="1729.90" stroke="#000" stroke-width="2.2" stroke-linecap="butt"/>
<text x="1378.92" y="1748.00" fill="#000"><tspan font-family="'Liberation Sans', sans-serif" font-size="20.50">H</tspan></text>
<line x1="1448.30" y1="1680.90" x2="1471.30" y2="1701.00" stroke="#000" stroke-width="2.2" stroke-linecap="butt"/>
<text x="1470.38" y="1716.50" fill="#000"><tspan font-family="'Liberation Sans', sans-serif" font-size="20.50">OH</tspan></text>
<line x1="1508.50" y1="1698.00" x2="1508.50" y2="1729.60" stroke="#000" stroke-width="2.2" stroke-linecap="butt"/>
<text x="1500.42" y="1747.40" fill="#000"><tspan font-family="'Liberation Sans', sans-serif" font-size="20.50">H</tspan></text>
<line x1="1354.40" y1="1642.00" x2="1354.40" y2="1609.50" stroke="#000" stroke-width="2.2" stroke-linecap="butt"/>
<text x="1346.52" y="1606.50" fill="#000"><tspan font-family="'Liberation Sans', sans-serif" font-size="20.50">H</tspan></text>
<line x1="1454.50" y1="1647.10" x2="1466.10" y2="1644.60" stroke="#000" stroke-width="2.2" stroke-linecap="butt"/>
<text x="1468.98" y="1649.70" fill="#000"><tspan font-family="'Liberation Sans', sans-serif" font-size="20.50">OH</tspan></text>
<line x1="1508.40" y1="1696.00" x2="1536.70" y2="1679.70" stroke="#000" stroke-width="2.2" stroke-linecap="butt"/>
<line x1="1511.00" y1="1699.80" x2="1540.50" y2="1683.80" stroke="#000" stroke-width="2.2" stroke-linecap="butt"/>
<text x="1540.16" y="1681.80" fill="#000"><tspan font-family="'Liberation Sans', sans-serif" font-size="20.50">N</tspan></text>
<line x1="1559.80" y1="1669.00" x2="1576.50" y2="1660.00" stroke="#000" stroke-width="2.2" stroke-linecap="butt"/>
<text x="1580.06" y="1660.70" fill="#000"><tspan font-family="'Liberation Sans', sans-serif" font-size="20.50">O</tspan></text>
<line x1="1597.00" y1="1658.70" x2="1625.20" y2="1674.10" stroke="#000" stroke-width="2.2" stroke-linecap="butt"/>
<line x1="1625.20" y1="1674.10" x2="1663.80" y2="1653.00" stroke="#000" stroke-width="2.2" stroke-linecap="butt"/>
<line x1="1663.80" y1="1653.00" x2="1690.70" y2="1668.40" stroke="#000" stroke-width="2.2" stroke-linecap="butt"/>
<text x="1691.66" y="1681.30" fill="#000"><tspan font-family="'Liberation Sans', sans-serif" font-size="20.50">NH</tspan><tspan font-family="'Liberation Sans', sans-serif" font-size="14.76" dy="4.10">2</tspan></text>
<path d="M1091.70,1563.00 L1066.20,1596.00 L1066.20,1746.00 L1040.20,1781.00" fill="none" stroke="#4474bf" stroke-width="2.6" stroke-linejoin="round" stroke-dasharray="7.4 8.6" stroke-linecap="round"/>
<path d="M1132.80,1563.00 L1107.30,1596.00 L1107.30,1746.00 L1081.30,1781.00" fill="none" stroke="#4474bf" stroke-width="2.6" stroke-linejoin="round" stroke-dasharray="7.4 8.6" stroke-linecap="round"/>
<path d="M1320.10,1563.00 L1294.60,1596.00 L1294.60,1746.00 L1268.60,1781.00" fill="none" stroke="#4474bf" stroke-width="2.6" stroke-linejoin="round" stroke-dasharray="7.4 8.6" stroke-linecap="round"/>
<path d="M1361.30,1563.00 L1335.80,1596.00 L1335.80,1746.00 L1309.80,1781.00" fill="none" stroke="#4474bf" stroke-width="2.6" stroke-linejoin="round" stroke-dasharray="7.4 8.6" stroke-linecap="round"/>
<path d="M1522.80,1671.50 L1522.80,1746.00 L1496.80,1781.00" fill="none" stroke="#4474bf" stroke-width="2.6" stroke-linejoin="round" stroke-dasharray="7.4 8.6" stroke-linecap="round"/>
<path d="M1289.80,1563.00 L1264.30,1596.00 L1264.30,1661.50 L1194.30,1670.60 L1194.30,1696.00" fill="none" stroke="#4474bf" stroke-width="2.6" stroke-linejoin="round" stroke-dasharray="7.4 8.6" stroke-linecap="round"/>
<text transform="translate(1082.24,1548.50) scale(1.1212,1.0000)" x="0" y="0" fill="#000"><tspan font-family="'DejaVu Sans', sans-serif" font-size="27.30" font-weight="bold">y</tspan><tspan font-family="'Liberation Sans', sans-serif" font-size="19.93" font-weight="bold" dy="5.46">2</tspan></text>
<text transform="translate(1131.87,1548.50) scale(1.1675,1.0000)" x="0" y="0" fill="#000"><tspan font-family="'DejaVu Sans', sans-serif" font-size="27.30" font-weight="bold">z</tspan><tspan font-family="'Liberation Sans', sans-serif" font-size="19.93" font-weight="bold" dy="5.46">2</tspan></text>
<text transform="translate(1249.02,1548.50) scale(1.1223,1.0000)" x="0" y="0" fill="#000"><tspan font-family="'Liberation Sans', sans-serif" font-size="19.66" font-weight="bold" dy="-11.47">0,2</tspan><tspan font-family="'DejaVu Sans', sans-serif" font-size="27.30" font-weight="bold" dy="11.47">x</tspan><tspan font-family="'Liberation Sans', sans-serif" font-size="19.93" font-weight="bold" dy="5.46">1</tspan></text>
<text transform="translate(1322.08,1548.50) scale(1.0197,1.0000)" x="0" y="0" fill="#000"><tspan font-family="'DejaVu Sans', sans-serif" font-size="27.30" font-weight="bold">y</tspan><tspan font-family="'Liberation Sans', sans-serif" font-size="19.93" font-weight="bold" dy="5.46">1</tspan></text>
<text transform="translate(1365.92,1548.50) scale(1.0427,1.0000)" x="0" y="0" fill="#000"><tspan font-family="'DejaVu Sans', sans-serif" font-size="27.30" font-weight="bold">z</tspan><tspan font-family="'Liberation Sans', sans-serif" font-size="19.93" font-weight="bold" dy="5.46">1</tspan></text>
<text transform="translate(1016.63,1806.70) scale(1.0221,1.0000)" x="0" y="0" fill="#000"><tspan font-family="'DejaVu Sans', sans-serif" font-size="27.30" font-weight="bold">b</tspan><tspan font-family="'Liberation Sans', sans-serif" font-size="19.93" font-weight="bold" dy="5.46">1</tspan></text>
<text transform="translate(1058.84,1806.70) scale(1.0642,1.0000)" x="0" y="0" fill="#000"><tspan font-family="'DejaVu Sans', sans-serif" font-size="27.30" font-weight="bold">c</tspan><tspan font-family="'Liberation Sans', sans-serif" font-size="19.93" font-weight="bold" dy="5.46">1</tspan></text>
<text transform="translate(1243.55,1806.70) scale(1.1861,1.0000)" x="0" y="0" fill="#000"><tspan font-family="'DejaVu Sans', sans-serif" font-size="27.30" font-weight="bold">b</tspan><tspan font-family="'Liberation Sans', sans-serif" font-size="19.93" font-weight="bold" dy="5.46">2</tspan></text>
<text transform="translate(1285.84,1806.70) scale(1.2463,1.0000)" x="0" y="0" fill="#000"><tspan font-family="'DejaVu Sans', sans-serif" font-size="27.30" font-weight="bold">c</tspan><tspan font-family="'Liberation Sans', sans-serif" font-size="19.93" font-weight="bold" dy="5.46">2</tspan></text>
<text transform="translate(1472.01,1806.70) scale(1.1165,1.0000)" x="0" y="0" fill="#000"><tspan font-family="'DejaVu Sans', sans-serif" font-size="27.30" font-weight="bold">b</tspan><tspan font-family="'Liberation Sans', sans-serif" font-size="19.93" font-weight="bold" dy="5.46">3</tspan></text>
<text transform="translate(144.94,1916.40) scale(0.9965,1.0000)" x="0" y="0" fill="#000"><tspan font-family="'Liberation Sans', sans-serif" font-size="34.00" font-weight="bold">[M+H]</tspan><tspan font-family="'Liberation Sans', sans-serif" font-size="30.60" font-weight="bold" dy="-14.62">+</tspan><tspan font-family="'Liberation Sans', sans-serif" font-size="34.00" font-weight="bold" dy="14.62"> = 781.32 </tspan><tspan font-family="'Liberation Sans', sans-serif" font-size="34.00" font-weight="bold" font-style="italic">m/z</tspan></text>
<line x1="664.30" y1="1995.40" x2="725.50" y2="2012.90" stroke="#000" stroke-width="2.2" stroke-linecap="butt"/>
<line x1="725.50" y1="2012.90" x2="689.20" y2="1988.40" stroke="#000" stroke-width="2.2" stroke-linecap="butt"/>
<line x1="689.20" y1="1988.40" x2="689.20" y2="1956.00" stroke="#000" stroke-width="2.2" stroke-linecap="butt"/>
<text x="680.38" y="1952.40" fill="#000"><tspan font-family="'Liberation Sans', sans-serif" font-size="20.50">OH</tspan></text>
<line x1="725.50" y1="2012.90" x2="751.70" y2="2005.00" stroke="#000" stroke-width="2.2" stroke-linecap="butt"/>
<line x1="725.50" y1="2013.70" x2="725.50" y2="2033.40" stroke="#000" stroke-width="2.2" stroke-linecap="butt"/>
<line x1="725.50" y1="2049.60" x2="725.50" y2="2060.10" stroke="#000" stroke-width="2.2" stroke-linecap="butt"/>
<text x="717.72" y="2078.00" fill="#000"><tspan font-family="'Liberation Sans', sans-serif" font-size="20.50">H</tspan></text>
<line x1="757.50" y1="2000.60" x2="757.50" y2="2031.40" stroke="#000" stroke-width="2.2" stroke-linecap="butt"/>
<text x="750.52" y="1996.90" fill="#000"><tspan font-family="'Liberation Sans', sans-serif" font-size="20.50">H</tspan></text>
<polygon points="663.44,1995.90 691.90,2052.00 700.10,2047.20 665.16,1994.90" fill="#000"/>
<polygon points="696.94,2052.87 758.34,2035.17 756.46,2028.63 695.06,2046.33" fill="#000"/>
<circle cx="696.00" cy="2049.60" r="3.4" fill="#000"/>
<circle cx="757.40" cy="2031.90" r="3.4" fill="#000"/>
<polygon points="818.58,2048.64 758.66,2027.58 756.14,2036.22 818.02,2050.56" fill="#000"/>
<line x1="664.30" y1="2042.60" x2="694.00" y2="2048.70" stroke="#000" stroke-width="2.2" stroke-linecap="butt"/>
<text x="631.47" y="2049.20" fill="#000"><tspan font-family="'Liberation Sans', sans-serif" font-size="20.50">HO</tspan></text>
<line x1="696.20" y1="2052.20" x2="696.20" y2="2083.30" stroke="#000" stroke-width="2.2" stroke-linecap="butt"/>
<text x="688.82" y="2101.40" fill="#000"><tspan font-family="'Liberation Sans', sans-serif" font-size="20.50">H</tspan></text>
<line x1="758.20" y1="2034.30" x2="781.20" y2="2054.40" stroke="#000" stroke-width="2.2" stroke-linecap="butt"/>
<text x="780.28" y="2069.90" fill="#000"><tspan font-family="'Liberation Sans', sans-serif" font-size="20.50">OH</tspan></text>
<line x1="818.40" y1="2051.40" x2="818.40" y2="2083.00" stroke="#000" stroke-width="2.2" stroke-linecap="butt"/>
<text x="810.32" y="2100.80" fill="#000"><tspan font-family="'Liberation Sans', sans-serif" font-size="20.50">H</tspan></text>
<line x1="642.90" y1="1973.10" x2="664.30" y2="1995.40" stroke="#000" stroke-width="2.2" stroke-linecap="butt"/>
<line x1="637.20" y1="1979.20" x2="658.20" y2="2000.20" stroke="#000" stroke-width="2.2" stroke-linecap="butt"/>
<text x="624.66" y="1972.30" fill="#000"><tspan font-family="'Liberation Sans', sans-serif" font-size="20.50">N</tspan></text>
<line x1="605.30" y1="1980.20" x2="622.40" y2="1970.60" stroke="#000" stroke-width="2.2" stroke-linecap="butt"/>
<text x="588.06" y="1992.90" fill="#000"><tspan font-family="'Liberation Sans', sans-serif" font-size="20.50">O</tspan></text>
<line x1="557.90" y1="1964.00" x2="586.00" y2="1980.50" stroke="#000" stroke-width="2.2" stroke-linecap="butt"/>
<line x1="520.10" y1="1986.00" x2="557.90" y2="1964.00" stroke="#000" stroke-width="2.2" stroke-linecap="butt"/>
<line x1="492.60" y1="1969.50" x2="520.10" y2="1986.00" stroke="#000" stroke-width="2.2" stroke-linecap="butt"/>
<text x="454.56" y="1977.10" fill="#000"><tspan font-family="'Liberation Sans', sans-serif" font-size="20.50">H</tspan><tspan font-family="'Liberation Sans', sans-serif" font-size="14.76" dy="4.10">2</tspan><tspan font-family="'Liberation Sans', sans-serif" font-size="20.50" dy="-4.10">N</tspan></text>
<line x1="762.90" y1="2002.00" x2="775.50" y2="1997.90" stroke="#000" stroke-width="2.2" stroke-linecap="butt"/>
<text x="779.56" y="2002.90" fill="#000"><tspan font-family="'Liberation Sans', sans-serif" font-size="20.50">O</tspan></text>
<line x1="792.90" y1="2005.30" x2="818.20" y2="2049.80" stroke="#000" stroke-width="2.2" stroke-linecap="butt"/>
<line x1="818.40" y1="2049.80" x2="846.30" y2="2025.40" stroke="#000" stroke-width="2.2" stroke-linecap="butt"/>
<text x="846.56" y="2025.40" fill="#000"><tspan font-family="'Liberation Sans', sans-serif" font-size="20.50">O</tspan></text>
<line x1="865.50" y1="2011.80" x2="893.40" y2="1995.40" stroke="#000" stroke-width="2.2" stroke-linecap="butt"/>
<line x1="893.40" y1="1995.40" x2="954.60" y2="2012.90" stroke="#000" stroke-width="2.2" stroke-linecap="butt"/>
<line x1="954.60" y1="2012.90" x2="918.30" y2="1988.40" stroke="#000" stroke-width="2.2" stroke-linecap="butt"/>
<line x1="918.30" y1="1988.40" x2="918.30" y2="1956.00" stroke="#000" stroke-width="2.2" stroke-linecap="butt"/>
<text x="909.48" y="1952.40" fill="#000"><tspan font-family="'Liberation Sans', sans-serif" font-size="20.50">OH</tspan></text>
<line x1="954.60" y1="2012.90" x2="980.80" y2="2005.00" stroke="#000" stroke-width="2.2" stroke-linecap="butt"/>
<line x1="954.60" y1="2013.70" x2="954.60" y2="2033.40" stroke="#000" stroke-width="2.2" stroke-linecap="butt"/>
<line x1="954.60" y1="2049.60" x2="954.60" y2="2060.10" stroke="#000" stroke-width="2.2" stroke-linecap="butt"/>
<text x="946.82" y="2078.00" fill="#000"><tspan font-family="'Liberation Sans', sans-serif" font-size="20.50">H</tspan></text>
<line x1="986.60" y1="2000.60" x2="986.60" y2="2031.40" stroke="#000" stroke-width="2.2" stroke-linecap="butt"/>
<text x="979.62" y="1996.90" fill="#000"><tspan font-family="'Liberation Sans', sans-serif" font-size="20.50">H</tspan></text>
<polygon points="892.54,1995.90 921.00,2052.00 929.20,2047.20 894.26,1994.90" fill="#000"/>
<polygon points="926.04,2052.87 987.44,2035.17 985.56,2028.63 924.16,2046.33" fill="#000"/>
<circle cx="925.10" cy="2049.60" r="3.4" fill="#000"/>
<circle cx="986.50" cy="2031.90" r="3.4" fill="#000"/>
<polygon points="1047.68,2048.64 987.76,2027.58 985.24,2036.22 1047.12,2050.56" fill="#000"/>
<line x1="893.40" y1="2042.60" x2="923.10" y2="2048.70" stroke="#000" stroke-width="2.2" stroke-linecap="butt"/>
<text x="860.57" y="2049.20" fill="#000"><tspan font-family="'Liberation Sans', sans-serif" font-size="20.50">HO</tspan></text>
<line x1="925.30" y1="2052.20" x2="925.30" y2="2083.30" stroke="#000" stroke-width="2.2" stroke-linecap="butt"/>
<text x="917.92" y="2101.40" fill="#000"><tspan font-family="'Liberation Sans', sans-serif" font-size="20.50">H</tspan></text>
<line x1="987.30" y1="2034.30" x2="1010.30" y2="2054.40" stroke="#000" stroke-width="2.2" stroke-linecap="butt"/>
<text x="1009.38" y="2069.90" fill="#000"><tspan font-family="'Liberation Sans', sans-serif" font-size="20.50">OH</tspan></text>
<line x1="1047.50" y1="2051.40" x2="1047.50" y2="2083.00" stroke="#000" stroke-width="2.2" stroke-linecap="butt"/>
<text x="1039.42" y="2100.80" fill="#000"><tspan font-family="'Liberation Sans', sans-serif" font-size="20.50">H</tspan></text>
<line x1="893.40" y1="1995.40" x2="893.40" y2="1962.90" stroke="#000" stroke-width="2.2" stroke-linecap="butt"/>
<text x="885.52" y="1959.90" fill="#000"><tspan font-family="'Liberation Sans', sans-serif" font-size="20.50">H</tspan></text>
<line x1="992.00" y1="2002.00" x2="1004.60" y2="1997.90" stroke="#000" stroke-width="2.2" stroke-linecap="butt"/>
<text x="1008.66" y="2002.90" fill="#000"><tspan font-family="'Liberation Sans', sans-serif" font-size="20.50">O</tspan></text>
<line x1="1022.00" y1="2005.30" x2="1047.30" y2="2049.80" stroke="#000" stroke-width="2.2" stroke-linecap="butt"/>
<line x1="1047.50" y1="2049.80" x2="1075.40" y2="2025.40" stroke="#000" stroke-width="2.2" stroke-linecap="butt"/>
<text x="1075.66" y="2025.40" fill="#000"><tspan font-family="'Liberation Sans', sans-serif" font-size="20.50">O</tspan></text>
<line x1="1094.60" y1="2011.80" x2="1122.50" y2="1995.40" stroke="#000" stroke-width="2.2" stroke-linecap="butt"/>
<line x1="1122.50" y1="1995.40" x2="1183.70" y2="2012.90" stroke="#000" stroke-width="2.2" stroke-linecap="butt"/>
<line x1="1183.70" y1="2012.90" x2="1147.40" y2="1988.40" stroke="#000" stroke-width="2.2" stroke-linecap="butt"/>
<line x1="1147.40" y1="1988.40" x2="1147.40" y2="1956.00" stroke="#000" stroke-width="2.2" stroke-linecap="butt"/>
<text x="1138.58" y="1952.40" fill="#000"><tspan font-family="'Liberation Sans', sans-serif" font-size="20.50">OH</tspan></text>
<line x1="1183.70" y1="2012.90" x2="1209.90" y2="2005.00" stroke="#000" stroke-width="2.2" stroke-linecap="butt"/>
<line x1="1183.70" y1="2013.70" x2="1183.70" y2="2033.40" stroke="#000" stroke-width="2.2" stroke-linecap="butt"/>
<line x1="1183.70" y1="2049.60" x2="1183.70" y2="2060.10" stroke="#000" stroke-width="2.2" stroke-linecap="butt"/>
<text x="1175.92" y="2078.00" fill="#000"><tspan font-family="'Liberation Sans', sans-serif" font-size="20.50">H</tspan></text>
<line x1="1215.70" y1="2000.60" x2="1215.70" y2="2031.40" stroke="#000" stroke-width="2.2" stroke-linecap="butt"/>
<text x="1208.72" y="1996.90" fill="#000"><tspan font-family="'Liberation Sans', sans-serif" font-size="20.50">H</tspan></text>
<polygon points="1121.64,1995.90 1150.10,2052.00 1158.30,2047.20 1123.36,1994.90" fill="#000"/>
<polygon points="1155.14,2052.87 1216.54,2035.17 1214.66,2028.63 1153.26,2046.33" fill="#000"/>
<circle cx="1154.20" cy="2049.60" r="3.4" fill="#000"/>
<circle cx="1215.60" cy="2031.90" r="3.4" fill="#000"/>
<polygon points="1276.78,2048.64 1216.86,2027.58 1214.34,2036.22 1276.22,2050.56" fill="#000"/>
<line x1="1122.50" y1="2042.60" x2="1152.20" y2="2048.70" stroke="#000" stroke-width="2.2" stroke-linecap="butt"/>
<text x="1089.68" y="2049.20" fill="#000"><tspan font-family="'Liberation Sans', sans-serif" font-size="20.50">HO</tspan></text>
<line x1="1154.40" y1="2052.20" x2="1154.40" y2="2083.30" stroke="#000" stroke-width="2.2" stroke-linecap="butt"/>
<text x="1147.02" y="2101.40" fill="#000"><tspan font-family="'Liberation Sans', sans-serif" font-size="20.50">H</tspan></text>
<line x1="1216.40" y1="2034.30" x2="1239.40" y2="2054.40" stroke="#000" stroke-width="2.2" stroke-linecap="butt"/>
<text x="1238.48" y="2069.90" fill="#000"><tspan font-family="'Liberation Sans', sans-serif" font-size="20.50">OH</tspan></text>
<line x1="1276.60" y1="2051.40" x2="1276.60" y2="2083.00" stroke="#000" stroke-width="2.2" stroke-linecap="butt"/>
<text x="1268.52" y="2100.80" fill="#000"><tspan font-family="'Liberation Sans', sans-serif" font-size="20.50">H</tspan></text>
<line x1="1122.50" y1="1995.40" x2="1122.50" y2="1962.90" stroke="#000" stroke-width="2.2" stroke-linecap="butt"/>
<text x="1114.62" y="1959.90" fill="#000"><tspan font-family="'Liberation Sans', sans-serif" font-size="20.50">H</tspan></text>
<line x1="1221.10" y1="2002.00" x2="1233.70" y2="1997.90" stroke="#000" stroke-width="2.2" stroke-linecap="butt"/>
<text x="1237.76" y="2002.90" fill="#000"><tspan font-family="'Liberation Sans', sans-serif" font-size="20.50">O</tspan></text>
<line x1="1251.10" y1="2005.30" x2="1276.40" y2="2049.80" stroke="#000" stroke-width="2.2" stroke-linecap="butt"/>
<line x1="1276.60" y1="2049.80" x2="1304.50" y2="2025.40" stroke="#000" stroke-width="2.2" stroke-linecap="butt"/>
<text x="1304.76" y="2025.40" fill="#000"><tspan font-family="'Liberation Sans', sans-serif" font-size="20.50">O</tspan></text>
<line x1="1323.70" y1="2011.80" x2="1351.60" y2="1995.40" stroke="#000" stroke-width="2.2" stroke-linecap="butt"/>
<line x1="1351.60" y1="1995.40" x2="1412.80" y2="2012.90" stroke="#000" stroke-width="2.2" stroke-linecap="butt"/>
<line x1="1412.80" y1="2012.90" x2="1376.50" y2="1988.40" stroke="#000" stroke-width="2.2" stroke-linecap="butt"/>
<line x1="1376.50" y1="1988.40" x2="1376.50" y2="1956.00" stroke="#000" stroke-width="2.2" stroke-linecap="butt"/>
<text x="1367.68" y="1952.40" fill="#000"><tspan font-family="'Liberation Sans', sans-serif" font-size="20.50">OH</tspan></text>
<line x1="1412.80" y1="2012.90" x2="1439.00" y2="2005.00" stroke="#000" stroke-width="2.2" stroke-linecap="butt"/>
<line x1="1412.80" y1="2013.70" x2="1412.80" y2="2033.40" stroke="#000" stroke-width="2.2" stroke-linecap="butt"/>
<line x1="1412.80" y1="2049.60" x2="1412.80" y2="2060.10" stroke="#000" stroke-width="2.2" stroke-linecap="butt"/>
<text x="1405.02" y="2078.00" fill="#000"><tspan font-family="'Liberation Sans', sans-serif" font-size="20.50">H</tspan></text>
<line x1="1444.80" y1="2000.60" x2="1444.80" y2="2031.40" stroke="#000" stroke-width="2.2" stroke-linecap="butt"/>
<text x="1437.82" y="1996.90" fill="#000"><tspan font-family="'Liberation Sans', sans-serif" font-size="20.50">H</tspan></text>
<polygon points="1350.74,1995.90 1379.20,2052.00 1387.40,2047.20 1352.46,1994.90" fill="#000"/>
<polygon points="1384.24,2052.87 1445.64,2035.17 1443.76,2028.63 1382.36,2046.33" fill="#000"/>
<circle cx="1383.30" cy="2049.60" r="3.4" fill="#000"/>
<circle cx="1444.70" cy="2031.90" r="3.4" fill="#000"/>
<polygon points="1505.88,2048.64 1445.96,2027.58 1443.44,2036.22 1505.32,2050.56" fill="#000"/>
<line x1="1351.60" y1="2042.60" x2="1381.30" y2="2048.70" stroke="#000" stroke-width="2.2" stroke-linecap="butt"/>
<text x="1318.78" y="2049.20" fill="#000"><tspan font-family="'Liberation Sans', sans-serif" font-size="20.50">HO</tspan></text>
<line x1="1383.50" y1="2052.20" x2="1383.50" y2="2083.30" stroke="#000" stroke-width="2.2" stroke-linecap="butt"/>
<text x="1376.12" y="2101.40" fill="#000"><tspan font-family="'Liberation Sans', sans-serif" font-size="20.50">H</tspan></text>
<line x1="1445.50" y1="2034.30" x2="1468.50" y2="2054.40" stroke="#000" stroke-width="2.2" stroke-linecap="butt"/>
<text x="1467.58" y="2069.90" fill="#000"><tspan font-family="'Liberation Sans', sans-serif" font-size="20.50">OH</tspan></text>
<line x1="1505.70" y1="2051.40" x2="1505.70" y2="2083.00" stroke="#000" stroke-width="2.2" stroke-linecap="butt"/>
<text x="1497.62" y="2100.80" fill="#000"><tspan font-family="'Liberation Sans', sans-serif" font-size="20.50">H</tspan></text>
<line x1="1351.60" y1="1995.40" x2="1351.60" y2="1962.90" stroke="#000" stroke-width="2.2" stroke-linecap="butt"/>
<text x="1343.72" y="1959.90" fill="#000"><tspan font-family="'Liberation Sans', sans-serif" font-size="20.50">H</tspan></text>
<line x1="1451.70" y1="2000.50" x2="1463.30" y2="1998.00" stroke="#000" stroke-width="2.2" stroke-linecap="butt"/>
<text x="1466.18" y="2003.10" fill="#000"><tspan font-family="'Liberation Sans', sans-serif" font-size="20.50">OH</tspan></text>
<line x1="1505.60" y1="2049.40" x2="1533.90" y2="2033.10" stroke="#000" stroke-width="2.2" stroke-linecap="butt"/>
<line x1="1508.20" y1="2053.20" x2="1537.70" y2="2037.20" stroke="#000" stroke-width="2.2" stroke-linecap="butt"/>
<text x="1537.36" y="2035.20" fill="#000"><tspan font-family="'Liberation Sans', sans-serif" font-size="20.50">N</tspan></text>
<line x1="1557.00" y1="2022.40" x2="1573.70" y2="2013.40" stroke="#000" stroke-width="2.2" stroke-linecap="butt"/>
<text x="1577.26" y="2014.10" fill="#000"><tspan font-family="'Liberation Sans', sans-serif" font-size="20.50">O</tspan></text>
<line x1="1594.20" y1="2012.10" x2="1622.40" y2="2027.50" stroke="#000" stroke-width="2.2" stroke-linecap="butt"/>
<line x1="1622.40" y1="2027.50" x2="1661.00" y2="2006.40" stroke="#000" stroke-width="2.2" stroke-linecap="butt"/>
<line x1="1661.00" y1="2006.40" x2="1687.90" y2="2021.80" stroke="#000" stroke-width="2.2" stroke-linecap="butt"/>
<text x="1688.86" y="2034.70" fill="#000"><tspan font-family="'Liberation Sans', sans-serif" font-size="20.50">NH</tspan><tspan font-family="'Liberation Sans', sans-serif" font-size="14.76" dy="4.10">2</tspan></text>
<path d="M859.70,1913.60 L834.20,1946.60 L834.20,2093.10 L808.20,2128.10" fill="none" stroke="#4474bf" stroke-width="2.6" stroke-linejoin="round" stroke-dasharray="7.4 8.6" stroke-linecap="round"/>
<path d="M901.30,1913.60 L875.80,1946.60 L875.80,2018.80" fill="none" stroke="#4474bf" stroke-width="2.6" stroke-linejoin="round" stroke-dasharray="7.4 8.6" stroke-linecap="round"/>
<path d="M1088.80,1913.60 L1063.30,1946.60 L1063.30,2093.10 L1037.30,2128.10" fill="none" stroke="#4474bf" stroke-width="2.6" stroke-linejoin="round" stroke-dasharray="7.4 8.6" stroke-linecap="round"/>
<path d="M1130.50,1913.60 L1105.00,1946.60 L1105.00,2093.10 L1079.00,2128.10" fill="none" stroke="#4474bf" stroke-width="2.6" stroke-linejoin="round" stroke-dasharray="7.4 8.6" stroke-linecap="round"/>
<path d="M1317.70,1913.60 L1292.20,1946.60 L1292.20,2093.10 L1266.20,2128.10" fill="none" stroke="#4474bf" stroke-width="2.6" stroke-linejoin="round" stroke-dasharray="7.4 8.6" stroke-linecap="round"/>
<path d="M1520.50,2020.00 L1520.50,2093.10 L1494.50,2128.10" fill="none" stroke="#4474bf" stroke-width="2.6" stroke-linejoin="round" stroke-dasharray="7.4 8.6" stroke-linecap="round"/>
<path d="M1290.30,1913.60 L1264.80,1946.60 L1264.80,2013.50 L1195.40,2022.80 L1195.40,2048.00" fill="none" stroke="#4474bf" stroke-width="2.6" stroke-linejoin="round" stroke-dasharray="7.4 8.6" stroke-linecap="round"/>
<text transform="translate(854.83,1898.00) scale(1.1460,1.0000)" x="0" y="0" fill="#000"><tspan font-family="'DejaVu Sans', sans-serif" font-size="27.30" font-weight="bold">y</tspan><tspan font-family="'Liberation Sans', sans-serif" font-size="19.93" font-weight="bold" dy="5.46">3</tspan></text>
<text transform="translate(901.64,1898.00) scale(1.1909,1.0000)" x="0" y="0" fill="#000"><tspan font-family="'DejaVu Sans', sans-serif" font-size="27.30" font-weight="bold">z</tspan><tspan font-family="'Liberation Sans', sans-serif" font-size="19.93" font-weight="bold" dy="5.46">3</tspan></text>
<text transform="translate(1084.14,1898.00) scale(1.1175,1.0000)" x="0" y="0" fill="#000"><tspan font-family="'DejaVu Sans', sans-serif" font-size="27.30" font-weight="bold">y</tspan><tspan font-family="'Liberation Sans', sans-serif" font-size="19.93" font-weight="bold" dy="5.46">2</tspan></text>
<text transform="translate(1132.88,1898.00) scale(1.1555,1.0000)" x="0" y="0" fill="#000"><tspan font-family="'DejaVu Sans', sans-serif" font-size="27.30" font-weight="bold">z</tspan><tspan font-family="'Liberation Sans', sans-serif" font-size="19.93" font-weight="bold" dy="5.46">2</tspan></text>
<text transform="translate(1249.92,1898.00) scale(1.1205,1.0000)" x="0" y="0" fill="#000"><tspan font-family="'Liberation Sans', sans-serif" font-size="19.66" font-weight="bold" dy="-11.47">0,2</tspan><tspan font-family="'DejaVu Sans', sans-serif" font-size="27.30" font-weight="bold" dy="11.47">x</tspan><tspan font-family="'Liberation Sans', sans-serif" font-size="19.93" font-weight="bold" dy="5.46">1</tspan></text>
<text transform="translate(1322.58,1898.00) scale(1.0161,1.0000)" x="0" y="0" fill="#000"><tspan font-family="'DejaVu Sans', sans-serif" font-size="27.30" font-weight="bold">y</tspan><tspan font-family="'Liberation Sans', sans-serif" font-size="19.93" font-weight="bold" dy="5.46">1</tspan></text>
<text transform="translate(784.66,2150.70) scale(1.0509,1.0000)" x="0" y="0" fill="#000"><tspan font-family="'DejaVu Sans', sans-serif" font-size="27.30" font-weight="bold">b</tspan><tspan font-family="'Liberation Sans', sans-serif" font-size="19.93" font-weight="bold" dy="5.46">1</tspan></text>
<text transform="translate(1011.92,2150.70) scale(1.1570,1.0000)" x="0" y="0" fill="#000"><tspan font-family="'DejaVu Sans', sans-serif" font-size="27.30" font-weight="bold">b</tspan><tspan font-family="'Liberation Sans', sans-serif" font-size="19.93" font-weight="bold" dy="5.46">2</tspan></text>
<text transform="translate(1059.67,2150.70) scale(1.2187,1.0000)" x="0" y="0" fill="#000"><tspan font-family="'DejaVu Sans', sans-serif" font-size="27.30" font-weight="bold">c</tspan><tspan font-family="'Liberation Sans', sans-serif" font-size="19.93" font-weight="bold" dy="5.46">2</tspan></text>
<text transform="translate(1242.52,2150.70) scale(1.1528,1.0000)" x="0" y="0" fill="#000"><tspan font-family="'DejaVu Sans', sans-serif" font-size="27.30" font-weight="bold">b</tspan><tspan font-family="'Liberation Sans', sans-serif" font-size="19.93" font-weight="bold" dy="5.46">3</tspan></text>
<text transform="translate(1468.98,2150.70) scale(1.1283,1.0000)" x="0" y="0" fill="#000"><tspan font-family="'DejaVu Sans', sans-serif" font-size="27.30" font-weight="bold">b</tspan><tspan font-family="'Liberation Sans', sans-serif" font-size="19.93" font-weight="bold" dy="5.46">4</tspan></text>
<text transform="translate(144.94,2212.10) scale(0.9965,1.0000)" x="0" y="0" fill="#000"><tspan font-family="'Liberation Sans', sans-serif" font-size="34.00" font-weight="bold">[M+H]</tspan><tspan font-family="'Liberation Sans', sans-serif" font-size="30.60" font-weight="bold" dy="-14.62">+</tspan><tspan font-family="'Liberation Sans', sans-serif" font-size="34.00" font-weight="bold" dy="14.62"> = 943.37 </tspan><tspan font-family="'Liberation Sans', sans-serif" font-size="34.00" font-weight="bold" font-style="italic">m/z</tspan></text>
<line x1="427.60" y1="2311.80" x2="488.80" y2="2329.30" stroke="#000" stroke-width="2.2" stroke-linecap="butt"/>
<line x1="488.80" y1="2329.30" x2="452.50" y2="2304.80" stroke="#000" stroke-width="2.2" stroke-linecap="butt"/>
<line x1="452.50" y1="2304.80" x2="452.50" y2="2272.40" stroke="#000" stroke-width="2.2" stroke-linecap="butt"/>
<text x="443.68" y="2268.80" fill="#000"><tspan font-family="'Liberation Sans', sans-serif" font-size="20.50">OH</tspan></text>
<line x1="488.80" y1="2329.30" x2="515.00" y2="2321.40" stroke="#000" stroke-width="2.2" stroke-linecap="butt"/>
<line x1="488.80" y1="2330.10" x2="488.80" y2="2349.80" stroke="#000" stroke-width="2.2" stroke-linecap="butt"/>
<line x1="488.80" y1="2366.00" x2="488.80" y2="2376.50" stroke="#000" stroke-width="2.2" stroke-linecap="butt"/>
<text x="481.02" y="2394.40" fill="#000"><tspan font-family="'Liberation Sans', sans-serif" font-size="20.50">H</tspan></text>
<line x1="520.80" y1="2317.00" x2="520.80" y2="2347.80" stroke="#000" stroke-width="2.2" stroke-linecap="butt"/>
<text x="513.82" y="2313.30" fill="#000"><tspan font-family="'Liberation Sans', sans-serif" font-size="20.50">H</tspan></text>
<polygon points="426.74,2312.30 455.20,2368.40 463.40,2363.60 428.46,2311.30" fill="#000"/>
<polygon points="460.24,2369.27 521.64,2351.57 519.76,2345.03 458.36,2362.73" fill="#000"/>
<circle cx="459.30" cy="2366.00" r="3.4" fill="#000"/>
<circle cx="520.70" cy="2348.30" r="3.4" fill="#000"/>
<polygon points="581.88,2365.04 521.96,2343.98 519.44,2352.62 581.32,2366.96" fill="#000"/>
<line x1="427.60" y1="2359.00" x2="457.30" y2="2365.10" stroke="#000" stroke-width="2.2" stroke-linecap="butt"/>
<text x="394.77" y="2365.60" fill="#000"><tspan font-family="'Liberation Sans', sans-serif" font-size="20.50">HO</tspan></text>
<line x1="459.50" y1="2368.60" x2="459.50" y2="2399.70" stroke="#000" stroke-width="2.2" stroke-linecap="butt"/>
<text x="452.12" y="2417.80" fill="#000"><tspan font-family="'Liberation Sans', sans-serif" font-size="20.50">H</tspan></text>
<line x1="521.50" y1="2350.70" x2="544.50" y2="2370.80" stroke="#000" stroke-width="2.2" stroke-linecap="butt"/>
<text x="543.58" y="2386.30" fill="#000"><tspan font-family="'Liberation Sans', sans-serif" font-size="20.50">OH</tspan></text>
<line x1="581.70" y1="2367.80" x2="581.70" y2="2399.40" stroke="#000" stroke-width="2.2" stroke-linecap="butt"/>
<text x="573.62" y="2417.20" fill="#000"><tspan font-family="'Liberation Sans', sans-serif" font-size="20.50">H</tspan></text>
<line x1="406.20" y1="2289.50" x2="427.60" y2="2311.80" stroke="#000" stroke-width="2.2" stroke-linecap="butt"/>
<line x1="400.50" y1="2295.60" x2="421.50" y2="2316.60" stroke="#000" stroke-width="2.2" stroke-linecap="butt"/>
<text x="387.96" y="2288.70" fill="#000"><tspan font-family="'Liberation Sans', sans-serif" font-size="20.50">N</tspan></text>
<line x1="368.60" y1="2296.60" x2="385.70" y2="2287.00" stroke="#000" stroke-width="2.2" stroke-linecap="butt"/>
<text x="351.36" y="2309.30" fill="#000"><tspan font-family="'Liberation Sans', sans-serif" font-size="20.50">O</tspan></text>
<line x1="321.20" y1="2280.40" x2="349.30" y2="2296.90" stroke="#000" stroke-width="2.2" stroke-linecap="butt"/>
<line x1="283.40" y1="2302.40" x2="321.20" y2="2280.40" stroke="#000" stroke-width="2.2" stroke-linecap="butt"/>
<line x1="255.90" y1="2285.90" x2="283.40" y2="2302.40" stroke="#000" stroke-width="2.2" stroke-linecap="butt"/>
<text x="217.86" y="2293.50" fill="#000"><tspan font-family="'Liberation Sans', sans-serif" font-size="20.50">H</tspan><tspan font-family="'Liberation Sans', sans-serif" font-size="14.76" dy="4.10">2</tspan><tspan font-family="'Liberation Sans', sans-serif" font-size="20.50" dy="-4.10">N</tspan></text>
<line x1="526.20" y1="2318.40" x2="538.80" y2="2314.30" stroke="#000" stroke-width="2.2" stroke-linecap="butt"/>
<text x="542.86" y="2319.30" fill="#000"><tspan font-family="'Liberation Sans', sans-serif" font-size="20.50">O</tspan></text>
<line x1="556.20" y1="2321.70" x2="581.50" y2="2366.20" stroke="#000" stroke-width="2.2" stroke-linecap="butt"/>
<line x1="581.70" y1="2366.20" x2="609.60" y2="2341.80" stroke="#000" stroke-width="2.2" stroke-linecap="butt"/>
<text x="609.86" y="2341.80" fill="#000"><tspan font-family="'Liberation Sans', sans-serif" font-size="20.50">O</tspan></text>
<line x1="628.80" y1="2328.20" x2="657.60" y2="2311.80" stroke="#000" stroke-width="2.2" stroke-linecap="butt"/>
<line x1="657.60" y1="2311.80" x2="718.80" y2="2329.30" stroke="#000" stroke-width="2.2" stroke-linecap="butt"/>
<line x1="718.80" y1="2329.30" x2="682.50" y2="2304.80" stroke="#000" stroke-width="2.2" stroke-linecap="butt"/>
<line x1="682.50" y1="2304.80" x2="682.50" y2="2272.40" stroke="#000" stroke-width="2.2" stroke-linecap="butt"/>
<text x="673.68" y="2268.80" fill="#000"><tspan font-family="'Liberation Sans', sans-serif" font-size="20.50">OH</tspan></text>
<line x1="718.80" y1="2329.30" x2="745.00" y2="2321.40" stroke="#000" stroke-width="2.2" stroke-linecap="butt"/>
<line x1="718.80" y1="2330.10" x2="718.80" y2="2349.80" stroke="#000" stroke-width="2.2" stroke-linecap="butt"/>
<line x1="718.80" y1="2366.00" x2="718.80" y2="2376.50" stroke="#000" stroke-width="2.2" stroke-linecap="butt"/>
<text x="711.02" y="2394.40" fill="#000"><tspan font-family="'Liberation Sans', sans-serif" font-size="20.50">H</tspan></text>
<line x1="750.80" y1="2317.00" x2="750.80" y2="2347.80" stroke="#000" stroke-width="2.2" stroke-linecap="butt"/>
<text x="743.82" y="2313.30" fill="#000"><tspan font-family="'Liberation Sans', sans-serif" font-size="20.50">H</tspan></text>
<polygon points="656.74,2312.30 685.20,2368.40 693.40,2363.60 658.46,2311.30" fill="#000"/>
<polygon points="690.24,2369.27 751.64,2351.57 749.76,2345.03 688.36,2362.73" fill="#000"/>
<circle cx="689.30" cy="2366.00" r="3.4" fill="#000"/>
<circle cx="750.70" cy="2348.30" r="3.4" fill="#000"/>
<polygon points="811.88,2365.04 751.96,2343.98 749.44,2352.62 811.32,2366.96" fill="#000"/>
<line x1="657.60" y1="2359.00" x2="687.30" y2="2365.10" stroke="#000" stroke-width="2.2" stroke-linecap="butt"/>
<text x="624.77" y="2365.60" fill="#000"><tspan font-family="'Liberation Sans', sans-serif" font-size="20.50">HO</tspan></text>
<line x1="689.50" y1="2368.60" x2="689.50" y2="2399.70" stroke="#000" stroke-width="2.2" stroke-linecap="butt"/>
<text x="682.12" y="2417.80" fill="#000"><tspan font-family="'Liberation Sans', sans-serif" font-size="20.50">H</tspan></text>
<line x1="751.50" y1="2350.70" x2="774.50" y2="2370.80" stroke="#000" stroke-width="2.2" stroke-linecap="butt"/>
<text x="773.58" y="2386.30" fill="#000"><tspan font-family="'Liberation Sans', sans-serif" font-size="20.50">OH</tspan></text>
<line x1="811.70" y1="2367.80" x2="811.70" y2="2399.40" stroke="#000" stroke-width="2.2" stroke-linecap="butt"/>
<text x="803.62" y="2417.20" fill="#000"><tspan font-family="'Liberation Sans', sans-serif" font-size="20.50">H</tspan></text>
<line x1="657.60" y1="2311.80" x2="657.60" y2="2279.30" stroke="#000" stroke-width="2.2" stroke-linecap="butt"/>
<text x="649.72" y="2276.30" fill="#000"><tspan font-family="'Liberation Sans', sans-serif" font-size="20.50">H</tspan></text>
<line x1="756.20" y1="2318.40" x2="768.80" y2="2314.30" stroke="#000" stroke-width="2.2" stroke-linecap="butt"/>
<text x="772.86" y="2319.30" fill="#000"><tspan font-family="'Liberation Sans', sans-serif" font-size="20.50">O</tspan></text>
<line x1="786.20" y1="2321.70" x2="811.50" y2="2366.20" stroke="#000" stroke-width="2.2" stroke-linecap="butt"/>
<line x1="811.70" y1="2366.20" x2="839.60" y2="2341.80" stroke="#000" stroke-width="2.2" stroke-linecap="butt"/>
<text x="839.86" y="2341.80" fill="#000"><tspan font-family="'Liberation Sans', sans-serif" font-size="20.50">O</tspan></text>
<line x1="858.80" y1="2328.20" x2="887.60" y2="2311.80" stroke="#000" stroke-width="2.2" stroke-linecap="butt"/>
<line x1="887.60" y1="2311.80" x2="948.80" y2="2329.30" stroke="#000" stroke-width="2.2" stroke-linecap="butt"/>
<line x1="948.80" y1="2329.30" x2="912.50" y2="2304.80" stroke="#000" stroke-width="2.2" stroke-linecap="butt"/>
<line x1="912.50" y1="2304.80" x2="912.50" y2="2272.40" stroke="#000" stroke-width="2.2" stroke-linecap="butt"/>
<text x="903.68" y="2268.80" fill="#000"><tspan font-family="'Liberation Sans', sans-serif" font-size="20.50">OH</tspan></text>
<line x1="948.80" y1="2329.30" x2="975.00" y2="2321.40" stroke="#000" stroke-width="2.2" stroke-linecap="butt"/>
<line x1="948.80" y1="2330.10" x2="948.80" y2="2349.80" stroke="#000" stroke-width="2.2" stroke-linecap="butt"/>
<line x1="948.80" y1="2366.00" x2="948.80" y2="2376.50" stroke="#000" stroke-width="2.2" stroke-linecap="butt"/>
<text x="941.02" y="2394.40" fill="#000"><tspan font-family="'Liberation Sans', sans-serif" font-size="20.50">H</tspan></text>
<line x1="980.80" y1="2317.00" x2="980.80" y2="2347.80" stroke="#000" stroke-width="2.2" stroke-linecap="butt"/>
<text x="973.82" y="2313.30" fill="#000"><tspan font-family="'Liberation Sans', sans-serif" font-size="20.50">H</tspan></text>
<polygon points="886.74,2312.30 915.20,2368.40 923.40,2363.60 888.46,2311.30" fill="#000"/>
<polygon points="920.24,2369.27 981.64,2351.57 979.76,2345.03 918.36,2362.73" fill="#000"/>
<circle cx="919.30" cy="2366.00" r="3.4" fill="#000"/>
<circle cx="980.70" cy="2348.30" r="3.4" fill="#000"/>
<polygon points="1041.88,2365.04 981.96,2343.98 979.44,2352.62 1041.32,2366.96" fill="#000"/>
<line x1="887.60" y1="2359.00" x2="917.30" y2="2365.10" stroke="#000" stroke-width="2.2" stroke-linecap="butt"/>
<text x="854.77" y="2365.60" fill="#000"><tspan font-family="'Liberation Sans', sans-serif" font-size="20.50">HO</tspan></text>
<line x1="919.50" y1="2368.60" x2="919.50" y2="2399.70" stroke="#000" stroke-width="2.2" stroke-linecap="butt"/>
<text x="912.12" y="2417.80" fill="#000"><tspan font-family="'Liberation Sans', sans-serif" font-size="20.50">H</tspan></text>
<line x1="981.50" y1="2350.70" x2="1004.50" y2="2370.80" stroke="#000" stroke-width="2.2" stroke-linecap="butt"/>
<text x="1003.58" y="2386.30" fill="#000"><tspan font-family="'Liberation Sans', sans-serif" font-size="20.50">OH</tspan></text>
<line x1="1041.70" y1="2367.80" x2="1041.70" y2="2399.40" stroke="#000" stroke-width="2.2" stroke-linecap="butt"/>
<text x="1033.62" y="2417.20" fill="#000"><tspan font-family="'Liberation Sans', sans-serif" font-size="20.50">H</tspan></text>
<line x1="887.60" y1="2311.80" x2="887.60" y2="2279.30" stroke="#000" stroke-width="2.2" stroke-linecap="butt"/>
<text x="879.72" y="2276.30" fill="#000"><tspan font-family="'Liberation Sans', sans-serif" font-size="20.50">H</tspan></text>
<line x1="986.20" y1="2318.40" x2="998.80" y2="2314.30" stroke="#000" stroke-width="2.2" stroke-linecap="butt"/>
<text x="1002.86" y="2319.30" fill="#000"><tspan font-family="'Liberation Sans', sans-serif" font-size="20.50">O</tspan></text>
<line x1="1016.20" y1="2321.70" x2="1041.50" y2="2366.20" stroke="#000" stroke-width="2.2" stroke-linecap="butt"/>
<line x1="1041.70" y1="2366.20" x2="1069.60" y2="2341.80" stroke="#000" stroke-width="2.2" stroke-linecap="butt"/>
<text x="1069.86" y="2341.80" fill="#000"><tspan font-family="'Liberation Sans', sans-serif" font-size="20.50">O</tspan></text>
<line x1="1088.80" y1="2328.20" x2="1117.60" y2="2311.80" stroke="#000" stroke-width="2.2" stroke-linecap="butt"/>
<line x1="1117.60" y1="2311.80" x2="1178.80" y2="2329.30" stroke="#000" stroke-width="2.2" stroke-linecap="butt"/>
<line x1="1178.80" y1="2329.30" x2="1142.50" y2="2304.80" stroke="#000" stroke-width="2.2" stroke-linecap="butt"/>
<line x1="1142.50" y1="2304.80" x2="1142.50" y2="2272.40" stroke="#000" stroke-width="2.2" stroke-linecap="butt"/>
<text x="1133.68" y="2268.80" fill="#000"><tspan font-family="'Liberation Sans', sans-serif" font-size="20.50">OH</tspan></text>
<line x1="1178.80" y1="2329.30" x2="1205.00" y2="2321.40" stroke="#000" stroke-width="2.2" stroke-linecap="butt"/>
<line x1="1178.80" y1="2330.10" x2="1178.80" y2="2349.80" stroke="#000" stroke-width="2.2" stroke-linecap="butt"/>
<line x1="1178.80" y1="2366.00" x2="1178.80" y2="2376.50" stroke="#000" stroke-width="2.2" stroke-linecap="butt"/>
<text x="1171.02" y="2394.40" fill="#000"><tspan font-family="'Liberation Sans', sans-serif" font-size="20.50">H</tspan></text>
<line x1="1210.80" y1="2317.00" x2="1210.80" y2="2347.80" stroke="#000" stroke-width="2.2" stroke-linecap="butt"/>
<text x="1203.82" y="2313.30" fill="#000"><tspan font-family="'Liberation Sans', sans-serif" font-size="20.50">H</tspan></text>
<polygon points="1116.74,2312.30 1145.20,2368.40 1153.40,2363.60 1118.46,2311.30" fill="#000"/>
<polygon points="1150.24,2369.27 1211.64,2351.57 1209.76,2345.03 1148.36,2362.73" fill="#000"/>
<circle cx="1149.30" cy="2366.00" r="3.4" fill="#000"/>
<circle cx="1210.70" cy="2348.30" r="3.4" fill="#000"/>
<polygon points="1271.88,2365.04 1211.96,2343.98 1209.44,2352.62 1271.32,2366.96" fill="#000"/>
<line x1="1117.60" y1="2359.00" x2="1147.30" y2="2365.10" stroke="#000" stroke-width="2.2" stroke-linecap="butt"/>
<text x="1084.78" y="2365.60" fill="#000"><tspan font-family="'Liberation Sans', sans-serif" font-size="20.50">HO</tspan></text>
<line x1="1149.50" y1="2368.60" x2="1149.50" y2="2399.70" stroke="#000" stroke-width="2.2" stroke-linecap="butt"/>
<text x="1142.12" y="2417.80" fill="#000"><tspan font-family="'Liberation Sans', sans-serif" font-size="20.50">H</tspan></text>
<line x1="1211.50" y1="2350.70" x2="1234.50" y2="2370.80" stroke="#000" stroke-width="2.2" stroke-linecap="butt"/>
<text x="1233.58" y="2386.30" fill="#000"><tspan font-family="'Liberation Sans', sans-serif" font-size="20.50">OH</tspan></text>
<line x1="1271.70" y1="2367.80" x2="1271.70" y2="2399.40" stroke="#000" stroke-width="2.2" stroke-linecap="butt"/>
<text x="1263.62" y="2417.20" fill="#000"><tspan font-family="'Liberation Sans', sans-serif" font-size="20.50">H</tspan></text>
<line x1="1117.60" y1="2311.80" x2="1117.60" y2="2279.30" stroke="#000" stroke-width="2.2" stroke-linecap="butt"/>
<text x="1109.72" y="2276.30" fill="#000"><tspan font-family="'Liberation Sans', sans-serif" font-size="20.50">H</tspan></text>
<line x1="1216.20" y1="2318.40" x2="1228.80" y2="2314.30" stroke="#000" stroke-width="2.2" stroke-linecap="butt"/>
<text x="1232.86" y="2319.30" fill="#000"><tspan font-family="'Liberation Sans', sans-serif" font-size="20.50">O</tspan></text>
<line x1="1246.20" y1="2321.70" x2="1271.50" y2="2366.20" stroke="#000" stroke-width="2.2" stroke-linecap="butt"/>
<line x1="1271.70" y1="2366.20" x2="1299.60" y2="2341.80" stroke="#000" stroke-width="2.2" stroke-linecap="butt"/>
<text x="1299.86" y="2341.80" fill="#000"><tspan font-family="'Liberation Sans', sans-serif" font-size="20.50">O</tspan></text>
<line x1="1318.80" y1="2328.20" x2="1347.60" y2="2311.80" stroke="#000" stroke-width="2.2" stroke-linecap="butt"/>
<line x1="1347.60" y1="2311.80" x2="1408.80" y2="2329.30" stroke="#000" stroke-width="2.2" stroke-linecap="butt"/>
<line x1="1408.80" y1="2329.30" x2="1372.50" y2="2304.80" stroke="#000" stroke-width="2.2" stroke-linecap="butt"/>
<line x1="1372.50" y1="2304.80" x2="1372.50" y2="2272.40" stroke="#000" stroke-width="2.2" stroke-linecap="butt"/>
<text x="1363.68" y="2268.80" fill="#000"><tspan font-family="'Liberation Sans', sans-serif" font-size="20.50">OH</tspan></text>
<line x1="1408.80" y1="2329.30" x2="1435.00" y2="2321.40" stroke="#000" stroke-width="2.2" stroke-linecap="butt"/>
<line x1="1408.80" y1="2330.10" x2="1408.80" y2="2349.80" stroke="#000" stroke-width="2.2" stroke-linecap="butt"/>
<line x1="1408.80" y1="2366.00" x2="1408.80" y2="2376.50" stroke="#000" stroke-width="2.2" stroke-linecap="butt"/>
<text x="1401.02" y="2394.40" fill="#000"><tspan font-family="'Liberation Sans', sans-serif" font-size="20.50">H</tspan></text>
<line x1="1440.80" y1="2317.00" x2="1440.80" y2="2347.80" stroke="#000" stroke-width="2.2" stroke-linecap="butt"/>
<text x="1433.82" y="2313.30" fill="#000"><tspan font-family="'Liberation Sans', sans-serif" font-size="20.50">H</tspan></text>
<polygon points="1346.74,2312.30 1375.20,2368.40 1383.40,2363.60 1348.46,2311.30" fill="#000"/>
<polygon points="1380.24,2369.27 1441.64,2351.57 1439.76,2345.03 1378.36,2362.73" fill="#000"/>
<circle cx="1379.30" cy="2366.00" r="3.4" fill="#000"/>
<circle cx="1440.70" cy="2348.30" r="3.4" fill="#000"/>
<polygon points="1501.88,2365.04 1441.96,2343.98 1439.44,2352.62 1501.32,2366.96" fill="#000"/>
<line x1="1347.60" y1="2359.00" x2="1377.30" y2="2365.10" stroke="#000" stroke-width="2.2" stroke-linecap="butt"/>
<text x="1314.78" y="2365.60" fill="#000"><tspan font-family="'Liberation Sans', sans-serif" font-size="20.50">HO</tspan></text>
<line x1="1379.50" y1="2368.60" x2="1379.50" y2="2399.70" stroke="#000" stroke-width="2.2" stroke-linecap="butt"/>
<text x="1372.12" y="2417.80" fill="#000"><tspan font-family="'Liberation Sans', sans-serif" font-size="20.50">H</tspan></text>
<line x1="1441.50" y1="2350.70" x2="1464.50" y2="2370.80" stroke="#000" stroke-width="2.2" stroke-linecap="butt"/>
<text x="1463.58" y="2386.30" fill="#000"><tspan font-family="'Liberation Sans', sans-serif" font-size="20.50">OH</tspan></text>
<line x1="1501.70" y1="2367.80" x2="1501.70" y2="2399.40" stroke="#000" stroke-width="2.2" stroke-linecap="butt"/>
<text x="1493.62" y="2417.20" fill="#000"><tspan font-family="'Liberation Sans', sans-serif" font-size="20.50">H</tspan></text>
<line x1="1347.60" y1="2311.80" x2="1347.60" y2="2279.30" stroke="#000" stroke-width="2.2" stroke-linecap="butt"/>
<text x="1339.72" y="2276.30" fill="#000"><tspan font-family="'Liberation Sans', sans-serif" font-size="20.50">H</tspan></text>
<line x1="1447.70" y1="2316.90" x2="1459.30" y2="2314.40" stroke="#000" stroke-width="2.2" stroke-linecap="butt"/>
<text x="1462.18" y="2319.50" fill="#000"><tspan font-family="'Liberation Sans', sans-serif" font-size="20.50">OH</tspan></text>
<line x1="1501.60" y1="2365.80" x2="1529.90" y2="2349.50" stroke="#000" stroke-width="2.2" stroke-linecap="butt"/>
<line x1="1504.20" y1="2369.60" x2="1533.70" y2="2353.60" stroke="#000" stroke-width="2.2" stroke-linecap="butt"/>
<text x="1533.36" y="2351.60" fill="#000"><tspan font-family="'Liberation Sans', sans-serif" font-size="20.50">N</tspan></text>
<line x1="1553.00" y1="2338.80" x2="1569.70" y2="2329.80" stroke="#000" stroke-width="2.2" stroke-linecap="butt"/>
<text x="1573.26" y="2330.50" fill="#000"><tspan font-family="'Liberation Sans', sans-serif" font-size="20.50">O</tspan></text>
<line x1="1590.20" y1="2328.50" x2="1618.40" y2="2343.90" stroke="#000" stroke-width="2.2" stroke-linecap="butt"/>
<line x1="1618.40" y1="2343.90" x2="1657.00" y2="2322.80" stroke="#000" stroke-width="2.2" stroke-linecap="butt"/>
<line x1="1657.00" y1="2322.80" x2="1683.90" y2="2338.20" stroke="#000" stroke-width="2.2" stroke-linecap="butt"/>
<text x="1684.86" y="2351.10" fill="#000"><tspan font-family="'Liberation Sans', sans-serif" font-size="20.50">NH</tspan><tspan font-family="'Liberation Sans', sans-serif" font-size="14.76" dy="4.10">2</tspan></text>
<path d="M623.70,2228.60 L598.20,2261.60 L598.20,2364.00" fill="none" stroke="#4474bf" stroke-width="2.6" stroke-linejoin="round" stroke-dasharray="7.4 8.6" stroke-linecap="round"/>
<path d="M853.00,2228.60 L827.50,2261.60 L827.50,2412.80 L801.50,2447.80" fill="none" stroke="#4474bf" stroke-width="2.6" stroke-linejoin="round" stroke-dasharray="7.4 8.6" stroke-linecap="round"/>
<path d="M893.90,2228.60 L868.40,2261.60 L868.40,2330.00" fill="none" stroke="#4474bf" stroke-width="2.6" stroke-linejoin="round" stroke-dasharray="7.4 8.6" stroke-linecap="round"/>
<path d="M1086.10,2228.60 L1060.60,2261.60 L1060.60,2412.80 L1034.60,2447.80" fill="none" stroke="#4474bf" stroke-width="2.6" stroke-linejoin="round" stroke-dasharray="7.4 8.6" stroke-linecap="round"/>
<path d="M1127.10,2228.60 L1101.60,2261.60 L1101.60,2412.80 L1075.60,2447.80" fill="none" stroke="#4474bf" stroke-width="2.6" stroke-linejoin="round" stroke-dasharray="7.4 8.6" stroke-linecap="round"/>
<path d="M1288.80,2339.30 L1288.80,2412.80 L1262.80,2447.80" fill="none" stroke="#4474bf" stroke-width="2.6" stroke-linejoin="round" stroke-dasharray="7.4 8.6" stroke-linecap="round"/>
<path d="M1329.70,2306.80 L1329.70,2412.80 L1303.70,2447.80" fill="none" stroke="#4474bf" stroke-width="2.6" stroke-linejoin="round" stroke-dasharray="7.4 8.6" stroke-linecap="round"/>
<path d="M1519.70,2339.30 L1519.70,2412.80 L1493.70,2447.80" fill="none" stroke="#4474bf" stroke-width="2.6" stroke-linejoin="round" stroke-dasharray="7.4 8.6" stroke-linecap="round"/>
<text transform="translate(618.83,2212.80) scale(1.1359,1.0000)" x="0" y="0" fill="#000"><tspan font-family="'DejaVu Sans', sans-serif" font-size="27.30" font-weight="bold">y</tspan><tspan font-family="'Liberation Sans', sans-serif" font-size="19.93" font-weight="bold" dy="5.46">4</tspan></text>
<text transform="translate(847.74,2212.00) scale(1.1171,1.0000)" x="0" y="0" fill="#000"><tspan font-family="'DejaVu Sans', sans-serif" font-size="27.30" font-weight="bold">y</tspan><tspan font-family="'Liberation Sans', sans-serif" font-size="19.93" font-weight="bold" dy="5.46">3</tspan></text>
<text transform="translate(893.11,2212.00) scale(1.2108,1.0000)" x="0" y="0" fill="#000"><tspan font-family="'DejaVu Sans', sans-serif" font-size="27.30" font-weight="bold">z</tspan><tspan font-family="'Liberation Sans', sans-serif" font-size="19.93" font-weight="bold" dy="5.46">3</tspan></text>
<text transform="translate(1081.04,2212.00) scale(1.1212,1.0000)" x="0" y="0" fill="#000"><tspan font-family="'DejaVu Sans', sans-serif" font-size="27.30" font-weight="bold">y</tspan><tspan font-family="'Liberation Sans', sans-serif" font-size="19.93" font-weight="bold" dy="5.46">2</tspan></text>
<text transform="translate(1125.66,2212.00) scale(1.1756,1.0000)" x="0" y="0" fill="#000"><tspan font-family="'DejaVu Sans', sans-serif" font-size="27.30" font-weight="bold">z</tspan><tspan font-family="'Liberation Sans', sans-serif" font-size="19.93" font-weight="bold" dy="5.46">2</tspan></text>
<text transform="translate(776.36,2468.60) scale(1.1388,1.0000)" x="0" y="0" fill="#000"><tspan font-family="'DejaVu Sans', sans-serif" font-size="27.30" font-weight="bold">b</tspan><tspan font-family="'Liberation Sans', sans-serif" font-size="19.93" font-weight="bold" dy="5.46">2</tspan></text>
<text transform="translate(1009.65,2468.60) scale(1.1419,1.0000)" x="0" y="0" fill="#000"><tspan font-family="'DejaVu Sans', sans-serif" font-size="27.30" font-weight="bold">b</tspan><tspan font-family="'Liberation Sans', sans-serif" font-size="19.93" font-weight="bold" dy="5.46">3</tspan></text>
<text transform="translate(1051.57,2468.60) scale(1.2139,1.0000)" x="0" y="0" fill="#000"><tspan font-family="'DejaVu Sans', sans-serif" font-size="27.30" font-weight="bold">c</tspan><tspan font-family="'Liberation Sans', sans-serif" font-size="19.93" font-weight="bold" dy="5.46">3</tspan></text>
<text transform="translate(1237.02,2468.60) scale(1.1532,1.0000)" x="0" y="0" fill="#000"><tspan font-family="'DejaVu Sans', sans-serif" font-size="27.30" font-weight="bold">b</tspan><tspan font-family="'Liberation Sans', sans-serif" font-size="19.93" font-weight="bold" dy="5.46">4</tspan></text>
<text transform="translate(1279.60,2468.60) scale(1.1861,1.0000)" x="0" y="0" fill="#000"><tspan font-family="'DejaVu Sans', sans-serif" font-size="27.30" font-weight="bold">c</tspan><tspan font-family="'Liberation Sans', sans-serif" font-size="19.93" font-weight="bold" dy="5.46">4</tspan></text>
<text transform="translate(1468.94,2468.60) scale(1.1445,1.0000)" x="0" y="0" fill="#000"><tspan font-family="'DejaVu Sans', sans-serif" font-size="27.30" font-weight="bold">b</tspan><tspan font-family="'Liberation Sans', sans-serif" font-size="19.93" font-weight="bold" dy="5.46">5</tspan></text>
</svg>
</body></html>
